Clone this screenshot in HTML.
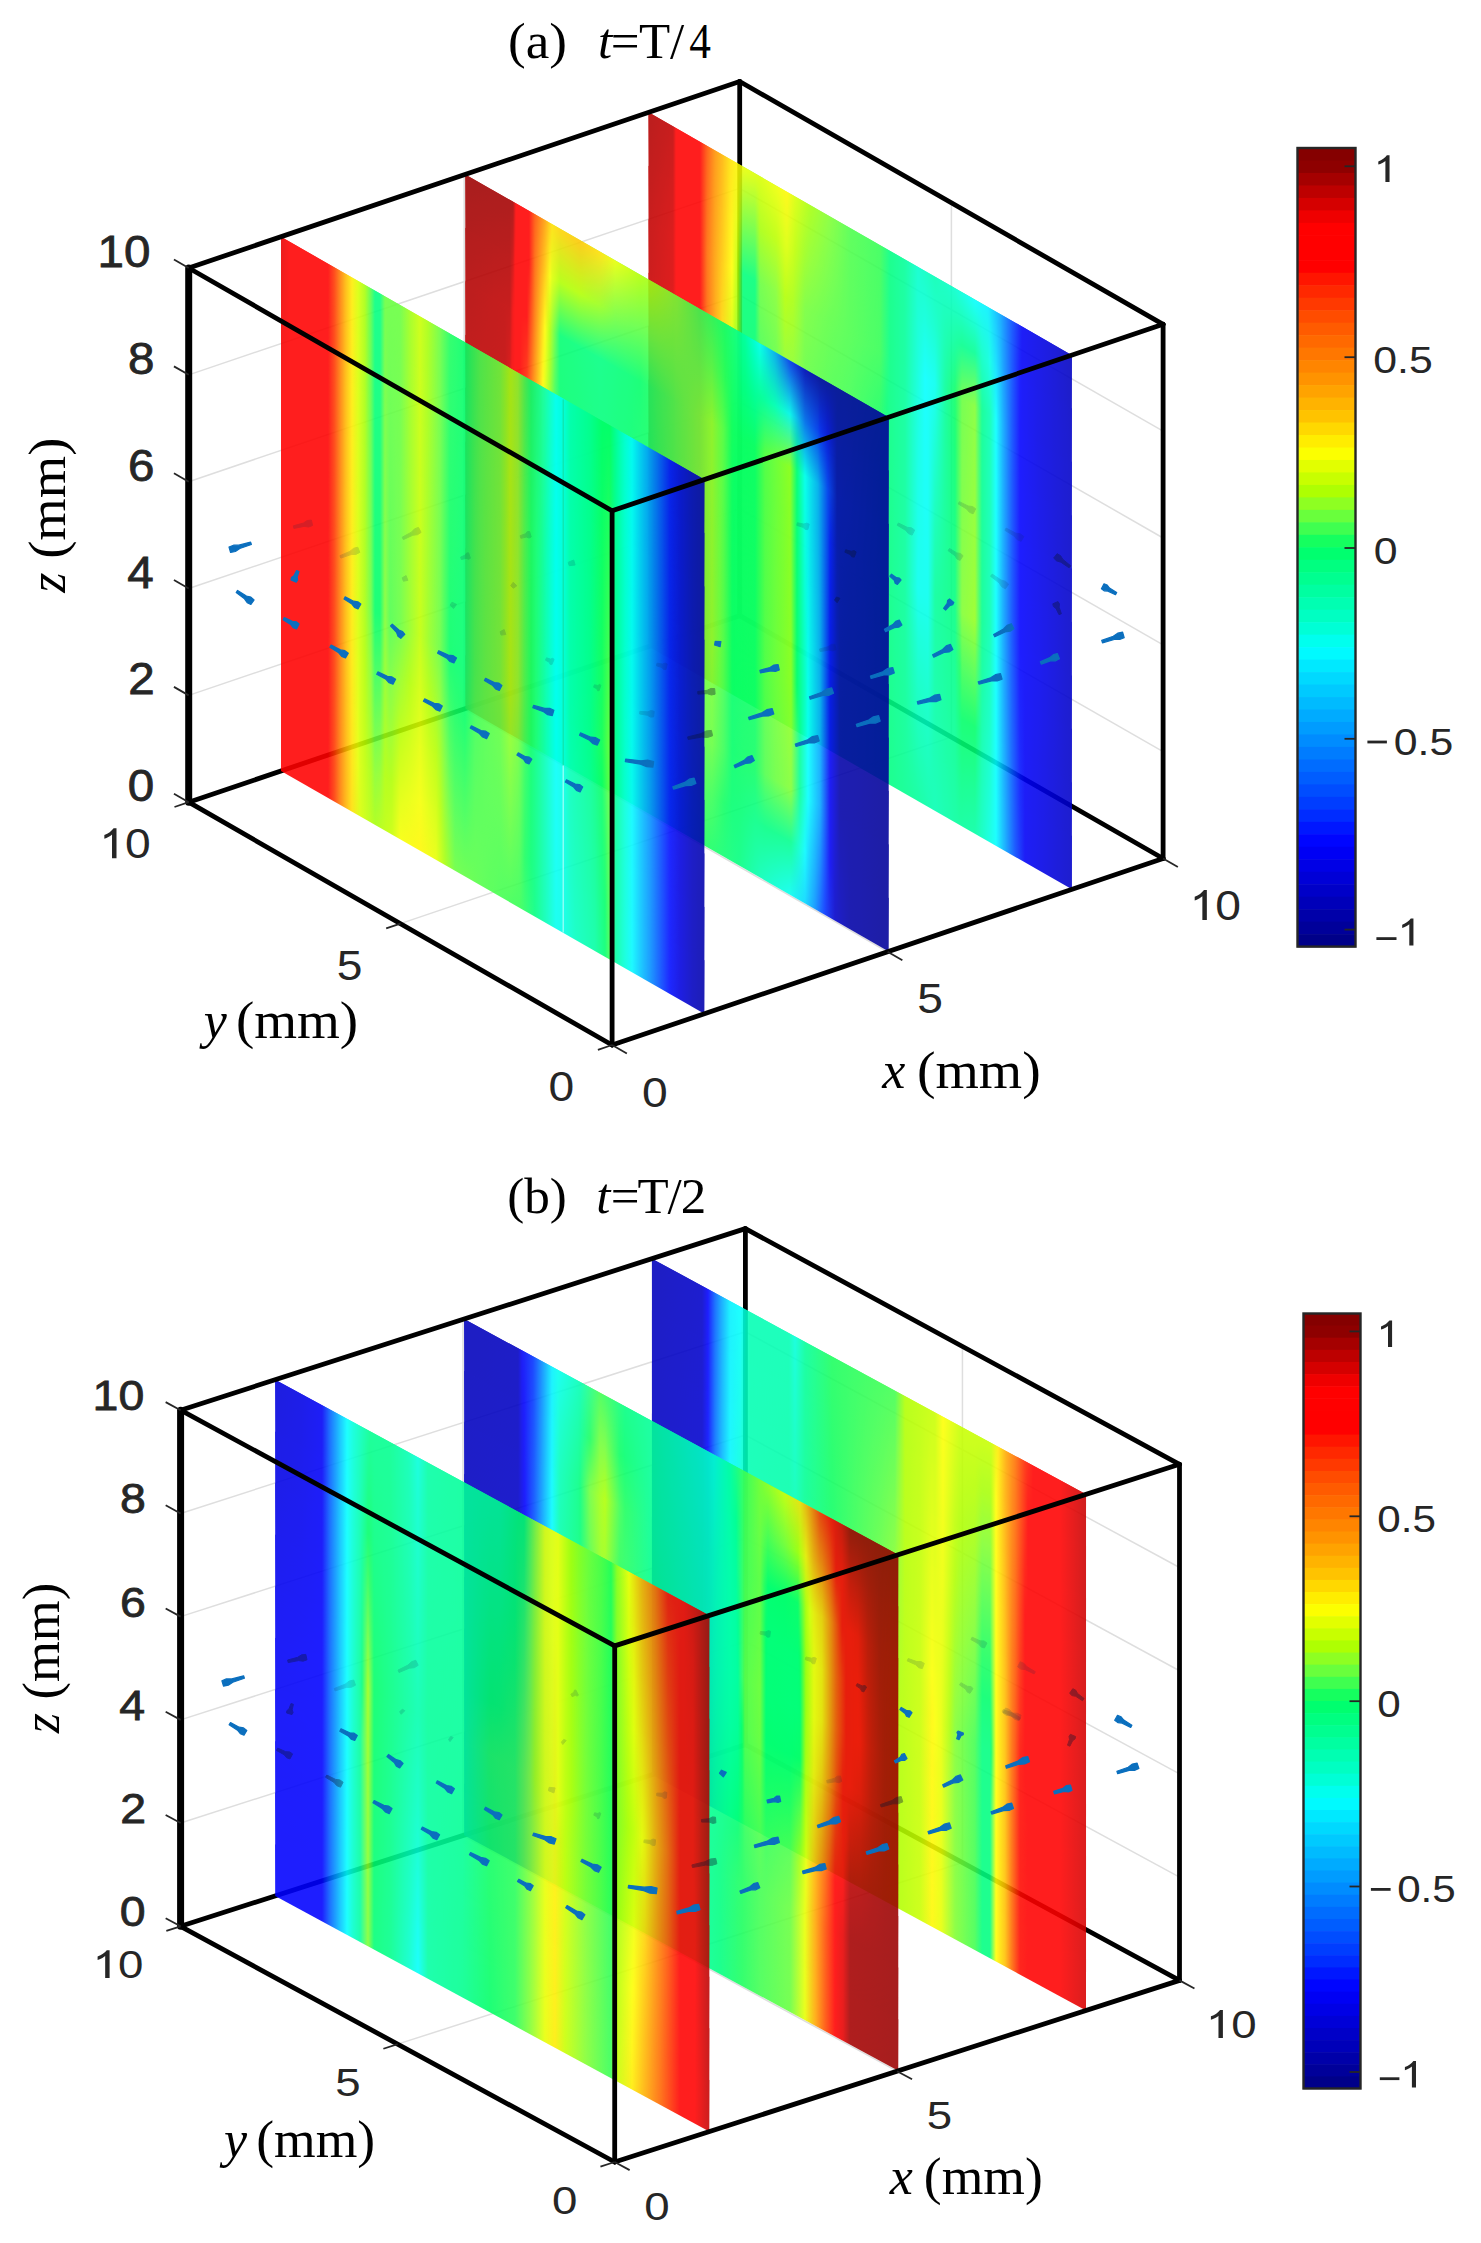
<!DOCTYPE html>
<html><head><meta charset="utf-8"><style>
html,body{margin:0;padding:0;background:#fff;}
svg{display:block;}
</style></head><body>
<svg width="1481" height="2243" viewBox="0 0 1481 2243">
<rect width="1481" height="2243" fill="#fff"/>
<defs>
<linearGradient id="g1" gradientUnits="userSpaceOnUse" x1="0" y1="0" x2="423.4" y2="0"><stop offset="0.0000" stop-color="#b20000"/><stop offset="0.0578" stop-color="#c10000"/><stop offset="0.0649" stop-color="#ff0000"/><stop offset="0.1216" stop-color="#ff0000"/><stop offset="0.1381" stop-color="#ff5000"/><stop offset="0.1570" stop-color="#ff9000"/><stop offset="0.1736" stop-color="#ffb200"/><stop offset="0.1925" stop-color="#ffe000"/><stop offset="0.2090" stop-color="#fff300"/><stop offset="0.2279" stop-color="#e8ff00"/><stop offset="0.2633" stop-color="#d8ff00"/><stop offset="0.3058" stop-color="#efff00"/><stop offset="0.3271" stop-color="#fff900"/><stop offset="0.3460" stop-color="#d8ff00"/><stop offset="0.3814" stop-color="#a6ff0a"/><stop offset="0.4263" stop-color="#80ff30"/><stop offset="0.4759" stop-color="#4dff4a"/><stop offset="0.5467" stop-color="#33ff54"/><stop offset="0.5704" stop-color="#00ff80"/><stop offset="0.6058" stop-color="#00ff99"/><stop offset="0.6365" stop-color="#00ffcc"/><stop offset="0.6766" stop-color="#00ffb3"/><stop offset="0.7239" stop-color="#00ffcc"/><stop offset="0.7711" stop-color="#00ffff"/><stop offset="0.8018" stop-color="#00f0ff"/><stop offset="0.8302" stop-color="#00a8ff"/><stop offset="0.8585" stop-color="#0048ff"/><stop offset="0.8821" stop-color="#0000f6"/><stop offset="0.9364" stop-color="#0000e0"/><stop offset="0.9979" stop-color="#0000c0"/></linearGradient>
<linearGradient id="g2" gradientUnits="userSpaceOnUse" x1="0" y1="0" x2="423.4" y2="0"><stop offset="0.0000" stop-color="#b90000"/><stop offset="0.0578" stop-color="#cc0000"/><stop offset="0.0649" stop-color="#ff0000"/><stop offset="0.1216" stop-color="#ff0000"/><stop offset="0.1381" stop-color="#ff5b00"/><stop offset="0.1570" stop-color="#ff9700"/><stop offset="0.1736" stop-color="#ffbb00"/><stop offset="0.1925" stop-color="#ffea00"/><stop offset="0.1972" stop-color="#fff200"/><stop offset="0.2090" stop-color="#e6ff00"/><stop offset="0.2114" stop-color="#ddff00"/><stop offset="0.2232" stop-color="#7bff32"/><stop offset="0.2279" stop-color="#74ff36"/><stop offset="0.2515" stop-color="#71ff37"/><stop offset="0.2633" stop-color="#a6ff0a"/><stop offset="0.3011" stop-color="#bbff00"/><stop offset="0.3058" stop-color="#c0ff00"/><stop offset="0.3224" stop-color="#d9ff00"/><stop offset="0.3271" stop-color="#dbff00"/><stop offset="0.3413" stop-color="#c6ff00"/><stop offset="0.3460" stop-color="#bdff00"/><stop offset="0.3696" stop-color="#98ff18"/><stop offset="0.3814" stop-color="#8cff24"/><stop offset="0.4263" stop-color="#6dff3a"/><stop offset="0.4759" stop-color="#4bff4a"/><stop offset="0.5467" stop-color="#33ff54"/><stop offset="0.5704" stop-color="#00ff80"/><stop offset="0.6058" stop-color="#00ff99"/><stop offset="0.6365" stop-color="#00ffd3"/><stop offset="0.6530" stop-color="#00ffde"/><stop offset="0.6766" stop-color="#00ffcc"/><stop offset="0.7003" stop-color="#00ffac"/><stop offset="0.7239" stop-color="#00ff98"/><stop offset="0.7404" stop-color="#00ff8b"/><stop offset="0.7711" stop-color="#00ff92"/><stop offset="0.7876" stop-color="#00ffc4"/><stop offset="0.8018" stop-color="#00ffd8"/><stop offset="0.8065" stop-color="#00ffe7"/><stop offset="0.8207" stop-color="#00deff"/><stop offset="0.8302" stop-color="#00bbff"/><stop offset="0.8372" stop-color="#009cff"/><stop offset="0.8585" stop-color="#0048ff"/><stop offset="0.8774" stop-color="#0003ff"/><stop offset="0.8821" stop-color="#0000f9"/><stop offset="0.9246" stop-color="#0000e5"/><stop offset="0.9364" stop-color="#0000e0"/><stop offset="0.9979" stop-color="#0000c5"/></linearGradient>
<linearGradient id="g3" gradientUnits="userSpaceOnUse" x1="0" y1="0" x2="423.4" y2="0"><stop offset="0.0000" stop-color="#c10000"/><stop offset="0.0578" stop-color="#d70000"/><stop offset="0.0649" stop-color="#ff0000"/><stop offset="0.1216" stop-color="#ff0000"/><stop offset="0.1381" stop-color="#ff6600"/><stop offset="0.1570" stop-color="#ff9e00"/><stop offset="0.1736" stop-color="#ffc600"/><stop offset="0.1925" stop-color="#fff400"/><stop offset="0.1972" stop-color="#ffff00"/><stop offset="0.2090" stop-color="#bdff00"/><stop offset="0.2114" stop-color="#b0ff00"/><stop offset="0.2232" stop-color="#00ff7b"/><stop offset="0.2279" stop-color="#00ff7a"/><stop offset="0.2515" stop-color="#00ff76"/><stop offset="0.2633" stop-color="#66ff3d"/><stop offset="0.3011" stop-color="#80ff30"/><stop offset="0.3058" stop-color="#8bff25"/><stop offset="0.3224" stop-color="#b0ff00"/><stop offset="0.3271" stop-color="#aeff02"/><stop offset="0.3413" stop-color="#a6ff0a"/><stop offset="0.3460" stop-color="#9eff12"/><stop offset="0.3696" stop-color="#73ff36"/><stop offset="0.3814" stop-color="#6eff39"/><stop offset="0.4263" stop-color="#5aff43"/><stop offset="0.4759" stop-color="#4aff4b"/><stop offset="0.5467" stop-color="#33ff54"/><stop offset="0.5704" stop-color="#00ff80"/><stop offset="0.6058" stop-color="#00ff99"/><stop offset="0.6365" stop-color="#00ffdb"/><stop offset="0.6530" stop-color="#00ffff"/><stop offset="0.6766" stop-color="#00fff0"/><stop offset="0.7003" stop-color="#00ff99"/><stop offset="0.7239" stop-color="#08ff63"/><stop offset="0.7404" stop-color="#66ff3d"/><stop offset="0.7711" stop-color="#80ff30"/><stop offset="0.7876" stop-color="#00ff8f"/><stop offset="0.8018" stop-color="#00ffaa"/><stop offset="0.8065" stop-color="#00ffb3"/><stop offset="0.8207" stop-color="#00ffff"/><stop offset="0.8302" stop-color="#00ccff"/><stop offset="0.8372" stop-color="#00a8ff"/><stop offset="0.8585" stop-color="#0048ff"/><stop offset="0.8774" stop-color="#0000ff"/><stop offset="0.8821" stop-color="#0000fc"/><stop offset="0.9246" stop-color="#0000e4"/><stop offset="0.9364" stop-color="#0000e0"/><stop offset="0.9979" stop-color="#0000c9"/></linearGradient>
<linearGradient id="g4" gradientUnits="userSpaceOnUse" x1="0" y1="0" x2="423.4" y2="0"><stop offset="0.0000" stop-color="#c60000"/><stop offset="0.0578" stop-color="#db0000"/><stop offset="0.0649" stop-color="#ff0000"/><stop offset="0.1216" stop-color="#ff0000"/><stop offset="0.1381" stop-color="#ff6300"/><stop offset="0.1452" stop-color="#ff7a00"/><stop offset="0.1570" stop-color="#ffa100"/><stop offset="0.1688" stop-color="#ffc200"/><stop offset="0.1736" stop-color="#ffd200"/><stop offset="0.1972" stop-color="#e2ff00"/><stop offset="0.2043" stop-color="#baff00"/><stop offset="0.2114" stop-color="#97ff19"/><stop offset="0.2232" stop-color="#00ff71"/><stop offset="0.2515" stop-color="#00ff70"/><stop offset="0.2633" stop-color="#4dff4a"/><stop offset="0.3011" stop-color="#66ff3d"/><stop offset="0.3224" stop-color="#94ff1d"/><stop offset="0.3413" stop-color="#8fff21"/><stop offset="0.3578" stop-color="#7aff33"/><stop offset="0.3696" stop-color="#66ff3d"/><stop offset="0.4263" stop-color="#4fff48"/><stop offset="0.4759" stop-color="#41ff50"/><stop offset="0.5467" stop-color="#1bff5d"/><stop offset="0.5633" stop-color="#00ff75"/><stop offset="0.5704" stop-color="#00ff81"/><stop offset="0.6058" stop-color="#00ff99"/><stop offset="0.6365" stop-color="#00ffe0"/><stop offset="0.6530" stop-color="#00fffb"/><stop offset="0.6601" stop-color="#00fff8"/><stop offset="0.6766" stop-color="#00ffd5"/><stop offset="0.7003" stop-color="#00ff96"/><stop offset="0.7239" stop-color="#00ff6a"/><stop offset="0.7404" stop-color="#6dff3a"/><stop offset="0.7711" stop-color="#85ff2b"/><stop offset="0.7876" stop-color="#00ff8f"/><stop offset="0.8065" stop-color="#00ffb3"/><stop offset="0.8207" stop-color="#00ffff"/><stop offset="0.8372" stop-color="#00a8ff"/><stop offset="0.8585" stop-color="#0048ff"/><stop offset="0.8774" stop-color="#0000ff"/><stop offset="0.9246" stop-color="#0000e7"/><stop offset="0.9979" stop-color="#0000c9"/></linearGradient>
<linearGradient id="g5" gradientUnits="userSpaceOnUse" x1="0" y1="0" x2="423.4" y2="0"><stop offset="0.0000" stop-color="#cc0000"/><stop offset="0.0578" stop-color="#df0000"/><stop offset="0.0649" stop-color="#ff0000"/><stop offset="0.1216" stop-color="#ff0000"/><stop offset="0.1381" stop-color="#ff6100"/><stop offset="0.1452" stop-color="#ff7a00"/><stop offset="0.1570" stop-color="#ffa300"/><stop offset="0.1688" stop-color="#ffcc00"/><stop offset="0.1736" stop-color="#ffde00"/><stop offset="0.1972" stop-color="#c4ff00"/><stop offset="0.2043" stop-color="#98ff18"/><stop offset="0.2114" stop-color="#7cff32"/><stop offset="0.2232" stop-color="#00ff68"/><stop offset="0.2515" stop-color="#00ff6b"/><stop offset="0.2633" stop-color="#33ff54"/><stop offset="0.3011" stop-color="#4dff4a"/><stop offset="0.3224" stop-color="#74ff36"/><stop offset="0.3413" stop-color="#74ff36"/><stop offset="0.3578" stop-color="#67ff3d"/><stop offset="0.3696" stop-color="#58ff44"/><stop offset="0.4263" stop-color="#45ff4d"/><stop offset="0.4759" stop-color="#38ff53"/><stop offset="0.5467" stop-color="#03ff65"/><stop offset="0.5633" stop-color="#00ff79"/><stop offset="0.5704" stop-color="#00ff82"/><stop offset="0.6058" stop-color="#00ff99"/><stop offset="0.6365" stop-color="#00ffe6"/><stop offset="0.6530" stop-color="#00fff8"/><stop offset="0.6601" stop-color="#00fff6"/><stop offset="0.6766" stop-color="#00ffc0"/><stop offset="0.7003" stop-color="#00ff93"/><stop offset="0.7239" stop-color="#00ff71"/><stop offset="0.7404" stop-color="#73ff36"/><stop offset="0.7711" stop-color="#8aff26"/><stop offset="0.7876" stop-color="#00ff8f"/><stop offset="0.8065" stop-color="#00ffb3"/><stop offset="0.8207" stop-color="#00ffff"/><stop offset="0.8372" stop-color="#00a8ff"/><stop offset="0.8585" stop-color="#0048ff"/><stop offset="0.8774" stop-color="#0000ff"/><stop offset="0.9246" stop-color="#0000e9"/><stop offset="0.9979" stop-color="#0000c9"/></linearGradient>
<linearGradient id="g6" gradientUnits="userSpaceOnUse" x1="0" y1="0" x2="423.4" y2="0"><stop offset="0.0000" stop-color="#d10000"/><stop offset="0.0578" stop-color="#e30000"/><stop offset="0.0649" stop-color="#fc0000"/><stop offset="0.1216" stop-color="#ff0000"/><stop offset="0.1381" stop-color="#ff5e00"/><stop offset="0.1452" stop-color="#ff7a00"/><stop offset="0.1570" stop-color="#ffa600"/><stop offset="0.1688" stop-color="#ffd600"/><stop offset="0.1736" stop-color="#ffe900"/><stop offset="0.1972" stop-color="#a4ff0c"/><stop offset="0.2043" stop-color="#70ff38"/><stop offset="0.2114" stop-color="#5aff43"/><stop offset="0.2232" stop-color="#14ff5f"/><stop offset="0.2515" stop-color="#00ff66"/><stop offset="0.2633" stop-color="#1aff5d"/><stop offset="0.3011" stop-color="#33ff54"/><stop offset="0.3224" stop-color="#4eff49"/><stop offset="0.3413" stop-color="#54ff46"/><stop offset="0.3578" stop-color="#53ff46"/><stop offset="0.3696" stop-color="#4bff4b"/><stop offset="0.4263" stop-color="#3bff52"/><stop offset="0.4759" stop-color="#2fff56"/><stop offset="0.5467" stop-color="#00ff6e"/><stop offset="0.5633" stop-color="#00ff7c"/><stop offset="0.5704" stop-color="#00ff83"/><stop offset="0.6058" stop-color="#00ff99"/><stop offset="0.6365" stop-color="#00ffeb"/><stop offset="0.6530" stop-color="#00fff4"/><stop offset="0.6601" stop-color="#00fff3"/><stop offset="0.6766" stop-color="#00ffac"/><stop offset="0.7003" stop-color="#00ff90"/><stop offset="0.7239" stop-color="#00ff79"/><stop offset="0.7404" stop-color="#7aff33"/><stop offset="0.7711" stop-color="#8eff22"/><stop offset="0.7876" stop-color="#00ff8f"/><stop offset="0.8065" stop-color="#00ffb3"/><stop offset="0.8207" stop-color="#00ffff"/><stop offset="0.8372" stop-color="#00a8ff"/><stop offset="0.8585" stop-color="#0048ff"/><stop offset="0.8774" stop-color="#0000ff"/><stop offset="0.9246" stop-color="#0000eb"/><stop offset="0.9979" stop-color="#0000c9"/></linearGradient>
<linearGradient id="g7" gradientUnits="userSpaceOnUse" x1="0" y1="0" x2="423.4" y2="0"><stop offset="0.0000" stop-color="#d70000"/><stop offset="0.0578" stop-color="#e70000"/><stop offset="0.0649" stop-color="#f30000"/><stop offset="0.1216" stop-color="#ff0000"/><stop offset="0.1381" stop-color="#ff5b00"/><stop offset="0.1452" stop-color="#ff7a00"/><stop offset="0.1570" stop-color="#ffa800"/><stop offset="0.1688" stop-color="#ffe000"/><stop offset="0.1736" stop-color="#fff500"/><stop offset="0.1972" stop-color="#80ff30"/><stop offset="0.2043" stop-color="#40ff50"/><stop offset="0.2114" stop-color="#38ff53"/><stop offset="0.2232" stop-color="#2cff57"/><stop offset="0.2515" stop-color="#0dff62"/><stop offset="0.2633" stop-color="#00ff66"/><stop offset="0.3011" stop-color="#1aff5d"/><stop offset="0.3224" stop-color="#28ff58"/><stop offset="0.3413" stop-color="#35ff54"/><stop offset="0.3578" stop-color="#40ff50"/><stop offset="0.3696" stop-color="#3dff51"/><stop offset="0.4263" stop-color="#31ff55"/><stop offset="0.4759" stop-color="#26ff59"/><stop offset="0.5467" stop-color="#00ff78"/><stop offset="0.5633" stop-color="#00ff80"/><stop offset="0.5704" stop-color="#00ff84"/><stop offset="0.6058" stop-color="#00ff99"/><stop offset="0.6365" stop-color="#00fff0"/><stop offset="0.6530" stop-color="#00fff0"/><stop offset="0.6601" stop-color="#00fff0"/><stop offset="0.6766" stop-color="#00ff99"/><stop offset="0.7003" stop-color="#00ff8c"/><stop offset="0.7239" stop-color="#00ff80"/><stop offset="0.7404" stop-color="#80ff30"/><stop offset="0.7711" stop-color="#93ff1d"/><stop offset="0.7876" stop-color="#00ff8f"/><stop offset="0.8065" stop-color="#00ffb3"/><stop offset="0.8207" stop-color="#00ffff"/><stop offset="0.8372" stop-color="#00a8ff"/><stop offset="0.8585" stop-color="#0048ff"/><stop offset="0.8774" stop-color="#0000ff"/><stop offset="0.9246" stop-color="#0000ed"/><stop offset="0.9979" stop-color="#0000c9"/></linearGradient>
<linearGradient id="g8" gradientUnits="userSpaceOnUse" x1="0" y1="0" x2="423.4" y2="0"><stop offset="0.0000" stop-color="#d70000"/><stop offset="0.0578" stop-color="#e70000"/><stop offset="0.1216" stop-color="#ff0000"/><stop offset="0.1452" stop-color="#ff7a00"/><stop offset="0.1688" stop-color="#ffe000"/><stop offset="0.2043" stop-color="#40ff50"/><stop offset="0.2633" stop-color="#00ff66"/><stop offset="0.3578" stop-color="#40ff50"/><stop offset="0.4759" stop-color="#26ff59"/><stop offset="0.5633" stop-color="#00ff80"/><stop offset="0.6058" stop-color="#00ff96"/><stop offset="0.6341" stop-color="#00ffcf"/><stop offset="0.6365" stop-color="#00ffd6"/><stop offset="0.6601" stop-color="#00ffdb"/><stop offset="0.6766" stop-color="#00ffa0"/><stop offset="0.7239" stop-color="#00ff88"/><stop offset="0.7357" stop-color="#17ff5e"/><stop offset="0.7404" stop-color="#3fff50"/><stop offset="0.7711" stop-color="#4dff4a"/><stop offset="0.7876" stop-color="#00ff9b"/><stop offset="0.7947" stop-color="#00ffa8"/><stop offset="0.8065" stop-color="#00ffbd"/><stop offset="0.8207" stop-color="#00ffff"/><stop offset="0.8372" stop-color="#00adff"/><stop offset="0.8420" stop-color="#0098ff"/><stop offset="0.8585" stop-color="#004fff"/><stop offset="0.8656" stop-color="#0036ff"/><stop offset="0.8774" stop-color="#0007ff"/><stop offset="0.8892" stop-color="#0000f9"/><stop offset="0.9246" stop-color="#0000ec"/><stop offset="0.9979" stop-color="#0000c9"/></linearGradient>
<linearGradient id="g9" gradientUnits="userSpaceOnUse" x1="0" y1="0" x2="423.4" y2="0"><stop offset="0.0000" stop-color="#d70000"/><stop offset="0.0578" stop-color="#e70000"/><stop offset="0.1216" stop-color="#ff0000"/><stop offset="0.1452" stop-color="#ff7a00"/><stop offset="0.1688" stop-color="#ffe000"/><stop offset="0.2043" stop-color="#40ff50"/><stop offset="0.2633" stop-color="#00ff66"/><stop offset="0.3578" stop-color="#40ff50"/><stop offset="0.4759" stop-color="#26ff59"/><stop offset="0.5633" stop-color="#00ff80"/><stop offset="0.6058" stop-color="#00ff94"/><stop offset="0.6341" stop-color="#00ffbd"/><stop offset="0.6365" stop-color="#00ffc0"/><stop offset="0.6601" stop-color="#00ffc7"/><stop offset="0.6766" stop-color="#00ffa6"/><stop offset="0.7239" stop-color="#00ff8f"/><stop offset="0.7357" stop-color="#00ff71"/><stop offset="0.7404" stop-color="#00ff67"/><stop offset="0.7711" stop-color="#00ff66"/><stop offset="0.7876" stop-color="#00ffa8"/><stop offset="0.7947" stop-color="#00ffb5"/><stop offset="0.8065" stop-color="#00ffc7"/><stop offset="0.8207" stop-color="#00ffff"/><stop offset="0.8372" stop-color="#00b2ff"/><stop offset="0.8420" stop-color="#009dff"/><stop offset="0.8585" stop-color="#0056ff"/><stop offset="0.8656" stop-color="#003cff"/><stop offset="0.8774" stop-color="#000fff"/><stop offset="0.8892" stop-color="#0000f8"/><stop offset="0.9246" stop-color="#0000ea"/><stop offset="0.9979" stop-color="#0000c9"/></linearGradient>
<linearGradient id="g10" gradientUnits="userSpaceOnUse" x1="0" y1="0" x2="423.4" y2="0"><stop offset="0.0000" stop-color="#d70000"/><stop offset="0.0578" stop-color="#e70000"/><stop offset="0.1216" stop-color="#ff0000"/><stop offset="0.1452" stop-color="#ff7a00"/><stop offset="0.1688" stop-color="#ffe000"/><stop offset="0.2043" stop-color="#40ff50"/><stop offset="0.2633" stop-color="#00ff66"/><stop offset="0.3578" stop-color="#40ff50"/><stop offset="0.4759" stop-color="#26ff59"/><stop offset="0.5633" stop-color="#00ff80"/><stop offset="0.6058" stop-color="#00ff92"/><stop offset="0.6341" stop-color="#00ffab"/><stop offset="0.6365" stop-color="#00ffae"/><stop offset="0.6601" stop-color="#00ffb8"/><stop offset="0.6766" stop-color="#00ffac"/><stop offset="0.7239" stop-color="#00ff96"/><stop offset="0.7357" stop-color="#00ff85"/><stop offset="0.7404" stop-color="#00ff81"/><stop offset="0.7711" stop-color="#00ff85"/><stop offset="0.7876" stop-color="#00ffb4"/><stop offset="0.7947" stop-color="#00ffc0"/><stop offset="0.8065" stop-color="#00ffd4"/><stop offset="0.8207" stop-color="#00ffff"/><stop offset="0.8372" stop-color="#00b6ff"/><stop offset="0.8420" stop-color="#00a3ff"/><stop offset="0.8585" stop-color="#005eff"/><stop offset="0.8656" stop-color="#0042ff"/><stop offset="0.8774" stop-color="#0017ff"/><stop offset="0.8892" stop-color="#0000f7"/><stop offset="0.9246" stop-color="#0000e9"/><stop offset="0.9979" stop-color="#0000c9"/></linearGradient>
<linearGradient id="g11" gradientUnits="userSpaceOnUse" x1="0" y1="0" x2="423.4" y2="0"><stop offset="0.0000" stop-color="#d70000"/><stop offset="0.0578" stop-color="#e70000"/><stop offset="0.1216" stop-color="#ff0000"/><stop offset="0.1452" stop-color="#ff7a00"/><stop offset="0.1688" stop-color="#ffe000"/><stop offset="0.2043" stop-color="#40ff50"/><stop offset="0.2633" stop-color="#00ff66"/><stop offset="0.3578" stop-color="#40ff50"/><stop offset="0.4759" stop-color="#26ff59"/><stop offset="0.5633" stop-color="#00ff80"/><stop offset="0.6341" stop-color="#00ff99"/><stop offset="0.6766" stop-color="#00ffb3"/><stop offset="0.7357" stop-color="#00ff99"/><stop offset="0.7711" stop-color="#00ffa3"/><stop offset="0.7947" stop-color="#00ffcc"/><stop offset="0.8207" stop-color="#00ffff"/><stop offset="0.8420" stop-color="#00a8ff"/><stop offset="0.8656" stop-color="#0048ff"/><stop offset="0.8892" stop-color="#0000f6"/><stop offset="0.9979" stop-color="#0000c9"/></linearGradient>
<linearGradient id="mg13" gradientUnits="userSpaceOnUse" x1="0" y1="480.78" x2="0" y2="534.2"><stop offset="0" stop-color="#fff"/><stop offset="1" stop-color="#000"/></linearGradient>
<mask id="m12" maskUnits="userSpaceOnUse" x="-2" y="425.36" width="427.4" height="110.84"><rect x="-2" y="425.36" width="427.4" height="110.84" fill="url(#mg13)"/></mask>
<linearGradient id="mg15" gradientUnits="userSpaceOnUse" x1="0" y1="427.36" x2="0" y2="480.78"><stop offset="0" stop-color="#fff"/><stop offset="1" stop-color="#000"/></linearGradient>
<mask id="m14" maskUnits="userSpaceOnUse" x="-2" y="371.94" width="427.4" height="110.84"><rect x="-2" y="371.94" width="427.4" height="110.84" fill="url(#mg15)"/></mask>
<linearGradient id="mg17" gradientUnits="userSpaceOnUse" x1="0" y1="373.94" x2="0" y2="427.36"><stop offset="0" stop-color="#fff"/><stop offset="1" stop-color="#000"/></linearGradient>
<mask id="m16" maskUnits="userSpaceOnUse" x="-2" y="318.52" width="427.4" height="110.84"><rect x="-2" y="318.52" width="427.4" height="110.84" fill="url(#mg17)"/></mask>
<linearGradient id="mg19" gradientUnits="userSpaceOnUse" x1="0" y1="320.52" x2="0" y2="373.94"><stop offset="0" stop-color="#fff"/><stop offset="1" stop-color="#000"/></linearGradient>
<mask id="m18" maskUnits="userSpaceOnUse" x="-2" y="265.1" width="427.4" height="110.84"><rect x="-2" y="265.1" width="427.4" height="110.84" fill="url(#mg19)"/></mask>
<linearGradient id="mg21" gradientUnits="userSpaceOnUse" x1="0" y1="267.1" x2="0" y2="320.52"><stop offset="0" stop-color="#fff"/><stop offset="1" stop-color="#000"/></linearGradient>
<mask id="m20" maskUnits="userSpaceOnUse" x="-2" y="211.68" width="427.4" height="110.84"><rect x="-2" y="211.68" width="427.4" height="110.84" fill="url(#mg21)"/></mask>
<linearGradient id="mg23" gradientUnits="userSpaceOnUse" x1="0" y1="213.68" x2="0" y2="267.1"><stop offset="0" stop-color="#fff"/><stop offset="1" stop-color="#000"/></linearGradient>
<mask id="m22" maskUnits="userSpaceOnUse" x="-2" y="158.26" width="427.4" height="110.84"><rect x="-2" y="158.26" width="427.4" height="110.84" fill="url(#mg23)"/></mask>
<linearGradient id="mg25" gradientUnits="userSpaceOnUse" x1="0" y1="160.26" x2="0" y2="213.68"><stop offset="0" stop-color="#fff"/><stop offset="1" stop-color="#000"/></linearGradient>
<mask id="m24" maskUnits="userSpaceOnUse" x="-2" y="104.84" width="427.4" height="110.84"><rect x="-2" y="104.84" width="427.4" height="110.84" fill="url(#mg25)"/></mask>
<linearGradient id="mg27" gradientUnits="userSpaceOnUse" x1="0" y1="106.84" x2="0" y2="160.26"><stop offset="0" stop-color="#fff"/><stop offset="1" stop-color="#000"/></linearGradient>
<mask id="m26" maskUnits="userSpaceOnUse" x="-2" y="51.42" width="427.4" height="110.84"><rect x="-2" y="51.42" width="427.4" height="110.84" fill="url(#mg27)"/></mask>
<linearGradient id="mg29" gradientUnits="userSpaceOnUse" x1="0" y1="53.42" x2="0" y2="106.84"><stop offset="0" stop-color="#fff"/><stop offset="1" stop-color="#000"/></linearGradient>
<mask id="m28" maskUnits="userSpaceOnUse" x="-2" y="-2" width="427.4" height="110.84"><rect x="-2" y="-2" width="427.4" height="110.84" fill="url(#mg29)"/></mask>
<linearGradient id="mg31" gradientUnits="userSpaceOnUse" x1="0" y1="0" x2="0" y2="53.42"><stop offset="0" stop-color="#fff"/><stop offset="1" stop-color="#000"/></linearGradient>
<mask id="m30" maskUnits="userSpaceOnUse" x="-2" y="-2" width="427.4" height="57.42"><rect x="-2" y="-2" width="427.4" height="57.42" fill="url(#mg31)"/></mask>
<linearGradient id="g32" gradientUnits="userSpaceOnUse" x1="0" y1="0" x2="423.4" y2="0"><stop offset="0.0005" stop-color="#9c0000"/><stop offset="0.1127" stop-color="#a40000"/><stop offset="0.1197" stop-color="#ff0000"/><stop offset="0.1504" stop-color="#ff0000"/><stop offset="0.1646" stop-color="#ff5000"/><stop offset="0.1882" stop-color="#ff9e00"/><stop offset="0.2048" stop-color="#ffe000"/><stop offset="0.2237" stop-color="#ffd300"/><stop offset="0.2709" stop-color="#ffc600"/><stop offset="0.3181" stop-color="#ffe000"/><stop offset="0.3536" stop-color="#e8ff00"/><stop offset="0.4126" stop-color="#b0ff00"/><stop offset="0.4835" stop-color="#80ff30"/><stop offset="0.5543" stop-color="#33ff54"/><stop offset="0.6134" stop-color="#00ff70"/><stop offset="0.6606" stop-color="#00ffa3"/><stop offset="0.6960" stop-color="#00ffff"/><stop offset="0.7315" stop-color="#00a8ff"/><stop offset="0.7669" stop-color="#0030ff"/><stop offset="0.8023" stop-color="#0000c9"/><stop offset="0.8377" stop-color="#0000a8"/><stop offset="0.9983" stop-color="#00009a"/></linearGradient>
<linearGradient id="g33" gradientUnits="userSpaceOnUse" x1="0" y1="0" x2="423.4" y2="0"><stop offset="0.0005" stop-color="#a70000"/><stop offset="0.1056" stop-color="#b20000"/><stop offset="0.1127" stop-color="#ca0000"/><stop offset="0.1174" stop-color="#fe0000"/><stop offset="0.1197" stop-color="#ff0000"/><stop offset="0.1457" stop-color="#ff0000"/><stop offset="0.1504" stop-color="#ff0000"/><stop offset="0.1646" stop-color="#ff6600"/><stop offset="0.1835" stop-color="#ffb300"/><stop offset="0.1882" stop-color="#ffc700"/><stop offset="0.2000" stop-color="#f9ff00"/><stop offset="0.2048" stop-color="#deff00"/><stop offset="0.2237" stop-color="#b0ff00"/><stop offset="0.2709" stop-color="#b2ff00"/><stop offset="0.3181" stop-color="#98ff18"/><stop offset="0.3536" stop-color="#76ff35"/><stop offset="0.3890" stop-color="#65ff3d"/><stop offset="0.4126" stop-color="#5eff41"/><stop offset="0.4598" stop-color="#5eff41"/><stop offset="0.4835" stop-color="#5bff42"/><stop offset="0.5543" stop-color="#4dff4a"/><stop offset="0.5827" stop-color="#47ff4c"/><stop offset="0.6110" stop-color="#15ff5f"/><stop offset="0.6134" stop-color="#0fff61"/><stop offset="0.6299" stop-color="#00ff74"/><stop offset="0.6606" stop-color="#00ff84"/><stop offset="0.6842" stop-color="#00ff9c"/><stop offset="0.6960" stop-color="#00ffa1"/><stop offset="0.7078" stop-color="#00ffa9"/><stop offset="0.7315" stop-color="#00ffc2"/><stop offset="0.7669" stop-color="#00f5ff"/><stop offset="0.7834" stop-color="#00b6ff"/><stop offset="0.8023" stop-color="#0067ff"/><stop offset="0.8330" stop-color="#002dff"/><stop offset="0.8377" stop-color="#001aff"/><stop offset="0.8566" stop-color="#0000e6"/><stop offset="0.8779" stop-color="#0000ab"/><stop offset="0.9983" stop-color="#00009a"/></linearGradient>
<linearGradient id="g34" gradientUnits="userSpaceOnUse" x1="0" y1="0" x2="423.4" y2="0"><stop offset="0.0005" stop-color="#b20000"/><stop offset="0.1056" stop-color="#c10000"/><stop offset="0.1127" stop-color="#f40000"/><stop offset="0.1174" stop-color="#ff0000"/><stop offset="0.1197" stop-color="#ff0000"/><stop offset="0.1457" stop-color="#ff0000"/><stop offset="0.1504" stop-color="#ff2000"/><stop offset="0.1646" stop-color="#ff7a00"/><stop offset="0.1835" stop-color="#ffe000"/><stop offset="0.1882" stop-color="#fffb00"/><stop offset="0.2000" stop-color="#b0ff00"/><stop offset="0.2048" stop-color="#8fff21"/><stop offset="0.2237" stop-color="#00ff70"/><stop offset="0.2709" stop-color="#00ff78"/><stop offset="0.3181" stop-color="#00ff80"/><stop offset="0.3536" stop-color="#00ff78"/><stop offset="0.3890" stop-color="#00ff70"/><stop offset="0.4126" stop-color="#00ff68"/><stop offset="0.4598" stop-color="#26ff59"/><stop offset="0.4835" stop-color="#36ff53"/><stop offset="0.5543" stop-color="#66ff3d"/><stop offset="0.5827" stop-color="#80ff30"/><stop offset="0.6110" stop-color="#40ff50"/><stop offset="0.6134" stop-color="#38ff53"/><stop offset="0.6299" stop-color="#00ff66"/><stop offset="0.6606" stop-color="#07ff64"/><stop offset="0.6842" stop-color="#0dff62"/><stop offset="0.6960" stop-color="#33ff54"/><stop offset="0.7078" stop-color="#5aff43"/><stop offset="0.7315" stop-color="#73ff36"/><stop offset="0.7669" stop-color="#93ff1d"/><stop offset="0.7834" stop-color="#00ff80"/><stop offset="0.8023" stop-color="#00ffff"/><stop offset="0.8330" stop-color="#00a8ff"/><stop offset="0.8377" stop-color="#0090ff"/><stop offset="0.8566" stop-color="#0030ff"/><stop offset="0.8779" stop-color="#0000b2"/><stop offset="0.9983" stop-color="#00009a"/></linearGradient>
<linearGradient id="g35" gradientUnits="userSpaceOnUse" x1="0" y1="0" x2="423.4" y2="0"><stop offset="0.0005" stop-color="#b80000"/><stop offset="0.0938" stop-color="#c10000"/><stop offset="0.1056" stop-color="#d30000"/><stop offset="0.1103" stop-color="#f30000"/><stop offset="0.1174" stop-color="#ff0000"/><stop offset="0.1292" stop-color="#ff0000"/><stop offset="0.1457" stop-color="#ff2300"/><stop offset="0.1481" stop-color="#ff3200"/><stop offset="0.1646" stop-color="#ff9100"/><stop offset="0.1670" stop-color="#ff9d00"/><stop offset="0.1835" stop-color="#fff900"/><stop offset="0.1882" stop-color="#e6ff00"/><stop offset="0.2000" stop-color="#98ff18"/><stop offset="0.2119" stop-color="#3eff51"/><stop offset="0.2237" stop-color="#00ff6e"/><stop offset="0.3181" stop-color="#00ff7c"/><stop offset="0.3890" stop-color="#00ff6f"/><stop offset="0.4362" stop-color="#0dff62"/><stop offset="0.4598" stop-color="#22ff5a"/><stop offset="0.5543" stop-color="#66ff3d"/><stop offset="0.5827" stop-color="#80ff30"/><stop offset="0.6110" stop-color="#40ff50"/><stop offset="0.6299" stop-color="#00ff66"/><stop offset="0.6842" stop-color="#0dff62"/><stop offset="0.7078" stop-color="#5aff43"/><stop offset="0.7315" stop-color="#73ff36"/><stop offset="0.7669" stop-color="#93ff1d"/><stop offset="0.7692" stop-color="#82ff2e"/><stop offset="0.7834" stop-color="#00ff7d"/><stop offset="0.7905" stop-color="#00ffa6"/><stop offset="0.8023" stop-color="#00fff3"/><stop offset="0.8094" stop-color="#00efff"/><stop offset="0.8330" stop-color="#00acff"/><stop offset="0.8377" stop-color="#0096ff"/><stop offset="0.8566" stop-color="#002bff"/><stop offset="0.8614" stop-color="#0007ff"/><stop offset="0.8779" stop-color="#0000b5"/><stop offset="0.8850" stop-color="#0000ae"/><stop offset="0.9983" stop-color="#00009a"/></linearGradient>
<linearGradient id="g36" gradientUnits="userSpaceOnUse" x1="0" y1="0" x2="423.4" y2="0"><stop offset="0.0005" stop-color="#bd0000"/><stop offset="0.0938" stop-color="#c40000"/><stop offset="0.1056" stop-color="#e50000"/><stop offset="0.1103" stop-color="#ff0000"/><stop offset="0.1174" stop-color="#ff0000"/><stop offset="0.1292" stop-color="#ff0000"/><stop offset="0.1457" stop-color="#ff4700"/><stop offset="0.1481" stop-color="#ff5700"/><stop offset="0.1646" stop-color="#ffaa00"/><stop offset="0.1670" stop-color="#ffb500"/><stop offset="0.1835" stop-color="#e7ff00"/><stop offset="0.1882" stop-color="#c7ff00"/><stop offset="0.2000" stop-color="#80ff30"/><stop offset="0.2119" stop-color="#2aff58"/><stop offset="0.2237" stop-color="#00ff6c"/><stop offset="0.3181" stop-color="#00ff78"/><stop offset="0.3890" stop-color="#00ff6d"/><stop offset="0.4362" stop-color="#09ff63"/><stop offset="0.4598" stop-color="#1dff5c"/><stop offset="0.5543" stop-color="#66ff3d"/><stop offset="0.5827" stop-color="#80ff30"/><stop offset="0.6110" stop-color="#40ff50"/><stop offset="0.6299" stop-color="#00ff66"/><stop offset="0.6842" stop-color="#0dff62"/><stop offset="0.7078" stop-color="#5aff43"/><stop offset="0.7315" stop-color="#73ff36"/><stop offset="0.7669" stop-color="#92ff1e"/><stop offset="0.7692" stop-color="#88ff28"/><stop offset="0.7834" stop-color="#00ff7a"/><stop offset="0.7905" stop-color="#00ffa1"/><stop offset="0.8023" stop-color="#00ffe8"/><stop offset="0.8094" stop-color="#00f4ff"/><stop offset="0.8330" stop-color="#00afff"/><stop offset="0.8377" stop-color="#009cff"/><stop offset="0.8566" stop-color="#0026ff"/><stop offset="0.8614" stop-color="#0001ff"/><stop offset="0.8779" stop-color="#0000b9"/><stop offset="0.8850" stop-color="#0000ac"/><stop offset="0.9983" stop-color="#00009a"/></linearGradient>
<linearGradient id="g37" gradientUnits="userSpaceOnUse" x1="0" y1="0" x2="423.4" y2="0"><stop offset="0.0005" stop-color="#c30000"/><stop offset="0.0938" stop-color="#c60000"/><stop offset="0.1056" stop-color="#f80000"/><stop offset="0.1103" stop-color="#ff0000"/><stop offset="0.1174" stop-color="#ff0000"/><stop offset="0.1292" stop-color="#ff0600"/><stop offset="0.1457" stop-color="#ff6700"/><stop offset="0.1481" stop-color="#ff7300"/><stop offset="0.1646" stop-color="#ffc400"/><stop offset="0.1670" stop-color="#ffd200"/><stop offset="0.1835" stop-color="#c7ff00"/><stop offset="0.1882" stop-color="#a6ff0a"/><stop offset="0.2000" stop-color="#60ff40"/><stop offset="0.2119" stop-color="#15ff5f"/><stop offset="0.2237" stop-color="#00ff69"/><stop offset="0.3181" stop-color="#00ff74"/><stop offset="0.3890" stop-color="#00ff6c"/><stop offset="0.4362" stop-color="#04ff65"/><stop offset="0.4598" stop-color="#19ff5d"/><stop offset="0.5543" stop-color="#66ff3d"/><stop offset="0.5827" stop-color="#80ff30"/><stop offset="0.6110" stop-color="#40ff50"/><stop offset="0.6299" stop-color="#00ff66"/><stop offset="0.6842" stop-color="#0dff62"/><stop offset="0.7078" stop-color="#5aff43"/><stop offset="0.7315" stop-color="#73ff36"/><stop offset="0.7669" stop-color="#92ff1e"/><stop offset="0.7692" stop-color="#8dff23"/><stop offset="0.7834" stop-color="#00ff77"/><stop offset="0.7905" stop-color="#00ff9d"/><stop offset="0.8023" stop-color="#00ffdc"/><stop offset="0.8094" stop-color="#00faff"/><stop offset="0.8330" stop-color="#00b3ff"/><stop offset="0.8377" stop-color="#00a2ff"/><stop offset="0.8566" stop-color="#0022ff"/><stop offset="0.8614" stop-color="#0000fb"/><stop offset="0.8779" stop-color="#0000bd"/><stop offset="0.8850" stop-color="#0000aa"/><stop offset="0.9983" stop-color="#00009a"/></linearGradient>
<linearGradient id="g38" gradientUnits="userSpaceOnUse" x1="0" y1="0" x2="423.4" y2="0"><stop offset="0.0005" stop-color="#c80000"/><stop offset="0.0938" stop-color="#c80000"/><stop offset="0.1056" stop-color="#ff0000"/><stop offset="0.1103" stop-color="#ff0000"/><stop offset="0.1174" stop-color="#ff0000"/><stop offset="0.1292" stop-color="#ff1a00"/><stop offset="0.1457" stop-color="#ff8200"/><stop offset="0.1481" stop-color="#ff9000"/><stop offset="0.1646" stop-color="#ffe500"/><stop offset="0.1670" stop-color="#fff300"/><stop offset="0.1835" stop-color="#a4ff0c"/><stop offset="0.1882" stop-color="#80ff30"/><stop offset="0.2000" stop-color="#40ff50"/><stop offset="0.2119" stop-color="#00ff66"/><stop offset="0.2237" stop-color="#00ff67"/><stop offset="0.3181" stop-color="#00ff70"/><stop offset="0.3890" stop-color="#00ff6a"/><stop offset="0.4362" stop-color="#00ff66"/><stop offset="0.4598" stop-color="#14ff5f"/><stop offset="0.5543" stop-color="#66ff3d"/><stop offset="0.5827" stop-color="#80ff30"/><stop offset="0.6110" stop-color="#40ff50"/><stop offset="0.6299" stop-color="#00ff66"/><stop offset="0.6842" stop-color="#0dff62"/><stop offset="0.7078" stop-color="#5aff43"/><stop offset="0.7315" stop-color="#73ff36"/><stop offset="0.7669" stop-color="#91ff1f"/><stop offset="0.7692" stop-color="#93ff1d"/><stop offset="0.7834" stop-color="#00ff74"/><stop offset="0.7905" stop-color="#00ff99"/><stop offset="0.8023" stop-color="#00ffd1"/><stop offset="0.8094" stop-color="#00ffff"/><stop offset="0.8330" stop-color="#00b6ff"/><stop offset="0.8377" stop-color="#00a8ff"/><stop offset="0.8566" stop-color="#001dff"/><stop offset="0.8614" stop-color="#0000f6"/><stop offset="0.8779" stop-color="#0000c0"/><stop offset="0.8850" stop-color="#0000a8"/><stop offset="0.9983" stop-color="#00009a"/></linearGradient>
<linearGradient id="g39" gradientUnits="userSpaceOnUse" x1="0" y1="0" x2="423.4" y2="0"><stop offset="0.0005" stop-color="#cc0000"/><stop offset="0.0938" stop-color="#cc0000"/><stop offset="0.1103" stop-color="#ff0000"/><stop offset="0.1292" stop-color="#ff1a00"/><stop offset="0.1481" stop-color="#ff9000"/><stop offset="0.1670" stop-color="#fff300"/><stop offset="0.1882" stop-color="#80ff30"/><stop offset="0.2119" stop-color="#00ff66"/><stop offset="0.3181" stop-color="#00ff6e"/><stop offset="0.4362" stop-color="#06ff64"/><stop offset="0.5543" stop-color="#60ff40"/><stop offset="0.5827" stop-color="#73ff36"/><stop offset="0.6110" stop-color="#3aff52"/><stop offset="0.6299" stop-color="#00ff66"/><stop offset="0.6842" stop-color="#0dff62"/><stop offset="0.7078" stop-color="#53ff46"/><stop offset="0.7315" stop-color="#6dff3a"/><stop offset="0.7692" stop-color="#8aff26"/><stop offset="0.7905" stop-color="#00ff99"/><stop offset="0.8094" stop-color="#00ffff"/><stop offset="0.8377" stop-color="#00a8ff"/><stop offset="0.8614" stop-color="#0000f6"/><stop offset="0.8850" stop-color="#0000a8"/><stop offset="0.9983" stop-color="#00009a"/></linearGradient>
<linearGradient id="g40" gradientUnits="userSpaceOnUse" x1="0" y1="0" x2="423.4" y2="0"><stop offset="0.0005" stop-color="#d00000"/><stop offset="0.0938" stop-color="#d00000"/><stop offset="0.1103" stop-color="#ff0000"/><stop offset="0.1292" stop-color="#ff1a00"/><stop offset="0.1481" stop-color="#ff9000"/><stop offset="0.1670" stop-color="#fff300"/><stop offset="0.1882" stop-color="#80ff30"/><stop offset="0.2119" stop-color="#00ff66"/><stop offset="0.3181" stop-color="#00ff6b"/><stop offset="0.4362" stop-color="#0dff62"/><stop offset="0.5543" stop-color="#5aff43"/><stop offset="0.5827" stop-color="#66ff3d"/><stop offset="0.6110" stop-color="#33ff54"/><stop offset="0.6299" stop-color="#00ff66"/><stop offset="0.6842" stop-color="#0dff62"/><stop offset="0.7078" stop-color="#4dff4a"/><stop offset="0.7315" stop-color="#66ff3d"/><stop offset="0.7692" stop-color="#80ff30"/><stop offset="0.7905" stop-color="#00ff99"/><stop offset="0.8094" stop-color="#00ffff"/><stop offset="0.8377" stop-color="#00a8ff"/><stop offset="0.8614" stop-color="#0000f6"/><stop offset="0.8850" stop-color="#0000a8"/><stop offset="0.9983" stop-color="#00009a"/></linearGradient>
<linearGradient id="g41" gradientUnits="userSpaceOnUse" x1="0" y1="0" x2="423.4" y2="0"><stop offset="0.0005" stop-color="#d30000"/><stop offset="0.0938" stop-color="#d30000"/><stop offset="0.1103" stop-color="#ff0000"/><stop offset="0.1292" stop-color="#ff1a00"/><stop offset="0.1481" stop-color="#ff9000"/><stop offset="0.1670" stop-color="#fff300"/><stop offset="0.1882" stop-color="#80ff30"/><stop offset="0.2119" stop-color="#00ff66"/><stop offset="0.3181" stop-color="#0dff62"/><stop offset="0.4362" stop-color="#1aff5d"/><stop offset="0.5543" stop-color="#3aff52"/><stop offset="0.5661" stop-color="#3cff51"/><stop offset="0.5827" stop-color="#37ff53"/><stop offset="0.6110" stop-color="#0eff61"/><stop offset="0.6299" stop-color="#00ff6f"/><stop offset="0.6488" stop-color="#00ff72"/><stop offset="0.6842" stop-color="#00ff84"/><stop offset="0.6960" stop-color="#00ff84"/><stop offset="0.7078" stop-color="#00ff82"/><stop offset="0.7315" stop-color="#00ff85"/><stop offset="0.7669" stop-color="#00ff8d"/><stop offset="0.7692" stop-color="#00ff8e"/><stop offset="0.7905" stop-color="#00ffd2"/><stop offset="0.8023" stop-color="#00fbff"/><stop offset="0.8094" stop-color="#00dfff"/><stop offset="0.8259" stop-color="#00aeff"/><stop offset="0.8377" stop-color="#0084ff"/><stop offset="0.8495" stop-color="#0042ff"/><stop offset="0.8614" stop-color="#0000f6"/><stop offset="0.8732" stop-color="#0000cd"/><stop offset="0.8850" stop-color="#0000b3"/><stop offset="0.9086" stop-color="#0000a7"/><stop offset="0.9983" stop-color="#00009a"/></linearGradient>
<linearGradient id="g42" gradientUnits="userSpaceOnUse" x1="0" y1="0" x2="423.4" y2="0"><stop offset="0.0005" stop-color="#d70000"/><stop offset="0.0938" stop-color="#d70000"/><stop offset="0.1103" stop-color="#ff0000"/><stop offset="0.1292" stop-color="#ff1a00"/><stop offset="0.1481" stop-color="#ff9000"/><stop offset="0.1670" stop-color="#fff300"/><stop offset="0.1882" stop-color="#80ff30"/><stop offset="0.2119" stop-color="#00ff66"/><stop offset="0.3181" stop-color="#26ff59"/><stop offset="0.4362" stop-color="#26ff59"/><stop offset="0.5661" stop-color="#1aff5d"/><stop offset="0.6488" stop-color="#00ff80"/><stop offset="0.6960" stop-color="#00ffb3"/><stop offset="0.7669" stop-color="#00fff0"/><stop offset="0.8023" stop-color="#00d7ff"/><stop offset="0.8259" stop-color="#0090ff"/><stop offset="0.8495" stop-color="#0030ff"/><stop offset="0.8732" stop-color="#0000c9"/><stop offset="0.9086" stop-color="#0000a8"/><stop offset="0.9983" stop-color="#00009a"/></linearGradient>
<linearGradient id="mg44" gradientUnits="userSpaceOnUse" x1="0" y1="480.78" x2="0" y2="534.2"><stop offset="0" stop-color="#fff"/><stop offset="1" stop-color="#000"/></linearGradient>
<mask id="m43" maskUnits="userSpaceOnUse" x="-2" y="425.36" width="427.4" height="110.84"><rect x="-2" y="425.36" width="427.4" height="110.84" fill="url(#mg44)"/></mask>
<linearGradient id="mg46" gradientUnits="userSpaceOnUse" x1="0" y1="427.36" x2="0" y2="480.78"><stop offset="0" stop-color="#fff"/><stop offset="1" stop-color="#000"/></linearGradient>
<mask id="m45" maskUnits="userSpaceOnUse" x="-2" y="371.94" width="427.4" height="110.84"><rect x="-2" y="371.94" width="427.4" height="110.84" fill="url(#mg46)"/></mask>
<linearGradient id="mg48" gradientUnits="userSpaceOnUse" x1="0" y1="373.94" x2="0" y2="427.36"><stop offset="0" stop-color="#fff"/><stop offset="1" stop-color="#000"/></linearGradient>
<mask id="m47" maskUnits="userSpaceOnUse" x="-2" y="318.52" width="427.4" height="110.84"><rect x="-2" y="318.52" width="427.4" height="110.84" fill="url(#mg48)"/></mask>
<linearGradient id="mg50" gradientUnits="userSpaceOnUse" x1="0" y1="320.52" x2="0" y2="373.94"><stop offset="0" stop-color="#fff"/><stop offset="1" stop-color="#000"/></linearGradient>
<mask id="m49" maskUnits="userSpaceOnUse" x="-2" y="265.1" width="427.4" height="110.84"><rect x="-2" y="265.1" width="427.4" height="110.84" fill="url(#mg50)"/></mask>
<linearGradient id="mg52" gradientUnits="userSpaceOnUse" x1="0" y1="267.1" x2="0" y2="320.52"><stop offset="0" stop-color="#fff"/><stop offset="1" stop-color="#000"/></linearGradient>
<mask id="m51" maskUnits="userSpaceOnUse" x="-2" y="211.68" width="427.4" height="110.84"><rect x="-2" y="211.68" width="427.4" height="110.84" fill="url(#mg52)"/></mask>
<linearGradient id="mg54" gradientUnits="userSpaceOnUse" x1="0" y1="213.68" x2="0" y2="267.1"><stop offset="0" stop-color="#fff"/><stop offset="1" stop-color="#000"/></linearGradient>
<mask id="m53" maskUnits="userSpaceOnUse" x="-2" y="158.26" width="427.4" height="110.84"><rect x="-2" y="158.26" width="427.4" height="110.84" fill="url(#mg54)"/></mask>
<linearGradient id="mg56" gradientUnits="userSpaceOnUse" x1="0" y1="160.26" x2="0" y2="213.68"><stop offset="0" stop-color="#fff"/><stop offset="1" stop-color="#000"/></linearGradient>
<mask id="m55" maskUnits="userSpaceOnUse" x="-2" y="104.84" width="427.4" height="110.84"><rect x="-2" y="104.84" width="427.4" height="110.84" fill="url(#mg56)"/></mask>
<linearGradient id="mg58" gradientUnits="userSpaceOnUse" x1="0" y1="106.84" x2="0" y2="160.26"><stop offset="0" stop-color="#fff"/><stop offset="1" stop-color="#000"/></linearGradient>
<mask id="m57" maskUnits="userSpaceOnUse" x="-2" y="51.42" width="427.4" height="110.84"><rect x="-2" y="51.42" width="427.4" height="110.84" fill="url(#mg58)"/></mask>
<linearGradient id="mg60" gradientUnits="userSpaceOnUse" x1="0" y1="53.42" x2="0" y2="106.84"><stop offset="0" stop-color="#fff"/><stop offset="1" stop-color="#000"/></linearGradient>
<mask id="m59" maskUnits="userSpaceOnUse" x="-2" y="-2" width="427.4" height="110.84"><rect x="-2" y="-2" width="427.4" height="110.84" fill="url(#mg60)"/></mask>
<linearGradient id="mg62" gradientUnits="userSpaceOnUse" x1="0" y1="0" x2="0" y2="53.42"><stop offset="0" stop-color="#fff"/><stop offset="1" stop-color="#000"/></linearGradient>
<mask id="m61" maskUnits="userSpaceOnUse" x="-2" y="-2" width="427.4" height="57.42"><rect x="-2" y="-2" width="427.4" height="57.42" fill="url(#mg62)"/></mask>
<linearGradient id="g63" gradientUnits="userSpaceOnUse" x1="0" y1="0" x2="423.4" y2="0"><stop offset="0.0000" stop-color="#e70000"/><stop offset="0.0213" stop-color="#ff0000"/><stop offset="0.1110" stop-color="#ff0000"/><stop offset="0.1252" stop-color="#ff3300"/><stop offset="0.1394" stop-color="#ff7a00"/><stop offset="0.1535" stop-color="#ffbb00"/><stop offset="0.1677" stop-color="#ffec00"/><stop offset="0.1819" stop-color="#d8ff00"/><stop offset="0.1984" stop-color="#a6ff0a"/><stop offset="0.2126" stop-color="#4dff4a"/><stop offset="0.2220" stop-color="#00ff80"/><stop offset="0.2338" stop-color="#00ff80"/><stop offset="0.2456" stop-color="#66ff3d"/><stop offset="0.2811" stop-color="#66ff3d"/><stop offset="0.3047" stop-color="#9dff13"/><stop offset="0.3283" stop-color="#c8ff00"/><stop offset="0.3472" stop-color="#a6ff0a"/><stop offset="0.3755" stop-color="#66ff3d"/><stop offset="0.3992" stop-color="#1aff5d"/><stop offset="0.4346" stop-color="#00ff66"/><stop offset="0.4700" stop-color="#40ff50"/><stop offset="0.5173" stop-color="#66ff3d"/><stop offset="0.5409" stop-color="#9dff13"/><stop offset="0.5598" stop-color="#80ff30"/><stop offset="0.5763" stop-color="#33ff54"/><stop offset="0.5905" stop-color="#00ff70"/><stop offset="0.6117" stop-color="#00ff99"/><stop offset="0.6306" stop-color="#00ffcc"/><stop offset="0.6495" stop-color="#00ffff"/><stop offset="0.6661" stop-color="#00ffe9"/><stop offset="0.6826" stop-color="#00ffb3"/><stop offset="0.7298" stop-color="#00ff8f"/><stop offset="0.7582" stop-color="#00ff66"/><stop offset="0.7771" stop-color="#00ff66"/><stop offset="0.7912" stop-color="#00ff99"/><stop offset="0.8125" stop-color="#00ffdb"/><stop offset="0.8290" stop-color="#00faff"/><stop offset="0.8479" stop-color="#00c9ff"/><stop offset="0.8715" stop-color="#0090ff"/><stop offset="0.8952" stop-color="#004dff"/><stop offset="0.9188" stop-color="#000bff"/><stop offset="0.9424" stop-color="#0000e0"/><stop offset="0.9707" stop-color="#0000c0"/><stop offset="0.9981" stop-color="#0000ad"/></linearGradient>
<linearGradient id="g64" gradientUnits="userSpaceOnUse" x1="0" y1="0" x2="423.4" y2="0"><stop offset="0.0000" stop-color="#ef0000"/><stop offset="0.0213" stop-color="#ff0000"/><stop offset="0.1110" stop-color="#ff0000"/><stop offset="0.1252" stop-color="#ff3300"/><stop offset="0.1394" stop-color="#ff7a00"/><stop offset="0.1535" stop-color="#ffbb00"/><stop offset="0.1677" stop-color="#ffec00"/><stop offset="0.1819" stop-color="#d8ff00"/><stop offset="0.1984" stop-color="#a6ff0a"/><stop offset="0.2126" stop-color="#51ff47"/><stop offset="0.2220" stop-color="#00ff7c"/><stop offset="0.2338" stop-color="#00ff7c"/><stop offset="0.2456" stop-color="#6bff3b"/><stop offset="0.2575" stop-color="#62ff3f"/><stop offset="0.2811" stop-color="#66ff3d"/><stop offset="0.3047" stop-color="#9bff15"/><stop offset="0.3283" stop-color="#c7ff00"/><stop offset="0.3472" stop-color="#a4ff0c"/><stop offset="0.3496" stop-color="#9fff11"/><stop offset="0.3755" stop-color="#66ff3d"/><stop offset="0.3992" stop-color="#15ff5f"/><stop offset="0.4346" stop-color="#00ff68"/><stop offset="0.4582" stop-color="#2cff57"/><stop offset="0.4700" stop-color="#40ff50"/><stop offset="0.4818" stop-color="#4aff4b"/><stop offset="0.5173" stop-color="#66ff3d"/><stop offset="0.5409" stop-color="#9dff13"/><stop offset="0.5598" stop-color="#80ff30"/><stop offset="0.5763" stop-color="#33ff54"/><stop offset="0.5905" stop-color="#00ff6f"/><stop offset="0.6117" stop-color="#00ff99"/><stop offset="0.6306" stop-color="#00ffcc"/><stop offset="0.6495" stop-color="#00ffff"/><stop offset="0.6661" stop-color="#00ffe9"/><stop offset="0.6826" stop-color="#00ffb3"/><stop offset="0.7298" stop-color="#00ff8f"/><stop offset="0.7582" stop-color="#04ff65"/><stop offset="0.7747" stop-color="#11ff60"/><stop offset="0.7771" stop-color="#0cff62"/><stop offset="0.7912" stop-color="#00ff99"/><stop offset="0.8125" stop-color="#00ffdb"/><stop offset="0.8290" stop-color="#00faff"/><stop offset="0.8479" stop-color="#00c9ff"/><stop offset="0.8715" stop-color="#0090ff"/><stop offset="0.8952" stop-color="#004dff"/><stop offset="0.9188" stop-color="#000bff"/><stop offset="0.9424" stop-color="#0000e0"/><stop offset="0.9707" stop-color="#0000c0"/><stop offset="0.9981" stop-color="#0000ad"/></linearGradient>
<linearGradient id="g65" gradientUnits="userSpaceOnUse" x1="0" y1="0" x2="423.4" y2="0"><stop offset="0.0000" stop-color="#f70000"/><stop offset="0.0213" stop-color="#ff0000"/><stop offset="0.1110" stop-color="#ff0000"/><stop offset="0.1252" stop-color="#ff3300"/><stop offset="0.1394" stop-color="#ff7a00"/><stop offset="0.1535" stop-color="#ffbb00"/><stop offset="0.1677" stop-color="#ffec00"/><stop offset="0.1819" stop-color="#d8ff00"/><stop offset="0.1984" stop-color="#a6ff0a"/><stop offset="0.2126" stop-color="#55ff45"/><stop offset="0.2220" stop-color="#00ff77"/><stop offset="0.2338" stop-color="#00ff77"/><stop offset="0.2456" stop-color="#6fff39"/><stop offset="0.2575" stop-color="#5eff41"/><stop offset="0.2811" stop-color="#66ff3d"/><stop offset="0.3047" stop-color="#9aff16"/><stop offset="0.3283" stop-color="#c5ff00"/><stop offset="0.3472" stop-color="#a2ff0e"/><stop offset="0.3496" stop-color="#9dff13"/><stop offset="0.3755" stop-color="#66ff3d"/><stop offset="0.3992" stop-color="#11ff60"/><stop offset="0.4346" stop-color="#00ff69"/><stop offset="0.4582" stop-color="#2eff56"/><stop offset="0.4700" stop-color="#40ff50"/><stop offset="0.4818" stop-color="#4bff4b"/><stop offset="0.5173" stop-color="#66ff3d"/><stop offset="0.5409" stop-color="#9dff13"/><stop offset="0.5598" stop-color="#80ff30"/><stop offset="0.5763" stop-color="#33ff54"/><stop offset="0.5905" stop-color="#00ff6d"/><stop offset="0.6117" stop-color="#00ff99"/><stop offset="0.6306" stop-color="#00ffcc"/><stop offset="0.6495" stop-color="#00ffff"/><stop offset="0.6661" stop-color="#00ffe9"/><stop offset="0.6826" stop-color="#00ffb3"/><stop offset="0.7298" stop-color="#00ff8f"/><stop offset="0.7582" stop-color="#09ff63"/><stop offset="0.7747" stop-color="#22ff5a"/><stop offset="0.7771" stop-color="#17ff5e"/><stop offset="0.7912" stop-color="#00ff99"/><stop offset="0.8125" stop-color="#00ffdb"/><stop offset="0.8290" stop-color="#00faff"/><stop offset="0.8479" stop-color="#00c9ff"/><stop offset="0.8715" stop-color="#0090ff"/><stop offset="0.8952" stop-color="#004dff"/><stop offset="0.9188" stop-color="#000bff"/><stop offset="0.9424" stop-color="#0000e0"/><stop offset="0.9707" stop-color="#0000c0"/><stop offset="0.9981" stop-color="#0000ad"/></linearGradient>
<linearGradient id="g66" gradientUnits="userSpaceOnUse" x1="0" y1="0" x2="423.4" y2="0"><stop offset="0.0000" stop-color="#ff0000"/><stop offset="0.0213" stop-color="#ff0000"/><stop offset="0.1110" stop-color="#ff0000"/><stop offset="0.1252" stop-color="#ff3300"/><stop offset="0.1394" stop-color="#ff7a00"/><stop offset="0.1535" stop-color="#ffbb00"/><stop offset="0.1677" stop-color="#ffec00"/><stop offset="0.1819" stop-color="#d8ff00"/><stop offset="0.1984" stop-color="#a6ff0a"/><stop offset="0.2126" stop-color="#5aff43"/><stop offset="0.2220" stop-color="#00ff73"/><stop offset="0.2338" stop-color="#00ff73"/><stop offset="0.2456" stop-color="#73ff36"/><stop offset="0.2575" stop-color="#5aff43"/><stop offset="0.2811" stop-color="#66ff3d"/><stop offset="0.3047" stop-color="#98ff18"/><stop offset="0.3283" stop-color="#c4ff00"/><stop offset="0.3472" stop-color="#9fff11"/><stop offset="0.3496" stop-color="#9aff16"/><stop offset="0.3755" stop-color="#66ff3d"/><stop offset="0.3992" stop-color="#0dff62"/><stop offset="0.4346" stop-color="#00ff6b"/><stop offset="0.4582" stop-color="#2fff56"/><stop offset="0.4700" stop-color="#40ff50"/><stop offset="0.4818" stop-color="#4bff4a"/><stop offset="0.5173" stop-color="#66ff3d"/><stop offset="0.5409" stop-color="#9dff13"/><stop offset="0.5598" stop-color="#80ff30"/><stop offset="0.5763" stop-color="#33ff54"/><stop offset="0.5905" stop-color="#00ff6b"/><stop offset="0.6117" stop-color="#00ff99"/><stop offset="0.6306" stop-color="#00ffcc"/><stop offset="0.6495" stop-color="#00ffff"/><stop offset="0.6661" stop-color="#00ffe9"/><stop offset="0.6826" stop-color="#00ffb3"/><stop offset="0.7298" stop-color="#00ff8f"/><stop offset="0.7582" stop-color="#0dff62"/><stop offset="0.7747" stop-color="#33ff54"/><stop offset="0.7771" stop-color="#23ff5a"/><stop offset="0.7912" stop-color="#00ff99"/><stop offset="0.8125" stop-color="#00ffdb"/><stop offset="0.8290" stop-color="#00faff"/><stop offset="0.8479" stop-color="#00c9ff"/><stop offset="0.8715" stop-color="#0090ff"/><stop offset="0.8952" stop-color="#004dff"/><stop offset="0.9188" stop-color="#000bff"/><stop offset="0.9424" stop-color="#0000e0"/><stop offset="0.9707" stop-color="#0000c0"/><stop offset="0.9981" stop-color="#0000ad"/></linearGradient>
<linearGradient id="g67" gradientUnits="userSpaceOnUse" x1="0" y1="0" x2="423.4" y2="0"><stop offset="0.0000" stop-color="#ff0000"/><stop offset="0.0213" stop-color="#ff0000"/><stop offset="0.1110" stop-color="#ff0000"/><stop offset="0.1252" stop-color="#ff3300"/><stop offset="0.1394" stop-color="#ff7a00"/><stop offset="0.1535" stop-color="#ffbb00"/><stop offset="0.1677" stop-color="#ffec00"/><stop offset="0.1819" stop-color="#d8ff00"/><stop offset="0.1984" stop-color="#a6ff0a"/><stop offset="0.2126" stop-color="#5eff41"/><stop offset="0.2220" stop-color="#00ff6f"/><stop offset="0.2338" stop-color="#00ff6f"/><stop offset="0.2456" stop-color="#77ff34"/><stop offset="0.2575" stop-color="#55ff45"/><stop offset="0.2811" stop-color="#66ff3d"/><stop offset="0.3047" stop-color="#96ff1a"/><stop offset="0.3283" stop-color="#c3ff00"/><stop offset="0.3472" stop-color="#9dff13"/><stop offset="0.3496" stop-color="#98ff18"/><stop offset="0.3755" stop-color="#66ff3d"/><stop offset="0.3992" stop-color="#09ff63"/><stop offset="0.4346" stop-color="#00ff6d"/><stop offset="0.4582" stop-color="#30ff55"/><stop offset="0.4700" stop-color="#40ff50"/><stop offset="0.4818" stop-color="#4cff4a"/><stop offset="0.5173" stop-color="#66ff3d"/><stop offset="0.5409" stop-color="#9dff13"/><stop offset="0.5598" stop-color="#80ff30"/><stop offset="0.5763" stop-color="#33ff54"/><stop offset="0.5905" stop-color="#00ff69"/><stop offset="0.6117" stop-color="#00ff99"/><stop offset="0.6306" stop-color="#00ffcc"/><stop offset="0.6495" stop-color="#00ffff"/><stop offset="0.6661" stop-color="#00ffe9"/><stop offset="0.6826" stop-color="#00ffb3"/><stop offset="0.7298" stop-color="#00ff8f"/><stop offset="0.7582" stop-color="#11ff60"/><stop offset="0.7747" stop-color="#44ff4e"/><stop offset="0.7771" stop-color="#2eff56"/><stop offset="0.7912" stop-color="#00ff99"/><stop offset="0.8125" stop-color="#00ffdb"/><stop offset="0.8290" stop-color="#00faff"/><stop offset="0.8479" stop-color="#00c9ff"/><stop offset="0.8715" stop-color="#0090ff"/><stop offset="0.8952" stop-color="#004dff"/><stop offset="0.9188" stop-color="#000bff"/><stop offset="0.9424" stop-color="#0000e0"/><stop offset="0.9707" stop-color="#0000c0"/><stop offset="0.9981" stop-color="#0000ad"/></linearGradient>
<linearGradient id="g68" gradientUnits="userSpaceOnUse" x1="0" y1="0" x2="423.4" y2="0"><stop offset="0.0000" stop-color="#ff0000"/><stop offset="0.0213" stop-color="#ff0000"/><stop offset="0.1110" stop-color="#ff0000"/><stop offset="0.1252" stop-color="#ff3300"/><stop offset="0.1394" stop-color="#ff7a00"/><stop offset="0.1535" stop-color="#ffbb00"/><stop offset="0.1677" stop-color="#ffec00"/><stop offset="0.1819" stop-color="#d8ff00"/><stop offset="0.1984" stop-color="#a6ff0a"/><stop offset="0.2126" stop-color="#62ff3f"/><stop offset="0.2220" stop-color="#00ff6a"/><stop offset="0.2338" stop-color="#00ff6a"/><stop offset="0.2456" stop-color="#7cff32"/><stop offset="0.2575" stop-color="#51ff47"/><stop offset="0.2811" stop-color="#66ff3d"/><stop offset="0.3047" stop-color="#95ff1b"/><stop offset="0.3283" stop-color="#c1ff00"/><stop offset="0.3472" stop-color="#9bff15"/><stop offset="0.3496" stop-color="#96ff1a"/><stop offset="0.3755" stop-color="#66ff3d"/><stop offset="0.3992" stop-color="#04ff65"/><stop offset="0.4346" stop-color="#00ff6f"/><stop offset="0.4582" stop-color="#32ff55"/><stop offset="0.4700" stop-color="#40ff50"/><stop offset="0.4818" stop-color="#4cff4a"/><stop offset="0.5173" stop-color="#66ff3d"/><stop offset="0.5409" stop-color="#9dff13"/><stop offset="0.5598" stop-color="#80ff30"/><stop offset="0.5763" stop-color="#33ff54"/><stop offset="0.5905" stop-color="#00ff68"/><stop offset="0.6117" stop-color="#00ff99"/><stop offset="0.6306" stop-color="#00ffcc"/><stop offset="0.6495" stop-color="#00ffff"/><stop offset="0.6661" stop-color="#00ffe9"/><stop offset="0.6826" stop-color="#00ffb3"/><stop offset="0.7298" stop-color="#00ff8f"/><stop offset="0.7582" stop-color="#15ff5f"/><stop offset="0.7747" stop-color="#55ff45"/><stop offset="0.7771" stop-color="#3aff52"/><stop offset="0.7912" stop-color="#00ff99"/><stop offset="0.8125" stop-color="#00ffdb"/><stop offset="0.8290" stop-color="#00faff"/><stop offset="0.8479" stop-color="#00c9ff"/><stop offset="0.8715" stop-color="#0090ff"/><stop offset="0.8952" stop-color="#004dff"/><stop offset="0.9188" stop-color="#000bff"/><stop offset="0.9424" stop-color="#0000e0"/><stop offset="0.9707" stop-color="#0000c0"/><stop offset="0.9981" stop-color="#0000ad"/></linearGradient>
<linearGradient id="g69" gradientUnits="userSpaceOnUse" x1="0" y1="0" x2="423.4" y2="0"><stop offset="0.0000" stop-color="#ff0000"/><stop offset="0.0213" stop-color="#ff0000"/><stop offset="0.1110" stop-color="#ff0000"/><stop offset="0.1252" stop-color="#ff3300"/><stop offset="0.1394" stop-color="#ff7a00"/><stop offset="0.1535" stop-color="#ffbb00"/><stop offset="0.1677" stop-color="#ffec00"/><stop offset="0.1819" stop-color="#d8ff00"/><stop offset="0.1984" stop-color="#a6ff0a"/><stop offset="0.2126" stop-color="#66ff3d"/><stop offset="0.2220" stop-color="#00ff66"/><stop offset="0.2338" stop-color="#00ff66"/><stop offset="0.2456" stop-color="#80ff30"/><stop offset="0.2575" stop-color="#4dff4a"/><stop offset="0.2811" stop-color="#66ff3d"/><stop offset="0.3047" stop-color="#93ff1d"/><stop offset="0.3283" stop-color="#c0ff00"/><stop offset="0.3472" stop-color="#99ff17"/><stop offset="0.3496" stop-color="#93ff1d"/><stop offset="0.3755" stop-color="#66ff3d"/><stop offset="0.3992" stop-color="#00ff66"/><stop offset="0.4346" stop-color="#00ff70"/><stop offset="0.4582" stop-color="#33ff54"/><stop offset="0.4700" stop-color="#40ff50"/><stop offset="0.4818" stop-color="#4dff4a"/><stop offset="0.5173" stop-color="#66ff3d"/><stop offset="0.5409" stop-color="#9dff13"/><stop offset="0.5598" stop-color="#80ff30"/><stop offset="0.5763" stop-color="#33ff54"/><stop offset="0.5905" stop-color="#00ff66"/><stop offset="0.6117" stop-color="#00ff99"/><stop offset="0.6306" stop-color="#00ffcc"/><stop offset="0.6495" stop-color="#00ffff"/><stop offset="0.6661" stop-color="#00ffe9"/><stop offset="0.6826" stop-color="#00ffb3"/><stop offset="0.7298" stop-color="#00ff8f"/><stop offset="0.7582" stop-color="#1aff5d"/><stop offset="0.7747" stop-color="#66ff3d"/><stop offset="0.7771" stop-color="#45ff4d"/><stop offset="0.7912" stop-color="#00ff99"/><stop offset="0.8125" stop-color="#00ffdb"/><stop offset="0.8290" stop-color="#00faff"/><stop offset="0.8479" stop-color="#00c9ff"/><stop offset="0.8715" stop-color="#0090ff"/><stop offset="0.8952" stop-color="#004dff"/><stop offset="0.9188" stop-color="#000bff"/><stop offset="0.9424" stop-color="#0000e0"/><stop offset="0.9707" stop-color="#0000c0"/><stop offset="0.9981" stop-color="#0000ad"/></linearGradient>
<linearGradient id="g70" gradientUnits="userSpaceOnUse" x1="0" y1="0" x2="423.4" y2="0"><stop offset="0.0000" stop-color="#ff0000"/><stop offset="0.1110" stop-color="#ff0000"/><stop offset="0.1252" stop-color="#ff3300"/><stop offset="0.1394" stop-color="#ff7a00"/><stop offset="0.1535" stop-color="#ffb900"/><stop offset="0.1677" stop-color="#ffe900"/><stop offset="0.1819" stop-color="#ddff00"/><stop offset="0.1866" stop-color="#ceff00"/><stop offset="0.1984" stop-color="#b0ff00"/><stop offset="0.2126" stop-color="#7fff31"/><stop offset="0.2220" stop-color="#2dff57"/><stop offset="0.2338" stop-color="#31ff55"/><stop offset="0.2456" stop-color="#8fff21"/><stop offset="0.2575" stop-color="#72ff37"/><stop offset="0.2622" stop-color="#77ff34"/><stop offset="0.2811" stop-color="#93ff1d"/><stop offset="0.3047" stop-color="#b2ff00"/><stop offset="0.3283" stop-color="#d2ff00"/><stop offset="0.3496" stop-color="#afff01"/><stop offset="0.3661" stop-color="#99ff17"/><stop offset="0.3755" stop-color="#86ff2a"/><stop offset="0.3874" stop-color="#53ff46"/><stop offset="0.3992" stop-color="#23ff5a"/><stop offset="0.4110" stop-color="#13ff5f"/><stop offset="0.4346" stop-color="#04ff64"/><stop offset="0.4582" stop-color="#3cff51"/><stop offset="0.4818" stop-color="#4dff49"/><stop offset="0.4866" stop-color="#4fff48"/><stop offset="0.5173" stop-color="#5dff41"/><stop offset="0.5409" stop-color="#89ff27"/><stop offset="0.5598" stop-color="#6dff39"/><stop offset="0.5645" stop-color="#5cff42"/><stop offset="0.5763" stop-color="#2aff58"/><stop offset="0.5905" stop-color="#00ff69"/><stop offset="0.5999" stop-color="#00ff7e"/><stop offset="0.6117" stop-color="#00ff99"/><stop offset="0.6306" stop-color="#00ffca"/><stop offset="0.6495" stop-color="#00fffb"/><stop offset="0.6661" stop-color="#00ffe9"/><stop offset="0.6826" stop-color="#00ffba"/><stop offset="0.6944" stop-color="#00ffb0"/><stop offset="0.7298" stop-color="#00ff96"/><stop offset="0.7416" stop-color="#00ff84"/><stop offset="0.7582" stop-color="#03ff65"/><stop offset="0.7653" stop-color="#25ff59"/><stop offset="0.7747" stop-color="#58ff44"/><stop offset="0.7771" stop-color="#44ff4e"/><stop offset="0.7912" stop-color="#00ff9c"/><stop offset="0.8125" stop-color="#00ffdb"/><stop offset="0.8290" stop-color="#00faff"/><stop offset="0.8479" stop-color="#00c9ff"/><stop offset="0.8715" stop-color="#0090ff"/><stop offset="0.8952" stop-color="#004dff"/><stop offset="0.9188" stop-color="#000bff"/><stop offset="0.9424" stop-color="#0000e0"/><stop offset="0.9707" stop-color="#0000c0"/><stop offset="0.9981" stop-color="#0000ad"/></linearGradient>
<linearGradient id="g71" gradientUnits="userSpaceOnUse" x1="0" y1="0" x2="423.4" y2="0"><stop offset="0.0000" stop-color="#ff0000"/><stop offset="0.1110" stop-color="#ff0000"/><stop offset="0.1252" stop-color="#ff3300"/><stop offset="0.1394" stop-color="#ff7a00"/><stop offset="0.1535" stop-color="#ffb600"/><stop offset="0.1677" stop-color="#ffe600"/><stop offset="0.1819" stop-color="#e2ff00"/><stop offset="0.1866" stop-color="#d1ff00"/><stop offset="0.1984" stop-color="#b8ff00"/><stop offset="0.2126" stop-color="#91ff1f"/><stop offset="0.2220" stop-color="#5aff43"/><stop offset="0.2338" stop-color="#61ff3f"/><stop offset="0.2456" stop-color="#9eff12"/><stop offset="0.2575" stop-color="#91ff1f"/><stop offset="0.2622" stop-color="#95ff1b"/><stop offset="0.2811" stop-color="#b8ff00"/><stop offset="0.3047" stop-color="#ccff00"/><stop offset="0.3283" stop-color="#e4ff00"/><stop offset="0.3496" stop-color="#c7ff00"/><stop offset="0.3661" stop-color="#b6ff00"/><stop offset="0.3755" stop-color="#9fff11"/><stop offset="0.3874" stop-color="#73ff36"/><stop offset="0.3992" stop-color="#46ff4d"/><stop offset="0.4110" stop-color="#2fff56"/><stop offset="0.4346" stop-color="#22ff5a"/><stop offset="0.4582" stop-color="#45ff4e"/><stop offset="0.4818" stop-color="#4eff49"/><stop offset="0.4866" stop-color="#4fff49"/><stop offset="0.5173" stop-color="#55ff46"/><stop offset="0.5409" stop-color="#71ff38"/><stop offset="0.5598" stop-color="#5aff43"/><stop offset="0.5645" stop-color="#4fff49"/><stop offset="0.5763" stop-color="#20ff5b"/><stop offset="0.5905" stop-color="#00ff6d"/><stop offset="0.5999" stop-color="#00ff7f"/><stop offset="0.6117" stop-color="#00ff99"/><stop offset="0.6306" stop-color="#00ffc7"/><stop offset="0.6495" stop-color="#00fff8"/><stop offset="0.6661" stop-color="#00ffe9"/><stop offset="0.6826" stop-color="#00ffc1"/><stop offset="0.6944" stop-color="#00ffb6"/><stop offset="0.7298" stop-color="#00ff9d"/><stop offset="0.7416" stop-color="#00ff8f"/><stop offset="0.7582" stop-color="#00ff6e"/><stop offset="0.7653" stop-color="#10ff60"/><stop offset="0.7747" stop-color="#4aff4b"/><stop offset="0.7771" stop-color="#43ff4f"/><stop offset="0.7912" stop-color="#00ff9e"/><stop offset="0.8125" stop-color="#00ffdb"/><stop offset="0.8290" stop-color="#00faff"/><stop offset="0.8479" stop-color="#00c9ff"/><stop offset="0.8715" stop-color="#0090ff"/><stop offset="0.8952" stop-color="#004dff"/><stop offset="0.9188" stop-color="#000bff"/><stop offset="0.9424" stop-color="#0000e0"/><stop offset="0.9707" stop-color="#0000c0"/><stop offset="0.9981" stop-color="#0000ad"/></linearGradient>
<linearGradient id="g72" gradientUnits="userSpaceOnUse" x1="0" y1="0" x2="423.4" y2="0"><stop offset="0.0000" stop-color="#ff0000"/><stop offset="0.1110" stop-color="#ff0000"/><stop offset="0.1252" stop-color="#ff3300"/><stop offset="0.1394" stop-color="#ff7a00"/><stop offset="0.1535" stop-color="#ffb400"/><stop offset="0.1677" stop-color="#ffe300"/><stop offset="0.1819" stop-color="#e7ff00"/><stop offset="0.1866" stop-color="#d5ff00"/><stop offset="0.1984" stop-color="#c0ff00"/><stop offset="0.2126" stop-color="#a4ff0c"/><stop offset="0.2220" stop-color="#85ff2b"/><stop offset="0.2338" stop-color="#8dff23"/><stop offset="0.2456" stop-color="#aeff02"/><stop offset="0.2575" stop-color="#adff03"/><stop offset="0.2622" stop-color="#b1ff00"/><stop offset="0.2811" stop-color="#d8ff00"/><stop offset="0.3047" stop-color="#e6ff00"/><stop offset="0.3283" stop-color="#f5ff00"/><stop offset="0.3496" stop-color="#deff00"/><stop offset="0.3661" stop-color="#cfff00"/><stop offset="0.3755" stop-color="#b7ff00"/><stop offset="0.3874" stop-color="#8eff22"/><stop offset="0.3992" stop-color="#6aff3b"/><stop offset="0.4110" stop-color="#4bff4b"/><stop offset="0.4346" stop-color="#40ff50"/><stop offset="0.4582" stop-color="#4eff49"/><stop offset="0.4818" stop-color="#4eff49"/><stop offset="0.4866" stop-color="#4eff49"/><stop offset="0.5173" stop-color="#4cff4a"/><stop offset="0.5409" stop-color="#56ff45"/><stop offset="0.5598" stop-color="#48ff4c"/><stop offset="0.5645" stop-color="#41ff50"/><stop offset="0.5763" stop-color="#16ff5e"/><stop offset="0.5905" stop-color="#00ff70"/><stop offset="0.5999" stop-color="#00ff7f"/><stop offset="0.6117" stop-color="#00ff99"/><stop offset="0.6306" stop-color="#00ffc4"/><stop offset="0.6495" stop-color="#00fff4"/><stop offset="0.6661" stop-color="#00ffe9"/><stop offset="0.6826" stop-color="#00ffc8"/><stop offset="0.6944" stop-color="#00ffbc"/><stop offset="0.7298" stop-color="#00ffa4"/><stop offset="0.7416" stop-color="#00ff99"/><stop offset="0.7582" stop-color="#00ff77"/><stop offset="0.7653" stop-color="#00ff68"/><stop offset="0.7747" stop-color="#3cff51"/><stop offset="0.7771" stop-color="#41ff4f"/><stop offset="0.7912" stop-color="#00ffa1"/><stop offset="0.8125" stop-color="#00ffdb"/><stop offset="0.8290" stop-color="#00faff"/><stop offset="0.8479" stop-color="#00c9ff"/><stop offset="0.8715" stop-color="#0090ff"/><stop offset="0.8952" stop-color="#004dff"/><stop offset="0.9188" stop-color="#000bff"/><stop offset="0.9424" stop-color="#0000e0"/><stop offset="0.9707" stop-color="#0000c0"/><stop offset="0.9981" stop-color="#0000ad"/></linearGradient>
<linearGradient id="g73" gradientUnits="userSpaceOnUse" x1="0" y1="0" x2="423.4" y2="0"><stop offset="0.0000" stop-color="#ff0000"/><stop offset="0.1110" stop-color="#ff0000"/><stop offset="0.1252" stop-color="#ff3300"/><stop offset="0.1394" stop-color="#ff7a00"/><stop offset="0.1535" stop-color="#ffb200"/><stop offset="0.1677" stop-color="#ffe000"/><stop offset="0.1866" stop-color="#d8ff00"/><stop offset="0.2220" stop-color="#a6ff0a"/><stop offset="0.2622" stop-color="#c8ff00"/><stop offset="0.2811" stop-color="#f7ff00"/><stop offset="0.3283" stop-color="#fff900"/><stop offset="0.3661" stop-color="#e8ff00"/><stop offset="0.3874" stop-color="#a6ff0a"/><stop offset="0.4110" stop-color="#66ff3d"/><stop offset="0.4866" stop-color="#4dff4a"/><stop offset="0.5645" stop-color="#33ff54"/><stop offset="0.5999" stop-color="#00ff80"/><stop offset="0.6306" stop-color="#00ffc2"/><stop offset="0.6495" stop-color="#00fff0"/><stop offset="0.6661" stop-color="#00ffe9"/><stop offset="0.6944" stop-color="#00ffc2"/><stop offset="0.7416" stop-color="#00ffa3"/><stop offset="0.7653" stop-color="#00ff70"/><stop offset="0.7771" stop-color="#40ff50"/><stop offset="0.7912" stop-color="#00ffa3"/><stop offset="0.8125" stop-color="#00ffdb"/><stop offset="0.8290" stop-color="#00faff"/><stop offset="0.8479" stop-color="#00c9ff"/><stop offset="0.8715" stop-color="#0090ff"/><stop offset="0.8952" stop-color="#004dff"/><stop offset="0.9188" stop-color="#000bff"/><stop offset="0.9424" stop-color="#0000e0"/><stop offset="0.9707" stop-color="#0000c0"/><stop offset="0.9981" stop-color="#0000ad"/></linearGradient>
<linearGradient id="mg75" gradientUnits="userSpaceOnUse" x1="0" y1="480.78" x2="0" y2="534.2"><stop offset="0" stop-color="#fff"/><stop offset="1" stop-color="#000"/></linearGradient>
<mask id="m74" maskUnits="userSpaceOnUse" x="-2" y="425.36" width="427.4" height="110.84"><rect x="-2" y="425.36" width="427.4" height="110.84" fill="url(#mg75)"/></mask>
<linearGradient id="mg77" gradientUnits="userSpaceOnUse" x1="0" y1="427.36" x2="0" y2="480.78"><stop offset="0" stop-color="#fff"/><stop offset="1" stop-color="#000"/></linearGradient>
<mask id="m76" maskUnits="userSpaceOnUse" x="-2" y="371.94" width="427.4" height="110.84"><rect x="-2" y="371.94" width="427.4" height="110.84" fill="url(#mg77)"/></mask>
<linearGradient id="mg79" gradientUnits="userSpaceOnUse" x1="0" y1="373.94" x2="0" y2="427.36"><stop offset="0" stop-color="#fff"/><stop offset="1" stop-color="#000"/></linearGradient>
<mask id="m78" maskUnits="userSpaceOnUse" x="-2" y="318.52" width="427.4" height="110.84"><rect x="-2" y="318.52" width="427.4" height="110.84" fill="url(#mg79)"/></mask>
<linearGradient id="mg81" gradientUnits="userSpaceOnUse" x1="0" y1="320.52" x2="0" y2="373.94"><stop offset="0" stop-color="#fff"/><stop offset="1" stop-color="#000"/></linearGradient>
<mask id="m80" maskUnits="userSpaceOnUse" x="-2" y="265.1" width="427.4" height="110.84"><rect x="-2" y="265.1" width="427.4" height="110.84" fill="url(#mg81)"/></mask>
<linearGradient id="mg83" gradientUnits="userSpaceOnUse" x1="0" y1="267.1" x2="0" y2="320.52"><stop offset="0" stop-color="#fff"/><stop offset="1" stop-color="#000"/></linearGradient>
<mask id="m82" maskUnits="userSpaceOnUse" x="-2" y="211.68" width="427.4" height="110.84"><rect x="-2" y="211.68" width="427.4" height="110.84" fill="url(#mg83)"/></mask>
<linearGradient id="mg85" gradientUnits="userSpaceOnUse" x1="0" y1="213.68" x2="0" y2="267.1"><stop offset="0" stop-color="#fff"/><stop offset="1" stop-color="#000"/></linearGradient>
<mask id="m84" maskUnits="userSpaceOnUse" x="-2" y="158.26" width="427.4" height="110.84"><rect x="-2" y="158.26" width="427.4" height="110.84" fill="url(#mg85)"/></mask>
<linearGradient id="mg87" gradientUnits="userSpaceOnUse" x1="0" y1="160.26" x2="0" y2="213.68"><stop offset="0" stop-color="#fff"/><stop offset="1" stop-color="#000"/></linearGradient>
<mask id="m86" maskUnits="userSpaceOnUse" x="-2" y="104.84" width="427.4" height="110.84"><rect x="-2" y="104.84" width="427.4" height="110.84" fill="url(#mg87)"/></mask>
<linearGradient id="mg89" gradientUnits="userSpaceOnUse" x1="0" y1="106.84" x2="0" y2="160.26"><stop offset="0" stop-color="#fff"/><stop offset="1" stop-color="#000"/></linearGradient>
<mask id="m88" maskUnits="userSpaceOnUse" x="-2" y="51.42" width="427.4" height="110.84"><rect x="-2" y="51.42" width="427.4" height="110.84" fill="url(#mg89)"/></mask>
<linearGradient id="mg91" gradientUnits="userSpaceOnUse" x1="0" y1="53.42" x2="0" y2="106.84"><stop offset="0" stop-color="#fff"/><stop offset="1" stop-color="#000"/></linearGradient>
<mask id="m90" maskUnits="userSpaceOnUse" x="-2" y="-2" width="427.4" height="110.84"><rect x="-2" y="-2" width="427.4" height="110.84" fill="url(#mg91)"/></mask>
<linearGradient id="mg93" gradientUnits="userSpaceOnUse" x1="0" y1="0" x2="0" y2="53.42"><stop offset="0" stop-color="#fff"/><stop offset="1" stop-color="#000"/></linearGradient>
<mask id="m92" maskUnits="userSpaceOnUse" x="-2" y="-2" width="427.4" height="57.42"><rect x="-2" y="-2" width="427.4" height="57.42" fill="url(#mg93)"/></mask>
<linearGradient id="g94" gradientUnits="userSpaceOnUse" x1="0" y1="0" x2="434.1" y2="0"><stop offset="0.0002" stop-color="#0000bb"/><stop offset="0.1154" stop-color="#0000c9"/><stop offset="0.1292" stop-color="#0000ff"/><stop offset="0.1453" stop-color="#0060ff"/><stop offset="0.1614" stop-color="#00a8ff"/><stop offset="0.1799" stop-color="#00f0ff"/><stop offset="0.2029" stop-color="#00ffff"/><stop offset="0.2259" stop-color="#00ffb3"/><stop offset="0.3158" stop-color="#00ffb3"/><stop offset="0.3296" stop-color="#00ffdb"/><stop offset="0.3526" stop-color="#00ff99"/><stop offset="0.4148" stop-color="#1aff5d"/><stop offset="0.5600" stop-color="#40ff50"/><stop offset="0.5830" stop-color="#b0ff00"/><stop offset="0.6521" stop-color="#c8ff00"/><stop offset="0.6705" stop-color="#ffff00"/><stop offset="0.6866" stop-color="#e8ff00"/><stop offset="0.7097" stop-color="#c8ff00"/><stop offset="0.7811" stop-color="#c8ff00"/><stop offset="0.7972" stop-color="#ffec00"/><stop offset="0.8157" stop-color="#ffa800"/><stop offset="0.8364" stop-color="#ff7200"/><stop offset="0.8594" stop-color="#ff2400"/><stop offset="0.8778" stop-color="#ff0000"/><stop offset="0.9400" stop-color="#ff0000"/><stop offset="0.9999" stop-color="#c80000"/></linearGradient>
<linearGradient id="g95" gradientUnits="userSpaceOnUse" x1="0" y1="0" x2="434.1" y2="0"><stop offset="0.0002" stop-color="#0000be"/><stop offset="0.1154" stop-color="#0000cb"/><stop offset="0.1292" stop-color="#0003ff"/><stop offset="0.1453" stop-color="#0064ff"/><stop offset="0.1614" stop-color="#00acff"/><stop offset="0.1799" stop-color="#00f2ff"/><stop offset="0.2029" stop-color="#00fff5"/><stop offset="0.2144" stop-color="#00ffcc"/><stop offset="0.2259" stop-color="#00ffb3"/><stop offset="0.3158" stop-color="#00ffb0"/><stop offset="0.3181" stop-color="#00ffb5"/><stop offset="0.3296" stop-color="#00ffcd"/><stop offset="0.3526" stop-color="#00ff97"/><stop offset="0.4148" stop-color="#15ff5f"/><stop offset="0.5254" stop-color="#43ff4e"/><stop offset="0.5600" stop-color="#54ff46"/><stop offset="0.5646" stop-color="#6bff3b"/><stop offset="0.5830" stop-color="#b1ff00"/><stop offset="0.6175" stop-color="#beff00"/><stop offset="0.6452" stop-color="#d1ff00"/><stop offset="0.6521" stop-color="#d1ff00"/><stop offset="0.6659" stop-color="#f0ff00"/><stop offset="0.6705" stop-color="#f9ff00"/><stop offset="0.6866" stop-color="#deff00"/><stop offset="0.6982" stop-color="#cbff00"/><stop offset="0.7097" stop-color="#bcff00"/><stop offset="0.7442" stop-color="#b7ff00"/><stop offset="0.7604" stop-color="#a8ff08"/><stop offset="0.7788" stop-color="#a8ff08"/><stop offset="0.7811" stop-color="#b0ff00"/><stop offset="0.7926" stop-color="#fffe00"/><stop offset="0.7972" stop-color="#ffed00"/><stop offset="0.8133" stop-color="#ffb200"/><stop offset="0.8157" stop-color="#ffaa00"/><stop offset="0.8295" stop-color="#ff7e00"/><stop offset="0.8364" stop-color="#ff6c00"/><stop offset="0.8479" stop-color="#ff4400"/><stop offset="0.8594" stop-color="#ff1b00"/><stop offset="0.8663" stop-color="#ff0000"/><stop offset="0.8778" stop-color="#ff0000"/><stop offset="0.9400" stop-color="#ff0000"/><stop offset="0.9999" stop-color="#cb0000"/></linearGradient>
<linearGradient id="g96" gradientUnits="userSpaceOnUse" x1="0" y1="0" x2="434.1" y2="0"><stop offset="0.0002" stop-color="#0000c0"/><stop offset="0.1154" stop-color="#0000cc"/><stop offset="0.1292" stop-color="#0005ff"/><stop offset="0.1453" stop-color="#0068ff"/><stop offset="0.1614" stop-color="#00b0ff"/><stop offset="0.1799" stop-color="#00f5ff"/><stop offset="0.2029" stop-color="#00ffec"/><stop offset="0.2144" stop-color="#00ffc7"/><stop offset="0.2259" stop-color="#00ffb2"/><stop offset="0.3158" stop-color="#00ffae"/><stop offset="0.3181" stop-color="#00ffb2"/><stop offset="0.3296" stop-color="#00ffc3"/><stop offset="0.3526" stop-color="#00ff95"/><stop offset="0.4148" stop-color="#11ff60"/><stop offset="0.5254" stop-color="#4fff48"/><stop offset="0.5600" stop-color="#68ff3c"/><stop offset="0.5646" stop-color="#7cff32"/><stop offset="0.5830" stop-color="#b3ff00"/><stop offset="0.6175" stop-color="#c0ff00"/><stop offset="0.6452" stop-color="#dcff00"/><stop offset="0.6521" stop-color="#daff00"/><stop offset="0.6659" stop-color="#eeff00"/><stop offset="0.6705" stop-color="#f3ff00"/><stop offset="0.6866" stop-color="#d3ff00"/><stop offset="0.6982" stop-color="#bdff00"/><stop offset="0.7097" stop-color="#afff01"/><stop offset="0.7442" stop-color="#a3ff0d"/><stop offset="0.7604" stop-color="#83ff2d"/><stop offset="0.7788" stop-color="#83ff2d"/><stop offset="0.7811" stop-color="#93ff1d"/><stop offset="0.7926" stop-color="#fffe00"/><stop offset="0.7972" stop-color="#ffee00"/><stop offset="0.8133" stop-color="#ffb500"/><stop offset="0.8157" stop-color="#ffab00"/><stop offset="0.8295" stop-color="#ff7900"/><stop offset="0.8364" stop-color="#ff6500"/><stop offset="0.8479" stop-color="#ff3900"/><stop offset="0.8594" stop-color="#ff0e00"/><stop offset="0.8663" stop-color="#ff0000"/><stop offset="0.8778" stop-color="#ff0000"/><stop offset="0.9400" stop-color="#ff0000"/><stop offset="0.9999" stop-color="#cd0000"/></linearGradient>
<linearGradient id="g97" gradientUnits="userSpaceOnUse" x1="0" y1="0" x2="434.1" y2="0"><stop offset="0.0002" stop-color="#0000c2"/><stop offset="0.1154" stop-color="#0000ce"/><stop offset="0.1292" stop-color="#0008ff"/><stop offset="0.1453" stop-color="#006cff"/><stop offset="0.1614" stop-color="#00b4ff"/><stop offset="0.1799" stop-color="#00f7ff"/><stop offset="0.2029" stop-color="#00ffe2"/><stop offset="0.2144" stop-color="#00ffc2"/><stop offset="0.2259" stop-color="#00ffb2"/><stop offset="0.3158" stop-color="#00ffab"/><stop offset="0.3181" stop-color="#00ffae"/><stop offset="0.3296" stop-color="#00ffb9"/><stop offset="0.3526" stop-color="#00ff93"/><stop offset="0.4148" stop-color="#0dff62"/><stop offset="0.5254" stop-color="#5bff42"/><stop offset="0.5600" stop-color="#7cff32"/><stop offset="0.5646" stop-color="#8aff26"/><stop offset="0.5830" stop-color="#b4ff00"/><stop offset="0.6175" stop-color="#c2ff00"/><stop offset="0.6452" stop-color="#e6ff00"/><stop offset="0.6521" stop-color="#e2ff00"/><stop offset="0.6659" stop-color="#ecff00"/><stop offset="0.6705" stop-color="#edff00"/><stop offset="0.6866" stop-color="#c9ff00"/><stop offset="0.6982" stop-color="#b0ff00"/><stop offset="0.7097" stop-color="#a0ff10"/><stop offset="0.7442" stop-color="#8eff22"/><stop offset="0.7604" stop-color="#53ff46"/><stop offset="0.7788" stop-color="#53ff46"/><stop offset="0.7811" stop-color="#73ff36"/><stop offset="0.7926" stop-color="#ffff00"/><stop offset="0.7972" stop-color="#ffef00"/><stop offset="0.8133" stop-color="#ffb800"/><stop offset="0.8157" stop-color="#ffad00"/><stop offset="0.8295" stop-color="#ff7400"/><stop offset="0.8364" stop-color="#ff5f00"/><stop offset="0.8479" stop-color="#ff2e00"/><stop offset="0.8594" stop-color="#ff0000"/><stop offset="0.8663" stop-color="#ff0000"/><stop offset="0.8778" stop-color="#ff0000"/><stop offset="0.9400" stop-color="#ff0000"/><stop offset="0.9999" stop-color="#d00000"/></linearGradient>
<linearGradient id="g98" gradientUnits="userSpaceOnUse" x1="0" y1="0" x2="434.1" y2="0"><stop offset="0.0002" stop-color="#0000c5"/><stop offset="0.1154" stop-color="#0000cf"/><stop offset="0.1292" stop-color="#000bff"/><stop offset="0.1453" stop-color="#0070ff"/><stop offset="0.1614" stop-color="#00b8ff"/><stop offset="0.1799" stop-color="#00faff"/><stop offset="0.2029" stop-color="#00ffd8"/><stop offset="0.2144" stop-color="#00ffbd"/><stop offset="0.2259" stop-color="#00ffb2"/><stop offset="0.3158" stop-color="#00ffa9"/><stop offset="0.3181" stop-color="#00ffab"/><stop offset="0.3296" stop-color="#00ffb0"/><stop offset="0.3526" stop-color="#00ff91"/><stop offset="0.4148" stop-color="#09ff63"/><stop offset="0.5254" stop-color="#68ff3c"/><stop offset="0.5600" stop-color="#8cff24"/><stop offset="0.5646" stop-color="#96ff1a"/><stop offset="0.5830" stop-color="#b6ff00"/><stop offset="0.6175" stop-color="#c4ff00"/><stop offset="0.6452" stop-color="#f1ff00"/><stop offset="0.6521" stop-color="#ebff00"/><stop offset="0.6659" stop-color="#ebff00"/><stop offset="0.6705" stop-color="#e6ff00"/><stop offset="0.6866" stop-color="#bfff00"/><stop offset="0.6982" stop-color="#a0ff10"/><stop offset="0.7097" stop-color="#92ff1e"/><stop offset="0.7442" stop-color="#77ff34"/><stop offset="0.7604" stop-color="#22ff5a"/><stop offset="0.7788" stop-color="#22ff5a"/><stop offset="0.7811" stop-color="#4dff4a"/><stop offset="0.7926" stop-color="#ffff00"/><stop offset="0.7972" stop-color="#fff000"/><stop offset="0.8133" stop-color="#ffba00"/><stop offset="0.8157" stop-color="#ffaf00"/><stop offset="0.8295" stop-color="#ff6f00"/><stop offset="0.8364" stop-color="#ff5800"/><stop offset="0.8479" stop-color="#ff2400"/><stop offset="0.8594" stop-color="#ff0000"/><stop offset="0.8663" stop-color="#ff0000"/><stop offset="0.8778" stop-color="#ff0000"/><stop offset="0.9400" stop-color="#ff0000"/><stop offset="0.9999" stop-color="#d20000"/></linearGradient>
<linearGradient id="g99" gradientUnits="userSpaceOnUse" x1="0" y1="0" x2="434.1" y2="0"><stop offset="0.0002" stop-color="#0000c7"/><stop offset="0.1154" stop-color="#0000d1"/><stop offset="0.1292" stop-color="#000dff"/><stop offset="0.1453" stop-color="#0074ff"/><stop offset="0.1614" stop-color="#00bcff"/><stop offset="0.1799" stop-color="#00fcff"/><stop offset="0.2029" stop-color="#00ffce"/><stop offset="0.2144" stop-color="#00ffb8"/><stop offset="0.2259" stop-color="#00ffb2"/><stop offset="0.3158" stop-color="#00ffa6"/><stop offset="0.3181" stop-color="#00ffa7"/><stop offset="0.3296" stop-color="#00ffa6"/><stop offset="0.3526" stop-color="#00ff8f"/><stop offset="0.4148" stop-color="#04ff65"/><stop offset="0.5254" stop-color="#74ff36"/><stop offset="0.5600" stop-color="#9bff15"/><stop offset="0.5646" stop-color="#a3ff0d"/><stop offset="0.5830" stop-color="#b7ff00"/><stop offset="0.6175" stop-color="#c6ff00"/><stop offset="0.6452" stop-color="#fcff00"/><stop offset="0.6521" stop-color="#f4ff00"/><stop offset="0.6659" stop-color="#e9ff00"/><stop offset="0.6705" stop-color="#e0ff00"/><stop offset="0.6866" stop-color="#b5ff00"/><stop offset="0.6982" stop-color="#90ff20"/><stop offset="0.7097" stop-color="#83ff2d"/><stop offset="0.7442" stop-color="#5cff42"/><stop offset="0.7604" stop-color="#00ff6c"/><stop offset="0.7788" stop-color="#00ff6c"/><stop offset="0.7811" stop-color="#26ff59"/><stop offset="0.7926" stop-color="#ffff00"/><stop offset="0.7972" stop-color="#fff000"/><stop offset="0.8133" stop-color="#ffbd00"/><stop offset="0.8157" stop-color="#ffb100"/><stop offset="0.8295" stop-color="#ff6b00"/><stop offset="0.8364" stop-color="#ff5100"/><stop offset="0.8479" stop-color="#ff1a00"/><stop offset="0.8594" stop-color="#ff0000"/><stop offset="0.8663" stop-color="#ff0000"/><stop offset="0.8778" stop-color="#ff0000"/><stop offset="0.9400" stop-color="#ff0000"/><stop offset="0.9999" stop-color="#d50000"/></linearGradient>
<linearGradient id="g100" gradientUnits="userSpaceOnUse" x1="0" y1="0" x2="434.1" y2="0"><stop offset="0.0002" stop-color="#0000c9"/><stop offset="0.1154" stop-color="#0000d2"/><stop offset="0.1292" stop-color="#0010ff"/><stop offset="0.1453" stop-color="#0078ff"/><stop offset="0.1614" stop-color="#00c0ff"/><stop offset="0.1799" stop-color="#00ffff"/><stop offset="0.2029" stop-color="#00ffc7"/><stop offset="0.2144" stop-color="#00ffb3"/><stop offset="0.2259" stop-color="#00ffb1"/><stop offset="0.3158" stop-color="#00ffa4"/><stop offset="0.3181" stop-color="#00ffa3"/><stop offset="0.3296" stop-color="#00ff9c"/><stop offset="0.3526" stop-color="#00ff8e"/><stop offset="0.4148" stop-color="#00ff66"/><stop offset="0.5254" stop-color="#80ff30"/><stop offset="0.5600" stop-color="#aaff06"/><stop offset="0.5646" stop-color="#b0ff00"/><stop offset="0.5830" stop-color="#b8ff00"/><stop offset="0.6175" stop-color="#c8ff00"/><stop offset="0.6452" stop-color="#fff900"/><stop offset="0.6521" stop-color="#fcff00"/><stop offset="0.6659" stop-color="#e8ff00"/><stop offset="0.6705" stop-color="#daff00"/><stop offset="0.6866" stop-color="#a9ff07"/><stop offset="0.6982" stop-color="#80ff30"/><stop offset="0.7097" stop-color="#70ff38"/><stop offset="0.7442" stop-color="#40ff50"/><stop offset="0.7604" stop-color="#00ff80"/><stop offset="0.7788" stop-color="#00ff80"/><stop offset="0.7811" stop-color="#00ff66"/><stop offset="0.7926" stop-color="#ffff00"/><stop offset="0.7972" stop-color="#fff100"/><stop offset="0.8133" stop-color="#ffc000"/><stop offset="0.8157" stop-color="#ffb200"/><stop offset="0.8295" stop-color="#ff6600"/><stop offset="0.8364" stop-color="#ff4800"/><stop offset="0.8479" stop-color="#ff0900"/><stop offset="0.8594" stop-color="#ff0000"/><stop offset="0.8663" stop-color="#ff0000"/><stop offset="0.8778" stop-color="#ff0000"/><stop offset="0.9400" stop-color="#ff0000"/><stop offset="0.9999" stop-color="#d70000"/></linearGradient>
<linearGradient id="g101" gradientUnits="userSpaceOnUse" x1="0" y1="0" x2="434.1" y2="0"><stop offset="0.0002" stop-color="#0000c9"/><stop offset="0.1154" stop-color="#0000d2"/><stop offset="0.1292" stop-color="#0010ff"/><stop offset="0.1453" stop-color="#0078ff"/><stop offset="0.1614" stop-color="#00c0ff"/><stop offset="0.1799" stop-color="#00ffff"/><stop offset="0.2144" stop-color="#00ffb3"/><stop offset="0.3181" stop-color="#00ffa3"/><stop offset="0.4148" stop-color="#00ff66"/><stop offset="0.5254" stop-color="#80ff30"/><stop offset="0.5646" stop-color="#b0ff00"/><stop offset="0.6175" stop-color="#c8ff00"/><stop offset="0.6452" stop-color="#fff900"/><stop offset="0.6659" stop-color="#e8ff00"/><stop offset="0.6982" stop-color="#80ff30"/><stop offset="0.7442" stop-color="#40ff50"/><stop offset="0.7604" stop-color="#00ff80"/><stop offset="0.7788" stop-color="#00ff80"/><stop offset="0.7926" stop-color="#ffff00"/><stop offset="0.8133" stop-color="#ffc000"/><stop offset="0.8295" stop-color="#ff6600"/><stop offset="0.8479" stop-color="#ff0900"/><stop offset="0.8663" stop-color="#ff0000"/><stop offset="0.9400" stop-color="#ff0000"/><stop offset="0.9999" stop-color="#d70000"/></linearGradient>
<linearGradient id="g102" gradientUnits="userSpaceOnUse" x1="0" y1="0" x2="434.1" y2="0"><stop offset="0.0002" stop-color="#0000c9"/><stop offset="0.1154" stop-color="#0000d2"/><stop offset="0.1292" stop-color="#0010ff"/><stop offset="0.1453" stop-color="#0078ff"/><stop offset="0.1614" stop-color="#00c0ff"/><stop offset="0.1799" stop-color="#00ffff"/><stop offset="0.2144" stop-color="#00ffb3"/><stop offset="0.3181" stop-color="#00ffa3"/><stop offset="0.4148" stop-color="#00ff66"/><stop offset="0.5254" stop-color="#80ff30"/><stop offset="0.5646" stop-color="#b0ff00"/><stop offset="0.6175" stop-color="#c8ff00"/><stop offset="0.6452" stop-color="#fff900"/><stop offset="0.6659" stop-color="#e8ff00"/><stop offset="0.6982" stop-color="#80ff30"/><stop offset="0.7442" stop-color="#40ff50"/><stop offset="0.7604" stop-color="#00ff80"/><stop offset="0.7788" stop-color="#00ff80"/><stop offset="0.7926" stop-color="#ffff00"/><stop offset="0.8133" stop-color="#ffc000"/><stop offset="0.8295" stop-color="#ff6600"/><stop offset="0.8479" stop-color="#ff0900"/><stop offset="0.8663" stop-color="#ff0000"/><stop offset="0.9400" stop-color="#ff0000"/><stop offset="0.9999" stop-color="#d70000"/></linearGradient>
<linearGradient id="g103" gradientUnits="userSpaceOnUse" x1="0" y1="0" x2="434.1" y2="0"><stop offset="0.0002" stop-color="#0000c9"/><stop offset="0.1154" stop-color="#0000d2"/><stop offset="0.1292" stop-color="#0010ff"/><stop offset="0.1453" stop-color="#0078ff"/><stop offset="0.1614" stop-color="#00c0ff"/><stop offset="0.1799" stop-color="#00ffff"/><stop offset="0.2144" stop-color="#00ffb3"/><stop offset="0.3181" stop-color="#00ffa3"/><stop offset="0.4148" stop-color="#00ff66"/><stop offset="0.5254" stop-color="#80ff30"/><stop offset="0.5646" stop-color="#b0ff00"/><stop offset="0.6175" stop-color="#c8ff00"/><stop offset="0.6452" stop-color="#fff900"/><stop offset="0.6659" stop-color="#e8ff00"/><stop offset="0.6982" stop-color="#80ff30"/><stop offset="0.7442" stop-color="#40ff50"/><stop offset="0.7604" stop-color="#00ff80"/><stop offset="0.7788" stop-color="#00ff80"/><stop offset="0.7926" stop-color="#ffff00"/><stop offset="0.8133" stop-color="#ffc000"/><stop offset="0.8295" stop-color="#ff6600"/><stop offset="0.8479" stop-color="#ff0900"/><stop offset="0.8663" stop-color="#ff0000"/><stop offset="0.9400" stop-color="#ff0000"/><stop offset="0.9999" stop-color="#d70000"/></linearGradient>
<linearGradient id="g104" gradientUnits="userSpaceOnUse" x1="0" y1="0" x2="434.1" y2="0"><stop offset="0.0002" stop-color="#0000c9"/><stop offset="0.1154" stop-color="#0000d2"/><stop offset="0.1292" stop-color="#0010ff"/><stop offset="0.1453" stop-color="#0078ff"/><stop offset="0.1614" stop-color="#00c0ff"/><stop offset="0.1799" stop-color="#00ffff"/><stop offset="0.2144" stop-color="#00ffb3"/><stop offset="0.3181" stop-color="#00ffa3"/><stop offset="0.4148" stop-color="#00ff66"/><stop offset="0.5254" stop-color="#80ff30"/><stop offset="0.5646" stop-color="#b0ff00"/><stop offset="0.6175" stop-color="#c8ff00"/><stop offset="0.6452" stop-color="#fff900"/><stop offset="0.6659" stop-color="#e8ff00"/><stop offset="0.6982" stop-color="#80ff30"/><stop offset="0.7442" stop-color="#40ff50"/><stop offset="0.7604" stop-color="#00ff80"/><stop offset="0.7788" stop-color="#00ff80"/><stop offset="0.7926" stop-color="#ffff00"/><stop offset="0.8133" stop-color="#ffc000"/><stop offset="0.8295" stop-color="#ff6600"/><stop offset="0.8479" stop-color="#ff0900"/><stop offset="0.8663" stop-color="#ff0000"/><stop offset="0.9400" stop-color="#ff0000"/><stop offset="0.9999" stop-color="#d70000"/></linearGradient>
<linearGradient id="mg106" gradientUnits="userSpaceOnUse" x1="0" y1="464.49" x2="0" y2="516.1"><stop offset="0" stop-color="#fff"/><stop offset="1" stop-color="#000"/></linearGradient>
<mask id="m105" maskUnits="userSpaceOnUse" x="-2" y="410.88" width="438.1" height="107.22"><rect x="-2" y="410.88" width="438.1" height="107.22" fill="url(#mg106)"/></mask>
<linearGradient id="mg108" gradientUnits="userSpaceOnUse" x1="0" y1="412.88" x2="0" y2="464.49"><stop offset="0" stop-color="#fff"/><stop offset="1" stop-color="#000"/></linearGradient>
<mask id="m107" maskUnits="userSpaceOnUse" x="-2" y="359.27" width="438.1" height="107.22"><rect x="-2" y="359.27" width="438.1" height="107.22" fill="url(#mg108)"/></mask>
<linearGradient id="mg110" gradientUnits="userSpaceOnUse" x1="0" y1="361.27" x2="0" y2="412.88"><stop offset="0" stop-color="#fff"/><stop offset="1" stop-color="#000"/></linearGradient>
<mask id="m109" maskUnits="userSpaceOnUse" x="-2" y="307.66" width="438.1" height="107.22"><rect x="-2" y="307.66" width="438.1" height="107.22" fill="url(#mg110)"/></mask>
<linearGradient id="mg112" gradientUnits="userSpaceOnUse" x1="0" y1="309.66" x2="0" y2="361.27"><stop offset="0" stop-color="#fff"/><stop offset="1" stop-color="#000"/></linearGradient>
<mask id="m111" maskUnits="userSpaceOnUse" x="-2" y="256.05" width="438.1" height="107.22"><rect x="-2" y="256.05" width="438.1" height="107.22" fill="url(#mg112)"/></mask>
<linearGradient id="mg114" gradientUnits="userSpaceOnUse" x1="0" y1="258.05" x2="0" y2="309.66"><stop offset="0" stop-color="#fff"/><stop offset="1" stop-color="#000"/></linearGradient>
<mask id="m113" maskUnits="userSpaceOnUse" x="-2" y="204.44" width="438.1" height="107.22"><rect x="-2" y="204.44" width="438.1" height="107.22" fill="url(#mg114)"/></mask>
<linearGradient id="mg116" gradientUnits="userSpaceOnUse" x1="0" y1="206.44" x2="0" y2="258.05"><stop offset="0" stop-color="#fff"/><stop offset="1" stop-color="#000"/></linearGradient>
<mask id="m115" maskUnits="userSpaceOnUse" x="-2" y="152.83" width="438.1" height="107.22"><rect x="-2" y="152.83" width="438.1" height="107.22" fill="url(#mg116)"/></mask>
<linearGradient id="mg118" gradientUnits="userSpaceOnUse" x1="0" y1="154.83" x2="0" y2="206.44"><stop offset="0" stop-color="#fff"/><stop offset="1" stop-color="#000"/></linearGradient>
<mask id="m117" maskUnits="userSpaceOnUse" x="-2" y="101.22" width="438.1" height="107.22"><rect x="-2" y="101.22" width="438.1" height="107.22" fill="url(#mg118)"/></mask>
<linearGradient id="mg120" gradientUnits="userSpaceOnUse" x1="0" y1="103.22" x2="0" y2="154.83"><stop offset="0" stop-color="#fff"/><stop offset="1" stop-color="#000"/></linearGradient>
<mask id="m119" maskUnits="userSpaceOnUse" x="-2" y="49.61" width="438.1" height="107.22"><rect x="-2" y="49.61" width="438.1" height="107.22" fill="url(#mg120)"/></mask>
<linearGradient id="mg122" gradientUnits="userSpaceOnUse" x1="0" y1="51.61" x2="0" y2="103.22"><stop offset="0" stop-color="#fff"/><stop offset="1" stop-color="#000"/></linearGradient>
<mask id="m121" maskUnits="userSpaceOnUse" x="-2" y="-2" width="438.1" height="107.22"><rect x="-2" y="-2" width="438.1" height="107.22" fill="url(#mg122)"/></mask>
<linearGradient id="mg124" gradientUnits="userSpaceOnUse" x1="0" y1="0" x2="0" y2="51.61"><stop offset="0" stop-color="#fff"/><stop offset="1" stop-color="#000"/></linearGradient>
<mask id="m123" maskUnits="userSpaceOnUse" x="-2" y="-2" width="438.1" height="55.61"><rect x="-2" y="-2" width="438.1" height="55.61" fill="url(#mg124)"/></mask>
<linearGradient id="g125" gradientUnits="userSpaceOnUse" x1="0" y1="0" x2="434.1" y2="0"><stop offset="0.0000" stop-color="#0000bb"/><stop offset="0.1241" stop-color="#0000c0"/><stop offset="0.1333" stop-color="#0000f6"/><stop offset="0.1587" stop-color="#0030ff"/><stop offset="0.1863" stop-color="#00a8ff"/><stop offset="0.2024" stop-color="#00f0ff"/><stop offset="0.2162" stop-color="#00fff0"/><stop offset="0.2669" stop-color="#00ffb3"/><stop offset="0.3130" stop-color="#40ff50"/><stop offset="0.3706" stop-color="#00ff80"/><stop offset="0.5434" stop-color="#00ffc2"/><stop offset="0.5756" stop-color="#00ffcc"/><stop offset="0.6125" stop-color="#00ff99"/><stop offset="0.6470" stop-color="#40ff50"/><stop offset="0.6931" stop-color="#93ff1d"/><stop offset="0.7392" stop-color="#d8ff00"/><stop offset="0.7737" stop-color="#ffe000"/><stop offset="0.7968" stop-color="#ff9000"/><stop offset="0.8198" stop-color="#ff3300"/><stop offset="0.8474" stop-color="#ff0000"/><stop offset="0.8705" stop-color="#d70000"/><stop offset="0.8889" stop-color="#9c0000"/><stop offset="0.9995" stop-color="#8e0000"/></linearGradient>
<linearGradient id="g126" gradientUnits="userSpaceOnUse" x1="0" y1="0" x2="434.1" y2="0"><stop offset="0.0000" stop-color="#0000bd"/><stop offset="0.1241" stop-color="#0000c2"/><stop offset="0.1333" stop-color="#0000f0"/><stop offset="0.1379" stop-color="#0000fd"/><stop offset="0.1587" stop-color="#0038ff"/><stop offset="0.1610" stop-color="#0040ff"/><stop offset="0.1863" stop-color="#00afff"/><stop offset="0.2024" stop-color="#00f4ff"/><stop offset="0.2162" stop-color="#00ffda"/><stop offset="0.2208" stop-color="#00ffcc"/><stop offset="0.2623" stop-color="#00ff9e"/><stop offset="0.2669" stop-color="#00ff96"/><stop offset="0.2900" stop-color="#17ff5e"/><stop offset="0.3130" stop-color="#74ff36"/><stop offset="0.3245" stop-color="#72ff37"/><stop offset="0.3591" stop-color="#08ff63"/><stop offset="0.3706" stop-color="#00ff6d"/><stop offset="0.4282" stop-color="#00ff93"/><stop offset="0.5434" stop-color="#00ffbb"/><stop offset="0.5710" stop-color="#00ffc0"/><stop offset="0.5756" stop-color="#00ffc0"/><stop offset="0.6125" stop-color="#00ff9c"/><stop offset="0.6263" stop-color="#00ff89"/><stop offset="0.6470" stop-color="#46ff4d"/><stop offset="0.6816" stop-color="#76ff35"/><stop offset="0.6931" stop-color="#5eff41"/><stop offset="0.7000" stop-color="#51ff48"/><stop offset="0.7392" stop-color="#80ff30"/><stop offset="0.7691" stop-color="#adff03"/><stop offset="0.7737" stop-color="#c3ff00"/><stop offset="0.7875" stop-color="#ffec00"/><stop offset="0.7968" stop-color="#ffc700"/><stop offset="0.8060" stop-color="#ffa500"/><stop offset="0.8198" stop-color="#ff8000"/><stop offset="0.8244" stop-color="#ff7800"/><stop offset="0.8428" stop-color="#ff4000"/><stop offset="0.8474" stop-color="#ff2c00"/><stop offset="0.8566" stop-color="#ff0000"/><stop offset="0.8705" stop-color="#ff0000"/><stop offset="0.8797" stop-color="#ea0000"/><stop offset="0.8889" stop-color="#d30000"/><stop offset="0.9073" stop-color="#c60000"/><stop offset="0.9304" stop-color="#ad0000"/><stop offset="0.9580" stop-color="#9b0000"/><stop offset="0.9995" stop-color="#950000"/></linearGradient>
<linearGradient id="g127" gradientUnits="userSpaceOnUse" x1="0" y1="0" x2="434.1" y2="0"><stop offset="0.0000" stop-color="#0000c0"/><stop offset="0.1241" stop-color="#0000c4"/><stop offset="0.1333" stop-color="#0000ea"/><stop offset="0.1379" stop-color="#0000fb"/><stop offset="0.1587" stop-color="#0040ff"/><stop offset="0.1610" stop-color="#0047ff"/><stop offset="0.1863" stop-color="#00b5ff"/><stop offset="0.2024" stop-color="#00f9ff"/><stop offset="0.2162" stop-color="#00ffc6"/><stop offset="0.2208" stop-color="#00ffb7"/><stop offset="0.2623" stop-color="#00ff85"/><stop offset="0.2669" stop-color="#00ff79"/><stop offset="0.2900" stop-color="#6fff39"/><stop offset="0.3130" stop-color="#9fff11"/><stop offset="0.3245" stop-color="#aeff02"/><stop offset="0.3591" stop-color="#37ff53"/><stop offset="0.3706" stop-color="#1bff5d"/><stop offset="0.4282" stop-color="#00ff90"/><stop offset="0.5434" stop-color="#00ffb4"/><stop offset="0.5710" stop-color="#00ffb5"/><stop offset="0.5756" stop-color="#00ffb3"/><stop offset="0.6125" stop-color="#00ff9f"/><stop offset="0.6263" stop-color="#00ff96"/><stop offset="0.6470" stop-color="#4cff4a"/><stop offset="0.6816" stop-color="#69ff3b"/><stop offset="0.6931" stop-color="#22ff5a"/><stop offset="0.7000" stop-color="#00ff69"/><stop offset="0.7392" stop-color="#00ff66"/><stop offset="0.7691" stop-color="#0aff63"/><stop offset="0.7737" stop-color="#3dff51"/><stop offset="0.7875" stop-color="#c1ff00"/><stop offset="0.7968" stop-color="#edff00"/><stop offset="0.8060" stop-color="#ffea00"/><stop offset="0.8198" stop-color="#ffd100"/><stop offset="0.8244" stop-color="#ffca00"/><stop offset="0.8428" stop-color="#ff8300"/><stop offset="0.8474" stop-color="#ff6f00"/><stop offset="0.8566" stop-color="#ff4300"/><stop offset="0.8705" stop-color="#ff0000"/><stop offset="0.8797" stop-color="#ff0000"/><stop offset="0.8889" stop-color="#ff0000"/><stop offset="0.9073" stop-color="#f50000"/><stop offset="0.9304" stop-color="#c40000"/><stop offset="0.9580" stop-color="#a20000"/><stop offset="0.9995" stop-color="#9b0000"/></linearGradient>
<linearGradient id="g128" gradientUnits="userSpaceOnUse" x1="0" y1="0" x2="434.1" y2="0"><stop offset="0.0000" stop-color="#0000c0"/><stop offset="0.1241" stop-color="#0000c6"/><stop offset="0.1379" stop-color="#0000f9"/><stop offset="0.1402" stop-color="#0001ff"/><stop offset="0.1610" stop-color="#004dff"/><stop offset="0.1633" stop-color="#0057ff"/><stop offset="0.1863" stop-color="#00baff"/><stop offset="0.2024" stop-color="#00fcff"/><stop offset="0.2208" stop-color="#00ffae"/><stop offset="0.2623" stop-color="#00ff81"/><stop offset="0.2669" stop-color="#00ff78"/><stop offset="0.2900" stop-color="#5dff41"/><stop offset="0.3153" stop-color="#9cff14"/><stop offset="0.3245" stop-color="#9fff11"/><stop offset="0.3591" stop-color="#2aff58"/><stop offset="0.4282" stop-color="#00ff8a"/><stop offset="0.5434" stop-color="#00ffae"/><stop offset="0.5664" stop-color="#00ffaf"/><stop offset="0.5710" stop-color="#00ffaf"/><stop offset="0.6263" stop-color="#00ff99"/><stop offset="0.6309" stop-color="#00ff8d"/><stop offset="0.6470" stop-color="#56ff45"/><stop offset="0.6816" stop-color="#6fff38"/><stop offset="0.6954" stop-color="#00ff68"/><stop offset="0.7000" stop-color="#00ff71"/><stop offset="0.7691" stop-color="#00ff72"/><stop offset="0.7737" stop-color="#05ff64"/><stop offset="0.7875" stop-color="#b0ff00"/><stop offset="0.8060" stop-color="#fff900"/><stop offset="0.8244" stop-color="#ffe000"/><stop offset="0.8428" stop-color="#ff9000"/><stop offset="0.8566" stop-color="#ff5000"/><stop offset="0.8797" stop-color="#ff0000"/><stop offset="0.9073" stop-color="#ff0000"/><stop offset="0.9119" stop-color="#f80000"/><stop offset="0.9304" stop-color="#ce0000"/><stop offset="0.9396" stop-color="#c00000"/><stop offset="0.9580" stop-color="#a80000"/><stop offset="0.9695" stop-color="#a20000"/><stop offset="0.9995" stop-color="#9c0000"/></linearGradient>
<linearGradient id="g129" gradientUnits="userSpaceOnUse" x1="0" y1="0" x2="434.1" y2="0"><stop offset="0.0000" stop-color="#0000c0"/><stop offset="0.1241" stop-color="#0000c8"/><stop offset="0.1379" stop-color="#0000f8"/><stop offset="0.1402" stop-color="#0000ff"/><stop offset="0.1610" stop-color="#0054ff"/><stop offset="0.1633" stop-color="#005dff"/><stop offset="0.1863" stop-color="#00beff"/><stop offset="0.2024" stop-color="#00feff"/><stop offset="0.2208" stop-color="#00ffa7"/><stop offset="0.2623" stop-color="#00ff83"/><stop offset="0.2669" stop-color="#00ff7d"/><stop offset="0.2900" stop-color="#31ff55"/><stop offset="0.3153" stop-color="#89ff27"/><stop offset="0.3245" stop-color="#7cff32"/><stop offset="0.3591" stop-color="#0eff61"/><stop offset="0.4282" stop-color="#00ff83"/><stop offset="0.5434" stop-color="#00ffa7"/><stop offset="0.5664" stop-color="#00ffab"/><stop offset="0.5710" stop-color="#00ffaa"/><stop offset="0.6263" stop-color="#00ff9a"/><stop offset="0.6309" stop-color="#00ff95"/><stop offset="0.6470" stop-color="#61ff40"/><stop offset="0.6816" stop-color="#7aff33"/><stop offset="0.6954" stop-color="#00ff6e"/><stop offset="0.7000" stop-color="#00ff71"/><stop offset="0.7691" stop-color="#00ff74"/><stop offset="0.7737" stop-color="#00ff70"/><stop offset="0.7875" stop-color="#b0ff00"/><stop offset="0.8060" stop-color="#fff900"/><stop offset="0.8244" stop-color="#ffe000"/><stop offset="0.8428" stop-color="#ff9000"/><stop offset="0.8566" stop-color="#ff5000"/><stop offset="0.8797" stop-color="#ff0000"/><stop offset="0.9073" stop-color="#ff0000"/><stop offset="0.9119" stop-color="#fd0000"/><stop offset="0.9304" stop-color="#d60000"/><stop offset="0.9396" stop-color="#c60000"/><stop offset="0.9580" stop-color="#ae0000"/><stop offset="0.9695" stop-color="#a30000"/><stop offset="0.9995" stop-color="#9c0000"/></linearGradient>
<linearGradient id="g130" gradientUnits="userSpaceOnUse" x1="0" y1="0" x2="434.1" y2="0"><stop offset="0.0000" stop-color="#0000c0"/><stop offset="0.1241" stop-color="#0000c9"/><stop offset="0.1402" stop-color="#0000ff"/><stop offset="0.1633" stop-color="#0060ff"/><stop offset="0.1863" stop-color="#00c0ff"/><stop offset="0.2024" stop-color="#00ffff"/><stop offset="0.2208" stop-color="#00ffa3"/><stop offset="0.2669" stop-color="#00ff80"/><stop offset="0.3153" stop-color="#71ff37"/><stop offset="0.3591" stop-color="#00ff66"/><stop offset="0.4282" stop-color="#00ff80"/><stop offset="0.5434" stop-color="#00ffa2"/><stop offset="0.5664" stop-color="#00ffa4"/><stop offset="0.5894" stop-color="#00ff9d"/><stop offset="0.6309" stop-color="#00ff90"/><stop offset="0.6401" stop-color="#07ff63"/><stop offset="0.6470" stop-color="#5bff43"/><stop offset="0.6816" stop-color="#75ff35"/><stop offset="0.6954" stop-color="#00ff6a"/><stop offset="0.7507" stop-color="#00ff6b"/><stop offset="0.7737" stop-color="#05ff64"/><stop offset="0.7852" stop-color="#a3ff0d"/><stop offset="0.7875" stop-color="#bcff00"/><stop offset="0.8060" stop-color="#ffec00"/><stop offset="0.8083" stop-color="#ffe800"/><stop offset="0.8244" stop-color="#ffc600"/><stop offset="0.8313" stop-color="#ffaa00"/><stop offset="0.8428" stop-color="#ff7e00"/><stop offset="0.8543" stop-color="#ff4b00"/><stop offset="0.8566" stop-color="#ff3d00"/><stop offset="0.8728" stop-color="#ff0000"/><stop offset="0.8797" stop-color="#ff0000"/><stop offset="0.8889" stop-color="#ff0000"/><stop offset="0.9119" stop-color="#ef0000"/><stop offset="0.9396" stop-color="#c10000"/><stop offset="0.9695" stop-color="#a30000"/><stop offset="0.9995" stop-color="#9c0000"/></linearGradient>
<linearGradient id="g131" gradientUnits="userSpaceOnUse" x1="0" y1="0" x2="434.1" y2="0"><stop offset="0.0000" stop-color="#0000c0"/><stop offset="0.1241" stop-color="#0000c9"/><stop offset="0.1402" stop-color="#0000ff"/><stop offset="0.1633" stop-color="#0060ff"/><stop offset="0.1863" stop-color="#00c0ff"/><stop offset="0.2024" stop-color="#00ffff"/><stop offset="0.2208" stop-color="#00ffa3"/><stop offset="0.2669" stop-color="#00ff80"/><stop offset="0.3153" stop-color="#53ff46"/><stop offset="0.3591" stop-color="#00ff66"/><stop offset="0.4282" stop-color="#00ff80"/><stop offset="0.5434" stop-color="#00ff9e"/><stop offset="0.5664" stop-color="#00ff9a"/><stop offset="0.5894" stop-color="#00ff91"/><stop offset="0.6309" stop-color="#00ff7e"/><stop offset="0.6401" stop-color="#0fff61"/><stop offset="0.6470" stop-color="#43ff4e"/><stop offset="0.6816" stop-color="#60ff40"/><stop offset="0.6954" stop-color="#17ff5e"/><stop offset="0.7507" stop-color="#22ff5a"/><stop offset="0.7737" stop-color="#5cff42"/><stop offset="0.7852" stop-color="#c0ff00"/><stop offset="0.7875" stop-color="#d3ff00"/><stop offset="0.8060" stop-color="#ffd300"/><stop offset="0.8083" stop-color="#ffcb00"/><stop offset="0.8244" stop-color="#ff9e00"/><stop offset="0.8313" stop-color="#ff8400"/><stop offset="0.8428" stop-color="#ff5d00"/><stop offset="0.8543" stop-color="#ff2500"/><stop offset="0.8566" stop-color="#ff1c00"/><stop offset="0.8728" stop-color="#ff0000"/><stop offset="0.8797" stop-color="#f80000"/><stop offset="0.8889" stop-color="#dd0000"/><stop offset="0.9119" stop-color="#cf0000"/><stop offset="0.9396" stop-color="#b40000"/><stop offset="0.9695" stop-color="#a10000"/><stop offset="0.9995" stop-color="#9c0000"/></linearGradient>
<linearGradient id="g132" gradientUnits="userSpaceOnUse" x1="0" y1="0" x2="434.1" y2="0"><stop offset="0.0000" stop-color="#0000c0"/><stop offset="0.1241" stop-color="#0000c9"/><stop offset="0.1402" stop-color="#0000ff"/><stop offset="0.1633" stop-color="#0060ff"/><stop offset="0.1863" stop-color="#00c0ff"/><stop offset="0.2024" stop-color="#00ffff"/><stop offset="0.2208" stop-color="#00ffa3"/><stop offset="0.2669" stop-color="#00ff80"/><stop offset="0.3153" stop-color="#35ff54"/><stop offset="0.3591" stop-color="#00ff66"/><stop offset="0.4282" stop-color="#00ff80"/><stop offset="0.5434" stop-color="#00ff9b"/><stop offset="0.5664" stop-color="#00ff91"/><stop offset="0.5894" stop-color="#00ff86"/><stop offset="0.6309" stop-color="#00ff6c"/><stop offset="0.6401" stop-color="#16ff5e"/><stop offset="0.6470" stop-color="#2cff57"/><stop offset="0.6816" stop-color="#4bff4b"/><stop offset="0.6954" stop-color="#37ff53"/><stop offset="0.7507" stop-color="#50ff48"/><stop offset="0.7737" stop-color="#a6ff0a"/><stop offset="0.7852" stop-color="#dbff00"/><stop offset="0.7875" stop-color="#eaff00"/><stop offset="0.8060" stop-color="#ffba00"/><stop offset="0.8083" stop-color="#ffb300"/><stop offset="0.8244" stop-color="#ff7a00"/><stop offset="0.8313" stop-color="#ff6200"/><stop offset="0.8428" stop-color="#ff3300"/><stop offset="0.8543" stop-color="#ff0000"/><stop offset="0.8566" stop-color="#ff0000"/><stop offset="0.8728" stop-color="#fa0000"/><stop offset="0.8797" stop-color="#d80000"/><stop offset="0.8889" stop-color="#b60000"/><stop offset="0.9119" stop-color="#b10000"/><stop offset="0.9396" stop-color="#a70000"/><stop offset="0.9695" stop-color="#9f0000"/><stop offset="0.9995" stop-color="#9c0000"/></linearGradient>
<linearGradient id="g133" gradientUnits="userSpaceOnUse" x1="0" y1="0" x2="434.1" y2="0"><stop offset="0.0000" stop-color="#0000c0"/><stop offset="0.1241" stop-color="#0000c9"/><stop offset="0.1402" stop-color="#0000ff"/><stop offset="0.1633" stop-color="#0060ff"/><stop offset="0.1863" stop-color="#00c0ff"/><stop offset="0.2024" stop-color="#00ffff"/><stop offset="0.2208" stop-color="#00ffa3"/><stop offset="0.2669" stop-color="#00ff80"/><stop offset="0.3153" stop-color="#26ff59"/><stop offset="0.3591" stop-color="#00ff66"/><stop offset="0.4282" stop-color="#00ff80"/><stop offset="0.5434" stop-color="#00ff99"/><stop offset="0.5894" stop-color="#00ff80"/><stop offset="0.6401" stop-color="#1aff5d"/><stop offset="0.6816" stop-color="#40ff50"/><stop offset="0.7507" stop-color="#66ff3d"/><stop offset="0.7852" stop-color="#e8ff00"/><stop offset="0.8083" stop-color="#ffa800"/><stop offset="0.8313" stop-color="#ff5000"/><stop offset="0.8543" stop-color="#ff0000"/><stop offset="0.8728" stop-color="#e70000"/><stop offset="0.8889" stop-color="#a40000"/><stop offset="0.9995" stop-color="#9c0000"/></linearGradient>
<linearGradient id="g134" gradientUnits="userSpaceOnUse" x1="0" y1="0" x2="434.1" y2="0"><stop offset="0.0000" stop-color="#0000c0"/><stop offset="0.1241" stop-color="#0000c9"/><stop offset="0.1402" stop-color="#0000ff"/><stop offset="0.1633" stop-color="#0060ff"/><stop offset="0.1863" stop-color="#00c0ff"/><stop offset="0.2024" stop-color="#00ffff"/><stop offset="0.2208" stop-color="#00ffa3"/><stop offset="0.2669" stop-color="#00ff80"/><stop offset="0.3153" stop-color="#26ff59"/><stop offset="0.3591" stop-color="#00ff66"/><stop offset="0.4282" stop-color="#00ff80"/><stop offset="0.5434" stop-color="#00ff99"/><stop offset="0.5894" stop-color="#00ff80"/><stop offset="0.6401" stop-color="#1aff5d"/><stop offset="0.6816" stop-color="#40ff50"/><stop offset="0.7507" stop-color="#66ff3d"/><stop offset="0.7852" stop-color="#e8ff00"/><stop offset="0.8083" stop-color="#ffa800"/><stop offset="0.8313" stop-color="#ff5000"/><stop offset="0.8543" stop-color="#ff0000"/><stop offset="0.8728" stop-color="#e70000"/><stop offset="0.8889" stop-color="#a40000"/><stop offset="0.9995" stop-color="#9c0000"/></linearGradient>
<linearGradient id="g135" gradientUnits="userSpaceOnUse" x1="0" y1="0" x2="434.1" y2="0"><stop offset="0.0000" stop-color="#0000c0"/><stop offset="0.1241" stop-color="#0000c9"/><stop offset="0.1402" stop-color="#0000ff"/><stop offset="0.1633" stop-color="#0060ff"/><stop offset="0.1863" stop-color="#00c0ff"/><stop offset="0.2024" stop-color="#00ffff"/><stop offset="0.2208" stop-color="#00ffa3"/><stop offset="0.2669" stop-color="#00ff80"/><stop offset="0.3153" stop-color="#26ff59"/><stop offset="0.3591" stop-color="#00ff66"/><stop offset="0.4282" stop-color="#00ff80"/><stop offset="0.5434" stop-color="#00ff99"/><stop offset="0.5894" stop-color="#00ff80"/><stop offset="0.6401" stop-color="#1aff5d"/><stop offset="0.6816" stop-color="#40ff50"/><stop offset="0.7507" stop-color="#66ff3d"/><stop offset="0.7852" stop-color="#e8ff00"/><stop offset="0.8083" stop-color="#ffa800"/><stop offset="0.8313" stop-color="#ff5000"/><stop offset="0.8543" stop-color="#ff0000"/><stop offset="0.8728" stop-color="#e70000"/><stop offset="0.8889" stop-color="#a40000"/><stop offset="0.9995" stop-color="#9c0000"/></linearGradient>
<linearGradient id="mg137" gradientUnits="userSpaceOnUse" x1="0" y1="464.49" x2="0" y2="516.1"><stop offset="0" stop-color="#fff"/><stop offset="1" stop-color="#000"/></linearGradient>
<mask id="m136" maskUnits="userSpaceOnUse" x="-2" y="410.88" width="438.1" height="107.22"><rect x="-2" y="410.88" width="438.1" height="107.22" fill="url(#mg137)"/></mask>
<linearGradient id="mg139" gradientUnits="userSpaceOnUse" x1="0" y1="412.88" x2="0" y2="464.49"><stop offset="0" stop-color="#fff"/><stop offset="1" stop-color="#000"/></linearGradient>
<mask id="m138" maskUnits="userSpaceOnUse" x="-2" y="359.27" width="438.1" height="107.22"><rect x="-2" y="359.27" width="438.1" height="107.22" fill="url(#mg139)"/></mask>
<linearGradient id="mg141" gradientUnits="userSpaceOnUse" x1="0" y1="361.27" x2="0" y2="412.88"><stop offset="0" stop-color="#fff"/><stop offset="1" stop-color="#000"/></linearGradient>
<mask id="m140" maskUnits="userSpaceOnUse" x="-2" y="307.66" width="438.1" height="107.22"><rect x="-2" y="307.66" width="438.1" height="107.22" fill="url(#mg141)"/></mask>
<linearGradient id="mg143" gradientUnits="userSpaceOnUse" x1="0" y1="309.66" x2="0" y2="361.27"><stop offset="0" stop-color="#fff"/><stop offset="1" stop-color="#000"/></linearGradient>
<mask id="m142" maskUnits="userSpaceOnUse" x="-2" y="256.05" width="438.1" height="107.22"><rect x="-2" y="256.05" width="438.1" height="107.22" fill="url(#mg143)"/></mask>
<linearGradient id="mg145" gradientUnits="userSpaceOnUse" x1="0" y1="258.05" x2="0" y2="309.66"><stop offset="0" stop-color="#fff"/><stop offset="1" stop-color="#000"/></linearGradient>
<mask id="m144" maskUnits="userSpaceOnUse" x="-2" y="204.44" width="438.1" height="107.22"><rect x="-2" y="204.44" width="438.1" height="107.22" fill="url(#mg145)"/></mask>
<linearGradient id="mg147" gradientUnits="userSpaceOnUse" x1="0" y1="206.44" x2="0" y2="258.05"><stop offset="0" stop-color="#fff"/><stop offset="1" stop-color="#000"/></linearGradient>
<mask id="m146" maskUnits="userSpaceOnUse" x="-2" y="152.83" width="438.1" height="107.22"><rect x="-2" y="152.83" width="438.1" height="107.22" fill="url(#mg147)"/></mask>
<linearGradient id="mg149" gradientUnits="userSpaceOnUse" x1="0" y1="154.83" x2="0" y2="206.44"><stop offset="0" stop-color="#fff"/><stop offset="1" stop-color="#000"/></linearGradient>
<mask id="m148" maskUnits="userSpaceOnUse" x="-2" y="101.22" width="438.1" height="107.22"><rect x="-2" y="101.22" width="438.1" height="107.22" fill="url(#mg149)"/></mask>
<linearGradient id="mg151" gradientUnits="userSpaceOnUse" x1="0" y1="103.22" x2="0" y2="154.83"><stop offset="0" stop-color="#fff"/><stop offset="1" stop-color="#000"/></linearGradient>
<mask id="m150" maskUnits="userSpaceOnUse" x="-2" y="49.61" width="438.1" height="107.22"><rect x="-2" y="49.61" width="438.1" height="107.22" fill="url(#mg151)"/></mask>
<linearGradient id="mg153" gradientUnits="userSpaceOnUse" x1="0" y1="51.61" x2="0" y2="103.22"><stop offset="0" stop-color="#fff"/><stop offset="1" stop-color="#000"/></linearGradient>
<mask id="m152" maskUnits="userSpaceOnUse" x="-2" y="-2" width="438.1" height="107.22"><rect x="-2" y="-2" width="438.1" height="107.22" fill="url(#mg153)"/></mask>
<linearGradient id="mg155" gradientUnits="userSpaceOnUse" x1="0" y1="0" x2="0" y2="51.61"><stop offset="0" stop-color="#fff"/><stop offset="1" stop-color="#000"/></linearGradient>
<mask id="m154" maskUnits="userSpaceOnUse" x="-2" y="-2" width="438.1" height="55.61"><rect x="-2" y="-2" width="438.1" height="55.61" fill="url(#mg155)"/></mask>
<linearGradient id="g156" gradientUnits="userSpaceOnUse" x1="0" y1="0" x2="434.1" y2="0"><stop offset="0.0000" stop-color="#0000db"/><stop offset="0.0571" stop-color="#0000e4"/><stop offset="0.1078" stop-color="#0000f6"/><stop offset="0.1262" stop-color="#0060ff"/><stop offset="0.1493" stop-color="#00c0ff"/><stop offset="0.1654" stop-color="#00ffff"/><stop offset="0.1792" stop-color="#00ffdb"/><stop offset="0.1999" stop-color="#00ffb3"/><stop offset="0.2184" stop-color="#00ff8f"/><stop offset="0.2644" stop-color="#00ff8f"/><stop offset="0.3082" stop-color="#00ffb3"/><stop offset="0.3289" stop-color="#00ffdb"/><stop offset="0.3520" stop-color="#00ffa3"/><stop offset="0.4303" stop-color="#00ff99"/><stop offset="0.5178" stop-color="#00ff8f"/><stop offset="0.5731" stop-color="#00ff66"/><stop offset="0.5985" stop-color="#80ff30"/><stop offset="0.6215" stop-color="#e8ff00"/><stop offset="0.6515" stop-color="#ffff00"/><stop offset="0.6814" stop-color="#b0ff00"/><stop offset="0.7252" stop-color="#66ff3d"/><stop offset="0.7735" stop-color="#1aff5d"/><stop offset="0.7874" stop-color="#93ff1d"/><stop offset="0.8150" stop-color="#ffff00"/><stop offset="0.8450" stop-color="#ffa800"/><stop offset="0.8749" stop-color="#ff6600"/><stop offset="0.9049" stop-color="#ff0900"/><stop offset="0.9417" stop-color="#ff0000"/><stop offset="0.9740" stop-color="#d70000"/><stop offset="0.9993" stop-color="#ab0000"/></linearGradient>
<linearGradient id="g157" gradientUnits="userSpaceOnUse" x1="0" y1="0" x2="434.1" y2="0"><stop offset="0.0000" stop-color="#0000e1"/><stop offset="0.0571" stop-color="#0000e9"/><stop offset="0.1078" stop-color="#0000f8"/><stop offset="0.1262" stop-color="#0060ff"/><stop offset="0.1493" stop-color="#00c0ff"/><stop offset="0.1654" stop-color="#00ffff"/><stop offset="0.1792" stop-color="#00ffd8"/><stop offset="0.1953" stop-color="#00ffb4"/><stop offset="0.1999" stop-color="#00ffa8"/><stop offset="0.2138" stop-color="#00ff81"/><stop offset="0.2184" stop-color="#00ff7e"/><stop offset="0.2276" stop-color="#00ff87"/><stop offset="0.2644" stop-color="#00ff8c"/><stop offset="0.2990" stop-color="#00ffa8"/><stop offset="0.3082" stop-color="#00ffaf"/><stop offset="0.3289" stop-color="#00ffcf"/><stop offset="0.3520" stop-color="#00ffa1"/><stop offset="0.4303" stop-color="#00ff99"/><stop offset="0.4948" stop-color="#00ff87"/><stop offset="0.5178" stop-color="#00ff85"/><stop offset="0.5524" stop-color="#00ff6f"/><stop offset="0.5731" stop-color="#12ff60"/><stop offset="0.5870" stop-color="#51ff47"/><stop offset="0.5985" stop-color="#88ff28"/><stop offset="0.6215" stop-color="#e8ff00"/><stop offset="0.6445" stop-color="#feff00"/><stop offset="0.6515" stop-color="#ffff00"/><stop offset="0.6676" stop-color="#d6ff00"/><stop offset="0.6814" stop-color="#b3ff00"/><stop offset="0.7160" stop-color="#7bff33"/><stop offset="0.7252" stop-color="#69ff3c"/><stop offset="0.7735" stop-color="#1cff5c"/><stop offset="0.7874" stop-color="#93ff1d"/><stop offset="0.8150" stop-color="#f4ff00"/><stop offset="0.8265" stop-color="#ffe900"/><stop offset="0.8450" stop-color="#ffb600"/><stop offset="0.8519" stop-color="#ffa600"/><stop offset="0.8749" stop-color="#ff7200"/><stop offset="0.9049" stop-color="#ff1e00"/><stop offset="0.9325" stop-color="#ff0000"/><stop offset="0.9417" stop-color="#ff0000"/><stop offset="0.9624" stop-color="#f30000"/><stop offset="0.9740" stop-color="#db0000"/><stop offset="0.9809" stop-color="#cd0000"/><stop offset="0.9993" stop-color="#ac0000"/></linearGradient>
<linearGradient id="g158" gradientUnits="userSpaceOnUse" x1="0" y1="0" x2="434.1" y2="0"><stop offset="0.0000" stop-color="#0000e6"/><stop offset="0.0571" stop-color="#0000ed"/><stop offset="0.1078" stop-color="#0000fa"/><stop offset="0.1262" stop-color="#0060ff"/><stop offset="0.1493" stop-color="#00c0ff"/><stop offset="0.1654" stop-color="#00ffff"/><stop offset="0.1792" stop-color="#00ffd5"/><stop offset="0.1953" stop-color="#00ffad"/><stop offset="0.1999" stop-color="#00ff9d"/><stop offset="0.2138" stop-color="#00ff69"/><stop offset="0.2184" stop-color="#00ff6d"/><stop offset="0.2276" stop-color="#00ff7f"/><stop offset="0.2644" stop-color="#00ff89"/><stop offset="0.2990" stop-color="#00ffa4"/><stop offset="0.3082" stop-color="#00ffab"/><stop offset="0.3289" stop-color="#00ffc6"/><stop offset="0.3520" stop-color="#00ff9f"/><stop offset="0.4303" stop-color="#00ff99"/><stop offset="0.4948" stop-color="#00ff7c"/><stop offset="0.5178" stop-color="#00ff7a"/><stop offset="0.5524" stop-color="#00ff69"/><stop offset="0.5731" stop-color="#25ff59"/><stop offset="0.5870" stop-color="#5dff41"/><stop offset="0.5985" stop-color="#8fff21"/><stop offset="0.6215" stop-color="#e8ff00"/><stop offset="0.6445" stop-color="#fffd00"/><stop offset="0.6515" stop-color="#ffff00"/><stop offset="0.6676" stop-color="#d6ff00"/><stop offset="0.6814" stop-color="#b7ff00"/><stop offset="0.7160" stop-color="#7cff32"/><stop offset="0.7252" stop-color="#6bff3b"/><stop offset="0.7735" stop-color="#1fff5b"/><stop offset="0.7874" stop-color="#93ff1d"/><stop offset="0.8150" stop-color="#e8ff00"/><stop offset="0.8265" stop-color="#fff600"/><stop offset="0.8450" stop-color="#ffc400"/><stop offset="0.8519" stop-color="#ffb500"/><stop offset="0.8749" stop-color="#ff7e00"/><stop offset="0.9049" stop-color="#ff2c00"/><stop offset="0.9325" stop-color="#ff0000"/><stop offset="0.9417" stop-color="#ff0000"/><stop offset="0.9624" stop-color="#f80000"/><stop offset="0.9740" stop-color="#de0000"/><stop offset="0.9809" stop-color="#d00000"/><stop offset="0.9993" stop-color="#ae0000"/></linearGradient>
<linearGradient id="g159" gradientUnits="userSpaceOnUse" x1="0" y1="0" x2="434.1" y2="0"><stop offset="0.0000" stop-color="#0000ec"/><stop offset="0.0571" stop-color="#0000f2"/><stop offset="0.1078" stop-color="#0000fb"/><stop offset="0.1262" stop-color="#0060ff"/><stop offset="0.1493" stop-color="#00c0ff"/><stop offset="0.1654" stop-color="#00ffff"/><stop offset="0.1792" stop-color="#00ffd2"/><stop offset="0.1953" stop-color="#00ffa7"/><stop offset="0.1999" stop-color="#00ff92"/><stop offset="0.2138" stop-color="#32ff55"/><stop offset="0.2184" stop-color="#1aff5d"/><stop offset="0.2276" stop-color="#00ff77"/><stop offset="0.2644" stop-color="#00ff86"/><stop offset="0.2990" stop-color="#00ffa0"/><stop offset="0.3082" stop-color="#00ffa7"/><stop offset="0.3289" stop-color="#00ffbe"/><stop offset="0.3520" stop-color="#00ff9d"/><stop offset="0.4303" stop-color="#00ff99"/><stop offset="0.4948" stop-color="#00ff71"/><stop offset="0.5178" stop-color="#00ff6f"/><stop offset="0.5524" stop-color="#08ff63"/><stop offset="0.5731" stop-color="#37ff53"/><stop offset="0.5870" stop-color="#69ff3c"/><stop offset="0.5985" stop-color="#97ff19"/><stop offset="0.6215" stop-color="#e8ff00"/><stop offset="0.6445" stop-color="#fff900"/><stop offset="0.6515" stop-color="#ffff00"/><stop offset="0.6676" stop-color="#d7ff00"/><stop offset="0.6814" stop-color="#baff00"/><stop offset="0.7160" stop-color="#7dff31"/><stop offset="0.7252" stop-color="#6dff39"/><stop offset="0.7735" stop-color="#21ff5b"/><stop offset="0.7874" stop-color="#93ff1d"/><stop offset="0.8150" stop-color="#ddff00"/><stop offset="0.8265" stop-color="#faff00"/><stop offset="0.8450" stop-color="#ffd600"/><stop offset="0.8519" stop-color="#ffc500"/><stop offset="0.8749" stop-color="#ff8c00"/><stop offset="0.9049" stop-color="#ff3b00"/><stop offset="0.9325" stop-color="#ff0000"/><stop offset="0.9417" stop-color="#ff0000"/><stop offset="0.9624" stop-color="#fd0000"/><stop offset="0.9740" stop-color="#e20000"/><stop offset="0.9809" stop-color="#d20000"/><stop offset="0.9993" stop-color="#af0000"/></linearGradient>
<linearGradient id="g160" gradientUnits="userSpaceOnUse" x1="0" y1="0" x2="434.1" y2="0"><stop offset="0.0000" stop-color="#0000f1"/><stop offset="0.0571" stop-color="#0000f6"/><stop offset="0.1078" stop-color="#0000fd"/><stop offset="0.1262" stop-color="#0060ff"/><stop offset="0.1493" stop-color="#00c0ff"/><stop offset="0.1654" stop-color="#00ffff"/><stop offset="0.1792" stop-color="#00ffcf"/><stop offset="0.1953" stop-color="#00ffa0"/><stop offset="0.1999" stop-color="#00ff87"/><stop offset="0.2138" stop-color="#6cff3a"/><stop offset="0.2184" stop-color="#44ff4e"/><stop offset="0.2276" stop-color="#00ff6e"/><stop offset="0.2644" stop-color="#00ff83"/><stop offset="0.2990" stop-color="#00ff9d"/><stop offset="0.3082" stop-color="#00ffa3"/><stop offset="0.3289" stop-color="#00ffb6"/><stop offset="0.3520" stop-color="#00ff9b"/><stop offset="0.4303" stop-color="#00ff99"/><stop offset="0.4948" stop-color="#00ff67"/><stop offset="0.5178" stop-color="#04ff65"/><stop offset="0.5524" stop-color="#17ff5e"/><stop offset="0.5731" stop-color="#4aff4b"/><stop offset="0.5870" stop-color="#74ff36"/><stop offset="0.5985" stop-color="#9fff11"/><stop offset="0.6215" stop-color="#e8ff00"/><stop offset="0.6445" stop-color="#fff600"/><stop offset="0.6515" stop-color="#feff00"/><stop offset="0.6676" stop-color="#d7ff00"/><stop offset="0.6814" stop-color="#beff00"/><stop offset="0.7160" stop-color="#7fff31"/><stop offset="0.7252" stop-color="#6fff38"/><stop offset="0.7735" stop-color="#24ff5a"/><stop offset="0.7874" stop-color="#93ff1d"/><stop offset="0.8150" stop-color="#d1ff00"/><stop offset="0.8265" stop-color="#e9ff00"/><stop offset="0.8450" stop-color="#ffe800"/><stop offset="0.8519" stop-color="#ffd900"/><stop offset="0.8749" stop-color="#ff9a00"/><stop offset="0.9049" stop-color="#ff4b00"/><stop offset="0.9325" stop-color="#ff0000"/><stop offset="0.9417" stop-color="#ff0000"/><stop offset="0.9624" stop-color="#ff0000"/><stop offset="0.9740" stop-color="#e50000"/><stop offset="0.9809" stop-color="#d50000"/><stop offset="0.9993" stop-color="#b10000"/></linearGradient>
<linearGradient id="g161" gradientUnits="userSpaceOnUse" x1="0" y1="0" x2="434.1" y2="0"><stop offset="0.0000" stop-color="#0000f6"/><stop offset="0.0571" stop-color="#0000fb"/><stop offset="0.1078" stop-color="#0000ff"/><stop offset="0.1262" stop-color="#0060ff"/><stop offset="0.1493" stop-color="#00c0ff"/><stop offset="0.1654" stop-color="#00ffff"/><stop offset="0.1792" stop-color="#00ffcc"/><stop offset="0.1953" stop-color="#00ff99"/><stop offset="0.1999" stop-color="#00ff7c"/><stop offset="0.2138" stop-color="#9dff13"/><stop offset="0.2184" stop-color="#6fff39"/><stop offset="0.2276" stop-color="#00ff66"/><stop offset="0.2644" stop-color="#00ff80"/><stop offset="0.2990" stop-color="#00ff99"/><stop offset="0.3082" stop-color="#00ff9f"/><stop offset="0.3289" stop-color="#00ffae"/><stop offset="0.3520" stop-color="#00ff99"/><stop offset="0.4303" stop-color="#00ff99"/><stop offset="0.4948" stop-color="#1aff5d"/><stop offset="0.5178" stop-color="#1fff5b"/><stop offset="0.5524" stop-color="#26ff59"/><stop offset="0.5731" stop-color="#5cff42"/><stop offset="0.5870" stop-color="#80ff30"/><stop offset="0.5985" stop-color="#a6ff0a"/><stop offset="0.6215" stop-color="#e8ff00"/><stop offset="0.6445" stop-color="#fff300"/><stop offset="0.6515" stop-color="#feff00"/><stop offset="0.6676" stop-color="#d8ff00"/><stop offset="0.6814" stop-color="#c1ff00"/><stop offset="0.7160" stop-color="#80ff30"/><stop offset="0.7252" stop-color="#72ff37"/><stop offset="0.7735" stop-color="#26ff59"/><stop offset="0.7874" stop-color="#93ff1d"/><stop offset="0.8150" stop-color="#c5ff00"/><stop offset="0.8265" stop-color="#d8ff00"/><stop offset="0.8450" stop-color="#fffa00"/><stop offset="0.8519" stop-color="#ffec00"/><stop offset="0.8749" stop-color="#ffa800"/><stop offset="0.9049" stop-color="#ff5900"/><stop offset="0.9325" stop-color="#ff0000"/><stop offset="0.9417" stop-color="#ff0000"/><stop offset="0.9624" stop-color="#ff0000"/><stop offset="0.9740" stop-color="#e90000"/><stop offset="0.9809" stop-color="#d70000"/><stop offset="0.9993" stop-color="#b20000"/></linearGradient>
<linearGradient id="g162" gradientUnits="userSpaceOnUse" x1="0" y1="0" x2="434.1" y2="0"><stop offset="0.0000" stop-color="#0000f8"/><stop offset="0.1078" stop-color="#0000ff"/><stop offset="0.1262" stop-color="#0060ff"/><stop offset="0.1493" stop-color="#00c0ff"/><stop offset="0.1654" stop-color="#00ffff"/><stop offset="0.1792" stop-color="#00ffcc"/><stop offset="0.1953" stop-color="#00ff9b"/><stop offset="0.2138" stop-color="#97ff19"/><stop offset="0.2276" stop-color="#00ff69"/><stop offset="0.2644" stop-color="#00ff82"/><stop offset="0.2990" stop-color="#00ffa1"/><stop offset="0.3082" stop-color="#00ffa9"/><stop offset="0.3289" stop-color="#00ffbb"/><stop offset="0.3520" stop-color="#00ff9b"/><stop offset="0.4303" stop-color="#00ff97"/><stop offset="0.4948" stop-color="#14ff5f"/><stop offset="0.5524" stop-color="#26ff59"/><stop offset="0.5870" stop-color="#80ff30"/><stop offset="0.6215" stop-color="#e8ff00"/><stop offset="0.6445" stop-color="#fff100"/><stop offset="0.6676" stop-color="#d5ff00"/><stop offset="0.7160" stop-color="#80ff30"/><stop offset="0.7735" stop-color="#29ff58"/><stop offset="0.7874" stop-color="#9fff11"/><stop offset="0.8219" stop-color="#dfff00"/><stop offset="0.8265" stop-color="#e7ff00"/><stop offset="0.8519" stop-color="#ffdf00"/><stop offset="0.8542" stop-color="#ffd700"/><stop offset="0.8749" stop-color="#ff9f00"/><stop offset="0.8864" stop-color="#ff8000"/><stop offset="0.9049" stop-color="#ff5300"/><stop offset="0.9325" stop-color="#ff0000"/><stop offset="0.9624" stop-color="#ff0000"/><stop offset="0.9670" stop-color="#fd0000"/><stop offset="0.9809" stop-color="#db0000"/><stop offset="0.9993" stop-color="#b60000"/></linearGradient>
<linearGradient id="g163" gradientUnits="userSpaceOnUse" x1="0" y1="0" x2="434.1" y2="0"><stop offset="0.0000" stop-color="#0000fa"/><stop offset="0.1078" stop-color="#0000ff"/><stop offset="0.1262" stop-color="#0060ff"/><stop offset="0.1493" stop-color="#00c0ff"/><stop offset="0.1654" stop-color="#00ffff"/><stop offset="0.1792" stop-color="#00ffcc"/><stop offset="0.1953" stop-color="#00ff9d"/><stop offset="0.2138" stop-color="#91ff1f"/><stop offset="0.2276" stop-color="#00ff6c"/><stop offset="0.2644" stop-color="#00ff84"/><stop offset="0.2990" stop-color="#00ffa8"/><stop offset="0.3082" stop-color="#00ffb2"/><stop offset="0.3289" stop-color="#00ffc8"/><stop offset="0.3520" stop-color="#00ff9d"/><stop offset="0.4303" stop-color="#00ff95"/><stop offset="0.4948" stop-color="#0fff61"/><stop offset="0.5524" stop-color="#26ff59"/><stop offset="0.5870" stop-color="#80ff30"/><stop offset="0.6215" stop-color="#e8ff00"/><stop offset="0.6445" stop-color="#fff000"/><stop offset="0.6676" stop-color="#d2ff00"/><stop offset="0.7160" stop-color="#80ff30"/><stop offset="0.7735" stop-color="#2cff57"/><stop offset="0.7874" stop-color="#aaff06"/><stop offset="0.8219" stop-color="#edff00"/><stop offset="0.8265" stop-color="#f6ff00"/><stop offset="0.8519" stop-color="#ffd000"/><stop offset="0.8542" stop-color="#ffc900"/><stop offset="0.8749" stop-color="#ff9500"/><stop offset="0.8864" stop-color="#ff7900"/><stop offset="0.9049" stop-color="#ff4d00"/><stop offset="0.9325" stop-color="#ff0000"/><stop offset="0.9624" stop-color="#ff0000"/><stop offset="0.9670" stop-color="#ff0000"/><stop offset="0.9809" stop-color="#df0000"/><stop offset="0.9993" stop-color="#bb0000"/></linearGradient>
<linearGradient id="g164" gradientUnits="userSpaceOnUse" x1="0" y1="0" x2="434.1" y2="0"><stop offset="0.0000" stop-color="#0000fb"/><stop offset="0.1078" stop-color="#0000ff"/><stop offset="0.1262" stop-color="#0060ff"/><stop offset="0.1493" stop-color="#00c0ff"/><stop offset="0.1654" stop-color="#00ffff"/><stop offset="0.1792" stop-color="#00ffcc"/><stop offset="0.1953" stop-color="#00ff9f"/><stop offset="0.2138" stop-color="#8cff24"/><stop offset="0.2276" stop-color="#00ff6f"/><stop offset="0.2644" stop-color="#00ff86"/><stop offset="0.2990" stop-color="#00ffb0"/><stop offset="0.3082" stop-color="#00ffba"/><stop offset="0.3289" stop-color="#00ffd9"/><stop offset="0.3520" stop-color="#00ff9f"/><stop offset="0.4303" stop-color="#00ff93"/><stop offset="0.4948" stop-color="#0aff62"/><stop offset="0.5524" stop-color="#26ff59"/><stop offset="0.5870" stop-color="#80ff30"/><stop offset="0.6215" stop-color="#e8ff00"/><stop offset="0.6445" stop-color="#ffef00"/><stop offset="0.6676" stop-color="#ceff00"/><stop offset="0.7160" stop-color="#80ff30"/><stop offset="0.7735" stop-color="#2eff56"/><stop offset="0.7874" stop-color="#b5ff00"/><stop offset="0.8219" stop-color="#fbff00"/><stop offset="0.8265" stop-color="#fffa00"/><stop offset="0.8519" stop-color="#ffc200"/><stop offset="0.8542" stop-color="#ffbd00"/><stop offset="0.8749" stop-color="#ff8d00"/><stop offset="0.8864" stop-color="#ff7300"/><stop offset="0.9049" stop-color="#ff4600"/><stop offset="0.9325" stop-color="#ff0000"/><stop offset="0.9624" stop-color="#ff0000"/><stop offset="0.9670" stop-color="#ff0000"/><stop offset="0.9809" stop-color="#e30000"/><stop offset="0.9993" stop-color="#bf0000"/></linearGradient>
<linearGradient id="g165" gradientUnits="userSpaceOnUse" x1="0" y1="0" x2="434.1" y2="0"><stop offset="0.0000" stop-color="#0000fd"/><stop offset="0.1078" stop-color="#0000ff"/><stop offset="0.1262" stop-color="#0060ff"/><stop offset="0.1493" stop-color="#00c0ff"/><stop offset="0.1654" stop-color="#00ffff"/><stop offset="0.1792" stop-color="#00ffcc"/><stop offset="0.1953" stop-color="#00ffa1"/><stop offset="0.2138" stop-color="#86ff2a"/><stop offset="0.2276" stop-color="#00ff72"/><stop offset="0.2644" stop-color="#00ff88"/><stop offset="0.2990" stop-color="#00ffb7"/><stop offset="0.3082" stop-color="#00ffc3"/><stop offset="0.3289" stop-color="#00ffec"/><stop offset="0.3520" stop-color="#00ffa1"/><stop offset="0.4303" stop-color="#00ff91"/><stop offset="0.4948" stop-color="#05ff64"/><stop offset="0.5524" stop-color="#26ff59"/><stop offset="0.5870" stop-color="#80ff30"/><stop offset="0.6215" stop-color="#e8ff00"/><stop offset="0.6445" stop-color="#ffee00"/><stop offset="0.6676" stop-color="#cbff00"/><stop offset="0.7160" stop-color="#80ff30"/><stop offset="0.7735" stop-color="#31ff55"/><stop offset="0.7874" stop-color="#beff00"/><stop offset="0.8219" stop-color="#fff700"/><stop offset="0.8265" stop-color="#ffee00"/><stop offset="0.8519" stop-color="#ffb700"/><stop offset="0.8542" stop-color="#ffb200"/><stop offset="0.8749" stop-color="#ff8400"/><stop offset="0.8864" stop-color="#ff6c00"/><stop offset="0.9049" stop-color="#ff3f00"/><stop offset="0.9325" stop-color="#ff0000"/><stop offset="0.9624" stop-color="#ff0000"/><stop offset="0.9670" stop-color="#ff0000"/><stop offset="0.9809" stop-color="#e70000"/><stop offset="0.9993" stop-color="#c40000"/></linearGradient>
<linearGradient id="g166" gradientUnits="userSpaceOnUse" x1="0" y1="0" x2="434.1" y2="0"><stop offset="0.0000" stop-color="#0000ff"/><stop offset="0.1078" stop-color="#0000ff"/><stop offset="0.1262" stop-color="#0060ff"/><stop offset="0.1493" stop-color="#00c0ff"/><stop offset="0.1654" stop-color="#00ffff"/><stop offset="0.1792" stop-color="#00ffcc"/><stop offset="0.1953" stop-color="#00ffa3"/><stop offset="0.2138" stop-color="#80ff30"/><stop offset="0.2276" stop-color="#00ff76"/><stop offset="0.2644" stop-color="#00ff8a"/><stop offset="0.3082" stop-color="#00ffcc"/><stop offset="0.3289" stop-color="#00ffff"/><stop offset="0.3520" stop-color="#00ffa3"/><stop offset="0.4303" stop-color="#00ff8f"/><stop offset="0.4948" stop-color="#00ff66"/><stop offset="0.5524" stop-color="#26ff59"/><stop offset="0.5870" stop-color="#80ff30"/><stop offset="0.6215" stop-color="#e8ff00"/><stop offset="0.6445" stop-color="#ffec00"/><stop offset="0.6676" stop-color="#c8ff00"/><stop offset="0.7160" stop-color="#80ff30"/><stop offset="0.7735" stop-color="#33ff54"/><stop offset="0.7874" stop-color="#c8ff00"/><stop offset="0.8219" stop-color="#ffec00"/><stop offset="0.8542" stop-color="#ffa800"/><stop offset="0.8864" stop-color="#ff6600"/><stop offset="0.9325" stop-color="#ff0000"/><stop offset="0.9670" stop-color="#ff0000"/><stop offset="0.9993" stop-color="#c80000"/></linearGradient>
<linearGradient id="mg168" gradientUnits="userSpaceOnUse" x1="0" y1="464.49" x2="0" y2="516.1"><stop offset="0" stop-color="#fff"/><stop offset="1" stop-color="#000"/></linearGradient>
<mask id="m167" maskUnits="userSpaceOnUse" x="-2" y="410.88" width="438.1" height="107.22"><rect x="-2" y="410.88" width="438.1" height="107.22" fill="url(#mg168)"/></mask>
<linearGradient id="mg170" gradientUnits="userSpaceOnUse" x1="0" y1="412.88" x2="0" y2="464.49"><stop offset="0" stop-color="#fff"/><stop offset="1" stop-color="#000"/></linearGradient>
<mask id="m169" maskUnits="userSpaceOnUse" x="-2" y="359.27" width="438.1" height="107.22"><rect x="-2" y="359.27" width="438.1" height="107.22" fill="url(#mg170)"/></mask>
<linearGradient id="mg172" gradientUnits="userSpaceOnUse" x1="0" y1="361.27" x2="0" y2="412.88"><stop offset="0" stop-color="#fff"/><stop offset="1" stop-color="#000"/></linearGradient>
<mask id="m171" maskUnits="userSpaceOnUse" x="-2" y="307.66" width="438.1" height="107.22"><rect x="-2" y="307.66" width="438.1" height="107.22" fill="url(#mg172)"/></mask>
<linearGradient id="mg174" gradientUnits="userSpaceOnUse" x1="0" y1="309.66" x2="0" y2="361.27"><stop offset="0" stop-color="#fff"/><stop offset="1" stop-color="#000"/></linearGradient>
<mask id="m173" maskUnits="userSpaceOnUse" x="-2" y="256.05" width="438.1" height="107.22"><rect x="-2" y="256.05" width="438.1" height="107.22" fill="url(#mg174)"/></mask>
<linearGradient id="mg176" gradientUnits="userSpaceOnUse" x1="0" y1="258.05" x2="0" y2="309.66"><stop offset="0" stop-color="#fff"/><stop offset="1" stop-color="#000"/></linearGradient>
<mask id="m175" maskUnits="userSpaceOnUse" x="-2" y="204.44" width="438.1" height="107.22"><rect x="-2" y="204.44" width="438.1" height="107.22" fill="url(#mg176)"/></mask>
<linearGradient id="mg178" gradientUnits="userSpaceOnUse" x1="0" y1="206.44" x2="0" y2="258.05"><stop offset="0" stop-color="#fff"/><stop offset="1" stop-color="#000"/></linearGradient>
<mask id="m177" maskUnits="userSpaceOnUse" x="-2" y="152.83" width="438.1" height="107.22"><rect x="-2" y="152.83" width="438.1" height="107.22" fill="url(#mg178)"/></mask>
<linearGradient id="mg180" gradientUnits="userSpaceOnUse" x1="0" y1="154.83" x2="0" y2="206.44"><stop offset="0" stop-color="#fff"/><stop offset="1" stop-color="#000"/></linearGradient>
<mask id="m179" maskUnits="userSpaceOnUse" x="-2" y="101.22" width="438.1" height="107.22"><rect x="-2" y="101.22" width="438.1" height="107.22" fill="url(#mg180)"/></mask>
<linearGradient id="mg182" gradientUnits="userSpaceOnUse" x1="0" y1="103.22" x2="0" y2="154.83"><stop offset="0" stop-color="#fff"/><stop offset="1" stop-color="#000"/></linearGradient>
<mask id="m181" maskUnits="userSpaceOnUse" x="-2" y="49.61" width="438.1" height="107.22"><rect x="-2" y="49.61" width="438.1" height="107.22" fill="url(#mg182)"/></mask>
<linearGradient id="mg184" gradientUnits="userSpaceOnUse" x1="0" y1="51.61" x2="0" y2="103.22"><stop offset="0" stop-color="#fff"/><stop offset="1" stop-color="#000"/></linearGradient>
<mask id="m183" maskUnits="userSpaceOnUse" x="-2" y="-2" width="438.1" height="107.22"><rect x="-2" y="-2" width="438.1" height="107.22" fill="url(#mg184)"/></mask>
<linearGradient id="mg186" gradientUnits="userSpaceOnUse" x1="0" y1="0" x2="0" y2="51.61"><stop offset="0" stop-color="#fff"/><stop offset="1" stop-color="#000"/></linearGradient>
<mask id="m185" maskUnits="userSpaceOnUse" x="-2" y="-2" width="438.1" height="55.61"><rect x="-2" y="-2" width="438.1" height="55.61" fill="url(#mg186)"/></mask>
</defs>
<line x1="188.7" y1="695.36" x2="739.7" y2="508.86" stroke="#dedede" stroke-width="1.5"/>
<line x1="739.7" y1="508.86" x2="1163.1" y2="751.66" stroke="#dedede" stroke-width="1.5"/>
<line x1="188.7" y1="588.52" x2="739.7" y2="402.02" stroke="#dedede" stroke-width="1.5"/>
<line x1="739.7" y1="402.02" x2="1163.1" y2="644.82" stroke="#dedede" stroke-width="1.5"/>
<line x1="188.7" y1="481.68" x2="739.7" y2="295.18" stroke="#dedede" stroke-width="1.5"/>
<line x1="739.7" y1="295.18" x2="1163.1" y2="537.98" stroke="#dedede" stroke-width="1.5"/>
<line x1="188.7" y1="374.84" x2="739.7" y2="188.34" stroke="#dedede" stroke-width="1.5"/>
<line x1="739.7" y1="188.34" x2="1163.1" y2="431.14" stroke="#dedede" stroke-width="1.5"/>
<line x1="464.2" y1="708.95" x2="464.2" y2="174.75" stroke="#dedede" stroke-width="1.5"/>
<line x1="951.4" y1="737.1" x2="951.4" y2="202.9" stroke="#dedede" stroke-width="1.5"/>
<line x1="887.6" y1="951.75" x2="464.2" y2="708.95" stroke="#dedede" stroke-width="1.5"/>
<line x1="400.4" y1="923.6" x2="951.4" y2="737.1" stroke="#dedede" stroke-width="1.5"/>
<line x1="739.7" y1="615.7" x2="739.7" y2="81.5" stroke="#000" stroke-width="4.8" stroke-linecap="round"/>
<line x1="188.7" y1="802.2" x2="739.7" y2="615.7" stroke="#000" stroke-width="4.8" stroke-linecap="round"/>
<line x1="739.7" y1="615.7" x2="1163.1" y2="858.5" stroke="#000" stroke-width="4.8" stroke-linecap="round"/>
<g opacity="0.88" transform="matrix(1,0.57345,0,1,648.51,112.37)">
<rect x="0" y="480.78" width="423.4" height="53.42" fill="url(#g11)"/>
<rect x="0" y="427.36" width="423.4" height="106.84" fill="url(#g10)" mask="url(#m12)"/>
<rect x="0" y="373.94" width="423.4" height="106.84" fill="url(#g9)" mask="url(#m14)"/>
<rect x="0" y="320.52" width="423.4" height="106.84" fill="url(#g8)" mask="url(#m16)"/>
<rect x="0" y="267.1" width="423.4" height="106.84" fill="url(#g7)" mask="url(#m18)"/>
<rect x="0" y="213.68" width="423.4" height="106.84" fill="url(#g6)" mask="url(#m20)"/>
<rect x="0" y="160.26" width="423.4" height="106.84" fill="url(#g5)" mask="url(#m22)"/>
<rect x="0" y="106.84" width="423.4" height="106.84" fill="url(#g4)" mask="url(#m24)"/>
<rect x="0" y="53.42" width="423.4" height="106.84" fill="url(#g3)" mask="url(#m26)"/>
<rect x="0" y="0" width="423.4" height="106.84" fill="url(#g2)" mask="url(#m28)"/>
<rect x="0" y="0" width="423.4" height="53.42" fill="url(#g1)" mask="url(#m30)"/>
</g>
<g opacity="0.88" transform="matrix(1,0.57345,0,1,465.3,174.38)">
<rect x="0" y="480.78" width="423.4" height="53.42" fill="url(#g42)"/>
<rect x="0" y="427.36" width="423.4" height="106.84" fill="url(#g41)" mask="url(#m43)"/>
<rect x="0" y="373.94" width="423.4" height="106.84" fill="url(#g40)" mask="url(#m45)"/>
<rect x="0" y="320.52" width="423.4" height="106.84" fill="url(#g39)" mask="url(#m47)"/>
<rect x="0" y="267.1" width="423.4" height="106.84" fill="url(#g38)" mask="url(#m49)"/>
<rect x="0" y="213.68" width="423.4" height="106.84" fill="url(#g37)" mask="url(#m51)"/>
<rect x="0" y="160.26" width="423.4" height="106.84" fill="url(#g36)" mask="url(#m53)"/>
<rect x="0" y="106.84" width="423.4" height="106.84" fill="url(#g35)" mask="url(#m55)"/>
<rect x="0" y="53.42" width="423.4" height="106.84" fill="url(#g34)" mask="url(#m57)"/>
<rect x="0" y="0" width="423.4" height="106.84" fill="url(#g33)" mask="url(#m59)"/>
<rect x="0" y="0" width="423.4" height="53.42" fill="url(#g32)" mask="url(#m61)"/>
</g>
<g opacity="0.88" transform="matrix(1,0.57345,0,1,280.99,236.76)">
<rect x="0" y="480.78" width="423.4" height="53.42" fill="url(#g73)"/>
<rect x="0" y="427.36" width="423.4" height="106.84" fill="url(#g72)" mask="url(#m74)"/>
<rect x="0" y="373.94" width="423.4" height="106.84" fill="url(#g71)" mask="url(#m76)"/>
<rect x="0" y="320.52" width="423.4" height="106.84" fill="url(#g70)" mask="url(#m78)"/>
<rect x="0" y="267.1" width="423.4" height="106.84" fill="url(#g69)" mask="url(#m80)"/>
<rect x="0" y="213.68" width="423.4" height="106.84" fill="url(#g68)" mask="url(#m82)"/>
<rect x="0" y="160.26" width="423.4" height="106.84" fill="url(#g67)" mask="url(#m84)"/>
<rect x="0" y="106.84" width="423.4" height="106.84" fill="url(#g66)" mask="url(#m86)"/>
<rect x="0" y="53.42" width="423.4" height="106.84" fill="url(#g65)" mask="url(#m88)"/>
<rect x="0" y="0" width="423.4" height="106.84" fill="url(#g64)" mask="url(#m90)"/>
<rect x="0" y="0" width="423.4" height="53.42" fill="url(#g63)" mask="url(#m92)"/>
</g>
<line x1="563.2" y1="399.5" x2="563.2" y2="765.5" stroke="#20c070" stroke-width="1.2" opacity="0.45"/>
<line x1="563.2" y1="765.5" x2="563.2" y2="932.5" stroke="#ffffff" stroke-width="1.2" opacity="0.6"/>
<path d="M250.6,542.1 L238.8,545.2 L233.5,545.2 L229.0,547.1 L230.6,552.5 L235.4,551.5 L239.8,548.5 L251.4,544.5Z" fill="#0b6fbe" stroke="#0b6fbe" stroke-width="1.2" stroke-linejoin="round"/>
<path d="M296.6,570.5 L293.9,575.8 L291.5,577.5 L291.0,579.9 L296.2,582.1 L297.6,580.1 L297.1,577.2 L299.0,571.5Z" fill="#0b6fbe" stroke="#0b6fbe" stroke-width="1.2" stroke-linejoin="round"/>
<path d="M236.2,592.6 L244.5,598.8 L247.2,602.6 L250.9,604.5 L254.1,599.9 L250.9,597.1 L246.4,596.0 L237.6,590.4Z" fill="#0b6fbe" stroke="#0b6fbe" stroke-width="1.2" stroke-linejoin="round"/>
<path d="M344.0,599.1 L351.9,604.1 L354.5,607.5 L358.0,608.9 L360.8,604.1 L357.8,601.8 L353.6,601.2 L345.2,596.9Z" fill="#0b6fbe" stroke="#0b6fbe" stroke-width="1.2" stroke-linejoin="round"/>
<path d="M283.1,619.8 L290.6,624.4 L293.1,627.6 L296.5,628.9 L299.1,623.9 L296.3,621.8 L292.3,621.4 L284.3,617.6Z" fill="#0b6fbe" stroke="#0b6fbe" stroke-width="1.2" stroke-linejoin="round"/>
<path d="M390.5,625.9 L396.5,632.4 L398.0,636.2 L400.8,638.3 L404.8,634.3 L402.6,631.5 L398.9,630.0 L392.3,624.1Z" fill="#0b6fbe" stroke="#0b6fbe" stroke-width="1.2" stroke-linejoin="round"/>
<path d="M329.9,647.3 L338.7,652.8 L341.7,656.4 L345.5,658.0 L348.3,653.2 L344.9,650.7 L340.4,649.9 L331.1,645.1Z" fill="#0b6fbe" stroke="#0b6fbe" stroke-width="1.2" stroke-linejoin="round"/>
<path d="M437.6,653.1 L446.8,658.1 L450.0,661.5 L453.9,662.9 L456.5,657.9 L452.9,655.6 L448.3,655.1 L438.8,650.7Z" fill="#0b6fbe" stroke="#0b6fbe" stroke-width="1.2" stroke-linejoin="round"/>
<path d="M376.7,674.3 L385.9,679.3 L389.1,682.8 L393.0,684.2 L395.6,679.2 L392.0,676.9 L387.4,676.3 L377.9,671.9Z" fill="#0b6fbe" stroke="#0b6fbe" stroke-width="1.2" stroke-linejoin="round"/>
<path d="M484.4,680.5 L492.8,685.6 L495.6,688.9 L499.3,690.4 L501.9,685.4 L498.7,683.1 L494.4,682.6 L485.6,678.3Z" fill="#0b6fbe" stroke="#0b6fbe" stroke-width="1.2" stroke-linejoin="round"/>
<path d="M423.4,701.3 L432.6,706.3 L435.9,709.7 L439.9,711.1 L442.3,706.1 L438.8,703.8 L434.2,703.3 L424.6,698.9Z" fill="#0b6fbe" stroke="#0b6fbe" stroke-width="1.2" stroke-linejoin="round"/>
<path d="M532.8,707.8 L543.6,711.7 L547.7,714.7 L552.3,715.6 L553.9,710.2 L549.7,708.4 L544.7,708.4 L533.6,705.4Z" fill="#0b6fbe" stroke="#0b6fbe" stroke-width="1.2" stroke-linejoin="round"/>
<path d="M470.2,728.1 L479.4,733.5 L482.6,737.0 L486.6,738.6 L489.2,733.6 L485.7,731.2 L481.0,730.5 L471.4,725.9Z" fill="#0b6fbe" stroke="#0b6fbe" stroke-width="1.2" stroke-linejoin="round"/>
<path d="M579.5,735.3 L589.5,740.3 L593.1,743.7 L597.3,745.1 L599.7,740.1 L595.8,737.7 L590.9,737.2 L580.5,732.9Z" fill="#0b6fbe" stroke="#0b6fbe" stroke-width="1.2" stroke-linejoin="round"/>
<path d="M516.9,755.1 L523.8,759.6 L525.9,762.8 L529.0,764.0 L531.8,759.2 L529.3,757.1 L525.5,756.7 L518.3,752.9Z" fill="#0b6fbe" stroke="#0b6fbe" stroke-width="1.2" stroke-linejoin="round"/>
<path d="M565.3,782.0 L573.6,787.1 L576.4,790.4 L580.1,791.9 L582.7,786.9 L579.6,784.6 L575.2,784.1 L566.5,779.8Z" fill="#0b6fbe" stroke="#0b6fbe" stroke-width="1.2" stroke-linejoin="round"/>
<path d="M293.9,528.4 L304.1,526.4 L308.7,527.0 L312.6,525.5 L311.4,520.1 L307.2,520.5 L303.3,523.1 L293.3,525.8Z" fill="#0a2a50" stroke="#0a2a50" stroke-width="1" stroke-linejoin="round" opacity="0.16"/>
<path d="M403.4,539.6 L412.9,535.2 L417.5,534.7 L421.1,532.4 L418.5,527.4 L414.6,528.8 L411.4,532.2 L402.2,537.2Z" fill="#0a2a50" stroke="#0a2a50" stroke-width="1" stroke-linejoin="round" opacity="0.16"/>
<path d="M340.9,558.1 L351.1,554.6 L355.9,554.4 L359.8,552.4 L357.8,547.2 L353.6,548.3 L349.9,551.4 L339.9,555.7Z" fill="#0a2a50" stroke="#0a2a50" stroke-width="1" stroke-linejoin="round" opacity="0.16"/>
<path d="M520.9,538.3 L526.4,537.1 L529.1,538.0 L531.2,536.9 L529.6,531.5 L527.3,531.6 L525.5,533.8 L520.1,535.7Z" fill="#0a2a50" stroke="#0a2a50" stroke-width="1" stroke-linejoin="round" opacity="0.16"/>
<path d="M461.4,559.5 L466.2,558.4 L468.7,559.3 L470.4,558.2 L468.6,552.8 L466.6,553.0 L465.1,555.1 L460.6,557.1Z" fill="#0a2a50" stroke="#0a2a50" stroke-width="1" stroke-linejoin="round" opacity="0.16"/>
<path d="M403.4,581.2 L407.9,580.4 L406.1,575.6 L402.2,577.8Z" fill="#0a2a50" stroke="#0a2a50" stroke-width="1" stroke-linejoin="round" opacity="0.16"/>
<path d="M450.0,605.2 L453.5,608.6 L456.5,604.4 L452.0,602.2Z" fill="#0a2a50" stroke="#0a2a50" stroke-width="1" stroke-linejoin="round" opacity="0.16"/>
<path d="M513.3,588.3 L516.8,585.8 L513.2,582.2 L510.7,585.7Z" fill="#0a2a50" stroke="#0a2a50" stroke-width="1" stroke-linejoin="round" opacity="0.16"/>
<path d="M501.1,635.1 L505.8,634.5 L504.2,629.5 L500.1,631.7Z" fill="#0a2a50" stroke="#0a2a50" stroke-width="1" stroke-linejoin="round" opacity="0.16"/>
<path d="M569.2,565.7 L575.1,565.0 L573.7,560.0 L568.2,562.3Z" fill="#0a2a50" stroke="#0a2a50" stroke-width="1" stroke-linejoin="round" opacity="0.16"/>
<path d="M545.5,660.2 L549.2,662.2 L550.2,664.4 L551.9,664.6 L554.1,659.4 L552.8,658.3 L550.5,659.1 L546.5,657.8Z" fill="#0a2a50" stroke="#0a2a50" stroke-width="1" stroke-linejoin="round" opacity="0.16"/>
<path d="M593.6,687.2 L596.8,688.7 L597.6,690.7 L599.1,690.7 L600.9,685.3 L599.7,684.4 L597.8,685.5 L594.4,684.8Z" fill="#0a2a50" stroke="#0a2a50" stroke-width="1" stroke-linejoin="round" opacity="0.16"/>
<path d="M625.3,761.6 L640.5,764.2 L646.7,766.7 L652.9,767.1 L653.7,761.5 L647.7,760.2 L641.0,760.8 L625.7,759.0Z" fill="#0b6fbe" stroke="#0b6fbe" stroke-width="1.2" stroke-linejoin="round"/>
<path d="M673.6,789.1 L685.7,785.6 L691.2,785.5 L695.9,783.5 L694.1,778.1 L689.2,779.2 L684.7,782.4 L672.8,786.7Z" fill="#0b6fbe" stroke="#0b6fbe" stroke-width="1.2" stroke-linejoin="round"/>
<path d="M688.2,739.5 L701.5,737.1 L707.4,737.5 L712.6,735.8 L711.4,730.4 L706.0,731.0 L700.8,733.7 L687.6,736.9Z" fill="#0a1430" stroke="#0a1430" stroke-width="1" stroke-linejoin="round" opacity="0.38"/>
<path d="M697.9,694.1 L707.3,693.7 L711.4,695.0 L715.1,694.2 L714.7,688.6 L710.9,688.4 L707.1,690.3 L697.7,691.5Z" fill="#0a1430" stroke="#0a1430" stroke-width="1" stroke-linejoin="round" opacity="0.38"/>
<path d="M735.2,767.8 L745.5,763.5 L750.4,763.0 L754.3,760.6 L751.9,755.6 L747.7,757.0 L744.1,760.4 L734.2,765.4Z" fill="#0b6fbe" stroke="#0b6fbe" stroke-width="1.2" stroke-linejoin="round"/>
<path d="M749.3,719.6 L762.6,716.1 L768.6,716.0 L773.8,714.0 L772.2,708.6 L766.8,709.7 L761.7,712.9 L748.5,717.2Z" fill="#0b6fbe" stroke="#0b6fbe" stroke-width="1.2" stroke-linejoin="round"/>
<path d="M760.5,672.9 L770.8,670.9 L775.4,671.5 L779.3,670.0 L778.1,664.6 L773.9,665.0 L770.0,667.6 L759.9,670.3Z" fill="#0b6fbe" stroke="#0b6fbe" stroke-width="1.2" stroke-linejoin="round"/>
<path d="M714.6,645.0 L720.1,646.7 L720.9,641.5 L715.2,641.4Z" fill="#0b6fbe" stroke="#0b6fbe" stroke-width="1.2" stroke-linejoin="round"/>
<path d="M796.1,746.5 L808.7,743.0 L814.4,742.9 L819.2,740.9 L817.6,735.5 L812.4,736.6 L807.7,739.8 L795.3,744.1Z" fill="#0b6fbe" stroke="#0b6fbe" stroke-width="1.2" stroke-linejoin="round"/>
<path d="M810.3,699.2 L822.9,695.5 L828.6,695.4 L833.5,693.3 L831.7,687.9 L826.6,689.1 L821.9,692.3 L809.5,696.8Z" fill="#0b6fbe" stroke="#0b6fbe" stroke-width="1.2" stroke-linejoin="round"/>
<path d="M820.1,651.6 L828.7,650.1 L832.7,650.9 L836.0,649.6 L834.8,644.2 L831.3,644.4 L828.0,646.8 L819.5,649.0Z" fill="#0a2a50" stroke="#0a2a50" stroke-width="1" stroke-linejoin="round" opacity="0.16"/>
<path d="M857.1,726.7 L869.7,723.2 L875.4,723.1 L880.2,721.1 L878.6,715.7 L873.4,716.8 L868.7,720.0 L856.3,724.3Z" fill="#0b6fbe" stroke="#0b6fbe" stroke-width="1.2" stroke-linejoin="round"/>
<path d="M871.2,678.5 L883.8,675.0 L889.5,674.9 L894.3,672.9 L892.7,667.5 L887.5,668.6 L882.8,671.8 L870.4,676.1Z" fill="#0b6fbe" stroke="#0b6fbe" stroke-width="1.2" stroke-linejoin="round"/>
<path d="M885.6,631.7 L894.4,627.6 L898.7,627.2 L901.9,625.0 L899.3,620.0 L895.7,621.3 L892.8,624.6 L884.4,629.3Z" fill="#0b6fbe" stroke="#0b6fbe" stroke-width="1.2" stroke-linejoin="round"/>
<path d="M844.9,552.2 L850.2,554.5 L851.9,556.8 L854.3,557.1 L856.1,551.9 L854.1,550.6 L851.3,551.3 L845.7,549.8Z" fill="#0a1430" stroke="#0a1430" stroke-width="1" stroke-linejoin="round" opacity="0.38"/>
<path d="M834.5,600.0 L837.1,602.7 L839.9,598.3 L836.5,597.0Z" fill="#0a1430" stroke="#0a1430" stroke-width="1" stroke-linejoin="round" opacity="0.38"/>
<path d="M889.9,576.2 L894.3,580.4 L895.2,583.2 L897.4,584.4 L901.0,580.0 L899.4,578.1 L896.5,577.7 L891.5,574.2Z" fill="#0b6fbe" stroke="#0b6fbe" stroke-width="1.2" stroke-linejoin="round"/>
<path d="M917.9,704.1 L930.5,701.3 L936.1,701.6 L941.0,699.8 L939.6,694.4 L934.5,695.2 L929.7,698.0 L917.3,701.5Z" fill="#0b6fbe" stroke="#0b6fbe" stroke-width="1.2" stroke-linejoin="round"/>
<path d="M933.8,657.2 L944.1,652.5 L949.1,651.9 L952.9,649.4 L950.5,644.4 L946.2,645.9 L942.6,649.5 L932.6,654.8Z" fill="#0b6fbe" stroke="#0b6fbe" stroke-width="1.2" stroke-linejoin="round"/>
<path d="M945.6,610.0 L949.8,605.6 L952.7,604.7 L953.8,602.5 L949.6,598.9 L947.6,600.5 L947.2,603.4 L943.6,608.4Z" fill="#0b6fbe" stroke="#0b6fbe" stroke-width="1.2" stroke-linejoin="round"/>
<path d="M979.0,684.1 L991.6,681.0 L997.2,681.0 L1002.1,679.1 L1000.5,673.7 L995.4,674.7 L990.6,677.7 L978.2,681.7Z" fill="#0b6fbe" stroke="#0b6fbe" stroke-width="1.2" stroke-linejoin="round"/>
<path d="M994.8,636.8 L1005.1,631.9 L1010.1,631.2 L1013.9,628.7 L1011.3,623.7 L1007.1,625.3 L1003.5,628.9 L993.6,634.4Z" fill="#0b6fbe" stroke="#0b6fbe" stroke-width="1.2" stroke-linejoin="round"/>
<path d="M897.2,525.2 L905.6,530.3 L908.4,533.6 L912.1,535.1 L914.7,530.1 L911.5,527.8 L907.2,527.3 L898.4,523.0Z" fill="#0a2a50" stroke="#0a2a50" stroke-width="1" stroke-linejoin="round" opacity="0.16"/>
<path d="M948.1,550.7 L954.9,555.7 L957.0,559.0 L960.1,560.4 L963.1,555.8 L960.6,553.5 L956.8,552.9 L949.5,548.5Z" fill="#0a2a50" stroke="#0a2a50" stroke-width="1" stroke-linejoin="round" opacity="0.16"/>
<path d="M990.6,576.3 L999.0,582.8 L1001.6,586.7 L1005.4,588.8 L1008.6,584.2 L1005.5,581.3 L1001.0,580.0 L992.2,574.1Z" fill="#0a2a50" stroke="#0a2a50" stroke-width="1" stroke-linejoin="round" opacity="0.16"/>
<path d="M958.2,503.9 L966.6,509.0 L969.4,512.3 L973.1,513.8 L975.7,508.8 L972.5,506.5 L968.2,506.0 L959.4,501.7Z" fill="#0a2a50" stroke="#0a2a50" stroke-width="1" stroke-linejoin="round" opacity="0.16"/>
<path d="M639.6,714.0 L647.3,715.2 L650.5,717.1 L653.6,716.9 L654.2,711.3 L651.1,710.5 L647.7,711.8 L639.8,711.4Z" fill="#0a2a50" stroke="#0a2a50" stroke-width="1" stroke-linejoin="round" opacity="0.16"/>
<path d="M656.4,665.8 L661.8,667.4 L663.7,669.5 L666.0,669.5 L667.2,664.1 L665.2,663.1 L662.5,664.1 L657.0,663.2Z" fill="#0a2a50" stroke="#0a2a50" stroke-width="1" stroke-linejoin="round" opacity="0.16"/>
<path d="M796.8,525.4 L803.0,527.3 L805.2,529.5 L807.8,529.6 L809.2,524.2 L806.8,523.1 L803.8,524.0 L797.4,522.8Z" fill="#0a2a50" stroke="#0a2a50" stroke-width="1" stroke-linejoin="round" opacity="0.16"/>
<path d="M1004.9,530.3 L1014.0,536.0 L1017.1,539.6 L1021.1,541.3 L1023.9,536.5 L1020.4,533.9 L1015.7,533.1 L1006.1,528.1Z" fill="#0a2a50" stroke="#0a2a50" stroke-width="1" stroke-linejoin="round" opacity="0.16"/>
<path d="M1116.7,592.5 L1109.5,588.1 L1107.2,585.0 L1104.0,583.8 L1101.4,588.8 L1104.1,590.8 L1107.9,591.1 L1115.5,594.7Z" fill="#0b6fbe" stroke="#0b6fbe" stroke-width="1.2" stroke-linejoin="round"/>
<path d="M1102.5,642.8 L1114.3,639.5 L1119.7,639.5 L1124.2,637.6 L1122.6,632.2 L1117.7,633.2 L1113.3,636.3 L1101.7,640.4Z" fill="#0b6fbe" stroke="#0b6fbe" stroke-width="1.2" stroke-linejoin="round"/>
<path d="M1070.7,565.8 L1062.9,559.4 L1060.6,555.7 L1057.1,553.7 L1053.7,558.1 L1056.6,560.9 L1060.9,562.2 L1069.1,567.8Z" fill="#0a1430" stroke="#0a1430" stroke-width="1" stroke-linejoin="round" opacity="0.38"/>
<path d="M1061.4,613.7 L1059.1,607.2 L1059.5,604.0 L1058.0,601.6 L1052.8,603.8 L1053.4,606.5 L1056.0,608.5 L1059.0,614.7Z" fill="#0a1430" stroke="#0a1430" stroke-width="1" stroke-linejoin="round" opacity="0.38"/>
<path d="M1041.3,664.1 L1051.1,660.8 L1055.7,660.8 L1059.4,658.8 L1057.4,653.6 L1053.4,654.6 L1049.9,657.6 L1040.3,661.7Z" fill="#0b6fbe" stroke="#0b6fbe" stroke-width="1.2" stroke-linejoin="round"/>
<line x1="612.1" y1="1045" x2="612.1" y2="510.8" stroke="#000" stroke-width="4.8" stroke-linecap="round"/>
<line x1="612.1" y1="510.8" x2="188.7" y2="268" stroke="#000" stroke-width="4.8" stroke-linecap="round"/>
<line x1="612.1" y1="510.8" x2="1163.1" y2="324.3" stroke="#000" stroke-width="4.8" stroke-linecap="round"/>
<line x1="612.1" y1="1045" x2="188.7" y2="802.2" stroke="#000" stroke-width="4.8" stroke-linecap="round"/>
<line x1="612.1" y1="1045" x2="1163.1" y2="858.5" stroke="#000" stroke-width="4.8" stroke-linecap="round"/>
<line x1="188.7" y1="802.2" x2="188.7" y2="268" stroke="#000" stroke-width="7" stroke-linecap="round"/>
<line x1="1163.1" y1="858.5" x2="1163.1" y2="324.3" stroke="#000" stroke-width="4.8" stroke-linecap="round"/>
<line x1="188.7" y1="268" x2="739.7" y2="81.5" stroke="#000" stroke-width="4.8" stroke-linecap="round"/>
<line x1="739.7" y1="81.5" x2="1163.1" y2="324.3" stroke="#000" stroke-width="4.8" stroke-linecap="round"/>
<line x1="188.7" y1="802.2" x2="173.95" y2="793.74" stroke="#262626" stroke-width="1.8"/>
<line x1="188.7" y1="695.36" x2="173.95" y2="686.9" stroke="#262626" stroke-width="1.8"/>
<line x1="188.7" y1="588.52" x2="173.95" y2="580.06" stroke="#262626" stroke-width="1.8"/>
<line x1="188.7" y1="481.68" x2="173.95" y2="473.22" stroke="#262626" stroke-width="1.8"/>
<line x1="188.7" y1="374.84" x2="173.95" y2="366.38" stroke="#262626" stroke-width="1.8"/>
<line x1="188.7" y1="268" x2="173.95" y2="259.54" stroke="#262626" stroke-width="1.8"/>
<line x1="612.1" y1="1045" x2="597.89" y2="1049.81" stroke="#262626" stroke-width="1.8"/>
<line x1="400.4" y1="923.6" x2="386.19" y2="928.41" stroke="#262626" stroke-width="1.8"/>
<line x1="188.7" y1="802.2" x2="174.49" y2="807.01" stroke="#262626" stroke-width="1.8"/>
<line x1="612.1" y1="1045" x2="626.85" y2="1053.46" stroke="#262626" stroke-width="1.8"/>
<line x1="887.6" y1="951.75" x2="902.35" y2="960.21" stroke="#262626" stroke-width="1.8"/>
<line x1="1163.1" y1="858.5" x2="1177.85" y2="866.96" stroke="#262626" stroke-width="1.8"/>
<text transform="translate(127.73,801.2) scale(1.0800,1)" font-family="Liberation Sans" font-size="44" fill="#262626" stroke="#262626" stroke-width="0.8">0</text>
<text transform="translate(128.26,694.36) scale(1.0800,1)" font-family="Liberation Sans" font-size="44" fill="#262626" stroke="#262626" stroke-width="0.8">2</text>
<text transform="translate(127.26,587.52) scale(1.0800,1)" font-family="Liberation Sans" font-size="44" fill="#262626" stroke="#262626" stroke-width="0.8">4</text>
<text transform="translate(127.96,480.68) scale(1.0800,1)" font-family="Liberation Sans" font-size="44" fill="#262626" stroke="#262626" stroke-width="0.8">6</text>
<text transform="translate(127.94,373.84) scale(1.0800,1)" font-family="Liberation Sans" font-size="44" fill="#262626" stroke="#262626" stroke-width="0.8">8</text>
<text transform="translate(97.5,267) scale(1.0800,1)" font-family="Liberation Sans" font-size="44" fill="#262626" stroke="#262626" stroke-width="0.8">10</text>
<text transform="translate(548.41,1101.1) scale(1.1000,1)" font-family="Liberation Sans" font-size="42" fill="#262626">0</text>
<text transform="translate(336.85,979.7) scale(1.1000,1)" font-family="Liberation Sans" font-size="42" fill="#262626">5</text>
<polygon points="112.02,858.30 116.50,858.30 116.50,828.23 113.64,828.23 112.02,830.08 109.71,832.18 107.17,833.81 104.35,835.12 104.35,838.69 106.48,837.93 109.25,836.54 110.96,835.41 112.02,834.53" fill="#262626"/><text transform="translate(125.01,858.3) scale(1.1000,1)" font-family="Liberation Sans" font-size="42" fill="#262626">0</text>
<text transform="translate(641.9,1106.5) scale(1.1000,1)" font-family="Liberation Sans" font-size="42" fill="#262626">0</text>
<text transform="translate(917.35,1013.25) scale(1.1000,1)" font-family="Liberation Sans" font-size="42" fill="#262626">5</text>
<polygon points="1202.37,920.00 1206.85,920.00 1206.85,889.93 1203.99,889.93 1202.37,891.78 1200.06,893.88 1197.52,895.51 1194.70,896.82 1194.70,900.39 1196.83,899.63 1199.60,898.24 1201.31,897.11 1202.37,896.23" fill="#262626"/><text transform="translate(1215.36,920) scale(1.1000,1)" font-family="Liberation Sans" font-size="42" fill="#262626">0</text>
<text x="882.23" y="1088.3" font-family="Liberation Serif" font-size="52" fill="#000" font-style="italic">x</text>
<text transform="translate(916.95,1088.3) scale(1.0716,1)" font-family="Liberation Serif" font-size="52" fill="#000">(mm)</text>
<text x="203.74" y="1038" font-family="Liberation Serif" font-size="52" fill="#000" font-style="italic">y</text>
<text transform="translate(235.88,1038) scale(1.0590,1)" font-family="Liberation Serif" font-size="52" fill="#000">(mm)</text>
<g transform="translate(64.6,593.4) rotate(-90)">
<text x="0.58" y="0" font-family="Liberation Serif" font-size="52" fill="#000" font-style="italic">z</text>
<text transform="translate(34.6,0) scale(1.0491,1)" font-family="Liberation Serif" font-size="52" fill="#000">(mm)</text>
</g>
<text transform="translate(507.97,57.8) scale(1.0418,1)" font-family="Liberation Serif" font-size="51" fill="#000">(a)</text>
<text x="597.96" y="57.8" font-family="Liberation Serif" font-size="51" fill="#000" font-style="italic">t</text>
<text x="610.66" y="57.8" font-family="Liberation Serif" font-size="51" fill="#000">=</text>
<text x="638.98" y="57.8" font-family="Liberation Serif" font-size="51" fill="#000">T</text>
<text x="669.9" y="57.8" font-family="Liberation Serif" font-size="51" fill="#000">/</text>
<text transform="translate(689.15,57.8) scale(0.8500,1)" font-family="Liberation Serif" font-size="51" fill="#000">4</text>
<rect x="1297.5" y="148" width="58" height="13.08" fill="#850000"/>
<rect x="1297.5" y="160.48" width="58" height="13.08" fill="#8e0000"/>
<rect x="1297.5" y="172.96" width="58" height="13.08" fill="#a50000"/>
<rect x="1297.5" y="185.43" width="58" height="13.08" fill="#bd0000"/>
<rect x="1297.5" y="197.91" width="58" height="13.08" fill="#d50000"/>
<rect x="1297.5" y="210.39" width="58" height="13.08" fill="#ef0000"/>
<rect x="1297.5" y="222.87" width="58" height="13.08" fill="#ff0000"/>
<rect x="1297.5" y="235.35" width="58" height="13.08" fill="#ff0000"/>
<rect x="1297.5" y="247.82" width="58" height="13.08" fill="#ff0000"/>
<rect x="1297.5" y="260.3" width="58" height="13.08" fill="#ff0000"/>
<rect x="1297.5" y="272.78" width="58" height="13.08" fill="#ff1500"/>
<rect x="1297.5" y="285.26" width="58" height="13.08" fill="#ff2800"/>
<rect x="1297.5" y="297.74" width="58" height="13.08" fill="#ff3900"/>
<rect x="1297.5" y="310.22" width="58" height="13.08" fill="#ff4c00"/>
<rect x="1297.5" y="322.69" width="58" height="13.08" fill="#ff5b00"/>
<rect x="1297.5" y="335.17" width="58" height="13.08" fill="#ff6900"/>
<rect x="1297.5" y="347.65" width="58" height="13.08" fill="#ff7700"/>
<rect x="1297.5" y="360.13" width="58" height="13.08" fill="#ff8500"/>
<rect x="1297.5" y="372.61" width="58" height="13.08" fill="#ff9300"/>
<rect x="1297.5" y="385.08" width="58" height="13.08" fill="#ffa300"/>
<rect x="1297.5" y="397.56" width="58" height="13.08" fill="#ffb300"/>
<rect x="1297.5" y="410.04" width="58" height="13.08" fill="#ffc300"/>
<rect x="1297.5" y="422.52" width="58" height="13.08" fill="#ffd800"/>
<rect x="1297.5" y="435" width="58" height="13.08" fill="#ffed00"/>
<rect x="1297.5" y="447.48" width="58" height="13.08" fill="#fcff00"/>
<rect x="1297.5" y="459.95" width="58" height="13.08" fill="#e2ff00"/>
<rect x="1297.5" y="472.43" width="58" height="13.08" fill="#c8ff00"/>
<rect x="1297.5" y="484.91" width="58" height="13.08" fill="#aeff02"/>
<rect x="1297.5" y="497.39" width="58" height="13.08" fill="#8eff22"/>
<rect x="1297.5" y="509.87" width="58" height="13.08" fill="#69ff3c"/>
<rect x="1297.5" y="522.34" width="58" height="13.08" fill="#3fff50"/>
<rect x="1297.5" y="534.82" width="58" height="13.08" fill="#15ff5f"/>
<rect x="1297.5" y="547.3" width="58" height="13.08" fill="#00ff6f"/>
<rect x="1297.5" y="559.78" width="58" height="13.08" fill="#00ff80"/>
<rect x="1297.5" y="572.26" width="58" height="13.08" fill="#00ff90"/>
<rect x="1297.5" y="584.73" width="58" height="13.08" fill="#00ffa1"/>
<rect x="1297.5" y="597.21" width="58" height="13.08" fill="#00ffb2"/>
<rect x="1297.5" y="609.69" width="58" height="13.08" fill="#00ffc2"/>
<rect x="1297.5" y="622.17" width="58" height="13.08" fill="#00ffd6"/>
<rect x="1297.5" y="634.65" width="58" height="13.08" fill="#00ffee"/>
<rect x="1297.5" y="647.12" width="58" height="13.08" fill="#00faff"/>
<rect x="1297.5" y="659.6" width="58" height="13.08" fill="#00e9ff"/>
<rect x="1297.5" y="672.08" width="58" height="13.08" fill="#00d9ff"/>
<rect x="1297.5" y="684.56" width="58" height="13.08" fill="#00caff"/>
<rect x="1297.5" y="697.04" width="58" height="13.08" fill="#00bbff"/>
<rect x="1297.5" y="709.52" width="58" height="13.08" fill="#00abff"/>
<rect x="1297.5" y="721.99" width="58" height="13.08" fill="#009cff"/>
<rect x="1297.5" y="734.47" width="58" height="13.08" fill="#008cff"/>
<rect x="1297.5" y="746.95" width="58" height="13.08" fill="#007cff"/>
<rect x="1297.5" y="759.43" width="58" height="13.08" fill="#006cff"/>
<rect x="1297.5" y="771.91" width="58" height="13.08" fill="#005dff"/>
<rect x="1297.5" y="784.38" width="58" height="13.08" fill="#004dff"/>
<rect x="1297.5" y="796.86" width="58" height="13.08" fill="#003dff"/>
<rect x="1297.5" y="809.34" width="58" height="13.08" fill="#002cff"/>
<rect x="1297.5" y="821.82" width="58" height="13.08" fill="#0017ff"/>
<rect x="1297.5" y="834.3" width="58" height="13.08" fill="#0005ff"/>
<rect x="1297.5" y="846.77" width="58" height="13.08" fill="#0000f4"/>
<rect x="1297.5" y="859.25" width="58" height="13.08" fill="#0000e6"/>
<rect x="1297.5" y="871.73" width="58" height="13.08" fill="#0000d7"/>
<rect x="1297.5" y="884.21" width="58" height="13.08" fill="#0000c8"/>
<rect x="1297.5" y="896.69" width="58" height="13.08" fill="#0000b9"/>
<rect x="1297.5" y="909.17" width="58" height="13.08" fill="#0000a9"/>
<rect x="1297.5" y="921.64" width="58" height="13.08" fill="#00009a"/>
<rect x="1297.5" y="934.12" width="58" height="13.08" fill="#000089"/>
<rect x="1297.5" y="148" width="58" height="798.6" fill="none" stroke="#262626" stroke-width="2.4"/>
<line x1="1344.5" y1="166.3" x2="1355.5" y2="166.3" stroke="#262626" stroke-width="1.8"/>
<polygon points="1385.40,182.10 1389.54,182.10 1389.54,155.25 1386.89,155.25 1385.40,156.90 1383.26,158.78 1380.91,160.24 1378.30,161.40 1378.30,164.59 1380.27,163.91 1382.83,162.68 1384.41,161.66 1385.40,160.88" fill="#262626"/>
<line x1="1344.5" y1="357.2" x2="1355.5" y2="357.2" stroke="#262626" stroke-width="1.8"/>
<text transform="translate(1373.33,373) scale(1.1400,1)" font-family="Liberation Sans" font-size="37.5" fill="#262626">0</text><text transform="translate(1397.11,373) scale(1.1400,1)" font-family="Liberation Sans" font-size="37.5" fill="#262626">.</text><text transform="translate(1408.98,373) scale(1.1400,1)" font-family="Liberation Sans" font-size="37.5" fill="#262626">5</text>
<line x1="1344.5" y1="548" x2="1355.5" y2="548" stroke="#262626" stroke-width="1.8"/>
<text transform="translate(1373.73,563.8) scale(1.1400,1)" font-family="Liberation Sans" font-size="37.5" fill="#262626">0</text>
<line x1="1344.5" y1="738.8" x2="1355.5" y2="738.8" stroke="#262626" stroke-width="1.8"/>
<text transform="translate(1393.83,754.6) scale(1.1400,1)" font-family="Liberation Sans" font-size="37.5" fill="#262626">0</text><text transform="translate(1417.61,754.6) scale(1.1400,1)" font-family="Liberation Sans" font-size="37.5" fill="#262626">.</text><text transform="translate(1429.48,754.6) scale(1.1400,1)" font-family="Liberation Sans" font-size="37.5" fill="#262626">5</text>
<line x1="1344.5" y1="929.6" x2="1355.5" y2="929.6" stroke="#262626" stroke-width="1.8"/>
<polygon points="1409.30,945.40 1413.44,945.40 1413.44,918.55 1410.79,918.55 1409.30,920.20 1407.16,922.07 1404.81,923.54 1402.20,924.70 1402.20,927.89 1404.17,927.21 1406.73,925.98 1408.31,924.96 1409.30,924.17" fill="#262626"/>
<rect x="1367.4" y="740.6" width="19.5" height="2.8" fill="#262626"/>
<rect x="1376.4" y="937.2" width="20.1" height="2.8" fill="#262626"/>
<line x1="180.6" y1="1823.08" x2="745.4" y2="1641.48" stroke="#dedede" stroke-width="1.5"/>
<line x1="745.4" y1="1641.48" x2="1179.5" y2="1877.18" stroke="#dedede" stroke-width="1.5"/>
<line x1="180.6" y1="1719.86" x2="745.4" y2="1538.26" stroke="#dedede" stroke-width="1.5"/>
<line x1="745.4" y1="1538.26" x2="1179.5" y2="1773.96" stroke="#dedede" stroke-width="1.5"/>
<line x1="180.6" y1="1616.64" x2="745.4" y2="1435.04" stroke="#dedede" stroke-width="1.5"/>
<line x1="745.4" y1="1435.04" x2="1179.5" y2="1670.74" stroke="#dedede" stroke-width="1.5"/>
<line x1="180.6" y1="1513.42" x2="745.4" y2="1331.82" stroke="#dedede" stroke-width="1.5"/>
<line x1="745.4" y1="1331.82" x2="1179.5" y2="1567.52" stroke="#dedede" stroke-width="1.5"/>
<line x1="463" y1="1835.5" x2="463" y2="1319.4" stroke="#dedede" stroke-width="1.5"/>
<line x1="962.45" y1="1862.55" x2="962.45" y2="1346.45" stroke="#dedede" stroke-width="1.5"/>
<line x1="897.1" y1="2071.2" x2="463" y2="1835.5" stroke="#dedede" stroke-width="1.5"/>
<line x1="397.65" y1="2044.15" x2="962.45" y2="1862.55" stroke="#dedede" stroke-width="1.5"/>
<line x1="745.4" y1="1744.7" x2="745.4" y2="1228.6" stroke="#000" stroke-width="4.8" stroke-linecap="round"/>
<line x1="180.6" y1="1926.3" x2="745.4" y2="1744.7" stroke="#000" stroke-width="4.8" stroke-linecap="round"/>
<line x1="745.4" y1="1744.7" x2="1179.5" y2="1980.4" stroke="#000" stroke-width="4.8" stroke-linecap="round"/>
<g opacity="0.88" transform="matrix(1,0.54296,0,1,651.93,1258.65)">
<rect x="0" y="464.49" width="434.1" height="51.61" fill="url(#g104)"/>
<rect x="0" y="412.88" width="434.1" height="103.22" fill="url(#g103)" mask="url(#m105)"/>
<rect x="0" y="361.27" width="434.1" height="103.22" fill="url(#g102)" mask="url(#m107)"/>
<rect x="0" y="309.66" width="434.1" height="103.22" fill="url(#g101)" mask="url(#m109)"/>
<rect x="0" y="258.05" width="434.1" height="103.22" fill="url(#g100)" mask="url(#m111)"/>
<rect x="0" y="206.44" width="434.1" height="103.22" fill="url(#g99)" mask="url(#m113)"/>
<rect x="0" y="154.83" width="434.1" height="103.22" fill="url(#g98)" mask="url(#m115)"/>
<rect x="0" y="103.22" width="434.1" height="103.22" fill="url(#g97)" mask="url(#m117)"/>
<rect x="0" y="51.61" width="434.1" height="103.22" fill="url(#g96)" mask="url(#m119)"/>
<rect x="0" y="0" width="434.1" height="103.22" fill="url(#g95)" mask="url(#m121)"/>
<rect x="0" y="0" width="434.1" height="51.61" fill="url(#g94)" mask="url(#m123)"/>
</g>
<g opacity="0.88" transform="matrix(1,0.54296,0,1,464.13,1319.04)">
<rect x="0" y="464.49" width="434.1" height="51.61" fill="url(#g135)"/>
<rect x="0" y="412.88" width="434.1" height="103.22" fill="url(#g134)" mask="url(#m136)"/>
<rect x="0" y="361.27" width="434.1" height="103.22" fill="url(#g133)" mask="url(#m138)"/>
<rect x="0" y="309.66" width="434.1" height="103.22" fill="url(#g132)" mask="url(#m140)"/>
<rect x="0" y="258.05" width="434.1" height="103.22" fill="url(#g131)" mask="url(#m142)"/>
<rect x="0" y="206.44" width="434.1" height="103.22" fill="url(#g130)" mask="url(#m144)"/>
<rect x="0" y="154.83" width="434.1" height="103.22" fill="url(#g129)" mask="url(#m146)"/>
<rect x="0" y="103.22" width="434.1" height="103.22" fill="url(#g128)" mask="url(#m148)"/>
<rect x="0" y="51.61" width="434.1" height="103.22" fill="url(#g127)" mask="url(#m150)"/>
<rect x="0" y="0" width="434.1" height="103.22" fill="url(#g126)" mask="url(#m152)"/>
<rect x="0" y="0" width="434.1" height="51.61" fill="url(#g125)" mask="url(#m154)"/>
</g>
<g opacity="0.88" transform="matrix(1,0.54296,0,1,275.2,1379.78)">
<rect x="0" y="464.49" width="434.1" height="51.61" fill="url(#g166)"/>
<rect x="0" y="412.88" width="434.1" height="103.22" fill="url(#g165)" mask="url(#m167)"/>
<rect x="0" y="361.27" width="434.1" height="103.22" fill="url(#g164)" mask="url(#m169)"/>
<rect x="0" y="309.66" width="434.1" height="103.22" fill="url(#g163)" mask="url(#m171)"/>
<rect x="0" y="258.05" width="434.1" height="103.22" fill="url(#g162)" mask="url(#m173)"/>
<rect x="0" y="206.44" width="434.1" height="103.22" fill="url(#g161)" mask="url(#m175)"/>
<rect x="0" y="154.83" width="434.1" height="103.22" fill="url(#g160)" mask="url(#m177)"/>
<rect x="0" y="103.22" width="434.1" height="103.22" fill="url(#g159)" mask="url(#m179)"/>
<rect x="0" y="51.61" width="434.1" height="103.22" fill="url(#g158)" mask="url(#m181)"/>
<rect x="0" y="0" width="434.1" height="103.22" fill="url(#g157)" mask="url(#m183)"/>
<rect x="0" y="0" width="434.1" height="51.61" fill="url(#g156)" mask="url(#m185)"/>
</g>
<path d="M243.6,1675.8 L231.8,1678.9 L226.4,1678.9 L221.9,1680.8 L223.5,1686.2 L228.3,1685.2 L232.8,1682.2 L244.4,1678.2Z" fill="#0b6fbe" stroke="#0b6fbe" stroke-width="1.2" stroke-linejoin="round"/>
<path d="M291.0,1703.5 L289.0,1708.9 L286.8,1710.7 L286.6,1713.0 L292.0,1714.6 L293.1,1712.5 L292.2,1709.8 L293.4,1704.3Z" fill="#0a1430" stroke="#0a1430" stroke-width="1" stroke-linejoin="round" opacity="0.38"/>
<path d="M229.1,1724.8 L237.5,1730.2 L240.3,1733.6 L244.0,1735.2 L246.8,1730.4 L243.6,1727.9 L239.2,1727.2 L230.5,1722.6Z" fill="#0b6fbe" stroke="#0b6fbe" stroke-width="1.2" stroke-linejoin="round"/>
<path d="M288.2,1662.6 L298.5,1660.6 L303.1,1661.2 L307.0,1659.8 L305.8,1654.4 L301.6,1654.8 L297.7,1657.3 L287.6,1660.0Z" fill="#0a1430" stroke="#0a1430" stroke-width="1" stroke-linejoin="round" opacity="0.38"/>
<path d="M339.8,1731.2 L348.2,1735.9 L351.1,1739.1 L354.7,1740.4 L357.3,1735.4 L354.1,1733.2 L349.7,1732.8 L341.0,1728.8Z" fill="#0b6fbe" stroke="#0b6fbe" stroke-width="1.2" stroke-linejoin="round"/>
<path d="M276.5,1750.5 L284.1,1754.7 L286.7,1757.8 L290.0,1758.9 L292.6,1753.9 L289.7,1751.9 L285.7,1751.7 L277.7,1748.1Z" fill="#0a1430" stroke="#0a1430" stroke-width="1" stroke-linejoin="round" opacity="0.38"/>
<path d="M386.9,1756.5 L394.2,1762.5 L396.4,1766.1 L399.7,1767.9 L403.1,1763.5 L400.4,1760.8 L396.3,1759.7 L388.5,1754.5Z" fill="#0b6fbe" stroke="#0b6fbe" stroke-width="1.2" stroke-linejoin="round"/>
<path d="M325.6,1777.3 L334.0,1782.4 L336.8,1785.7 L340.5,1787.2 L343.1,1782.2 L339.9,1779.9 L335.6,1779.4 L326.8,1775.1Z" fill="#0a1430" stroke="#0a1430" stroke-width="1" stroke-linejoin="round" opacity="0.38"/>
<path d="M436.2,1783.0 L444.9,1788.5 L447.8,1792.0 L451.6,1793.6 L454.4,1788.8 L451.1,1786.3 L446.6,1785.5 L437.4,1780.8Z" fill="#0b6fbe" stroke="#0b6fbe" stroke-width="1.2" stroke-linejoin="round"/>
<path d="M373.0,1802.8 L382.1,1808.4 L385.3,1811.9 L389.2,1813.6 L392.0,1808.6 L388.5,1806.1 L383.8,1805.4 L374.2,1800.6Z" fill="#0b6fbe" stroke="#0b6fbe" stroke-width="1.2" stroke-linejoin="round"/>
<path d="M484.4,1809.4 L492.7,1814.7 L495.5,1818.2 L499.2,1819.7 L502.0,1814.9 L498.8,1812.5 L494.4,1811.8 L485.6,1807.2Z" fill="#0b6fbe" stroke="#0b6fbe" stroke-width="1.2" stroke-linejoin="round"/>
<path d="M421.2,1829.2 L430.0,1834.6 L433.0,1838.1 L436.8,1839.6 L439.6,1834.8 L436.2,1832.3 L431.6,1831.6 L422.4,1827.0Z" fill="#0b6fbe" stroke="#0b6fbe" stroke-width="1.2" stroke-linejoin="round"/>
<path d="M532.8,1835.5 L544.7,1839.8 L549.3,1843.0 L554.2,1844.1 L556.0,1838.7 L551.3,1836.7 L545.8,1836.6 L533.6,1833.1Z" fill="#0b6fbe" stroke="#0b6fbe" stroke-width="1.2" stroke-linejoin="round"/>
<path d="M469.4,1854.7 L479.0,1860.4 L482.4,1864.1 L486.6,1865.8 L489.2,1860.8 L485.5,1858.3 L480.7,1857.4 L470.6,1852.5Z" fill="#0b6fbe" stroke="#0b6fbe" stroke-width="1.2" stroke-linejoin="round"/>
<path d="M580.9,1861.6 L590.8,1867.1 L594.4,1870.7 L598.6,1872.3 L601.2,1867.3 L597.4,1864.8 L592.4,1864.1 L582.1,1859.2Z" fill="#0b6fbe" stroke="#0b6fbe" stroke-width="1.2" stroke-linejoin="round"/>
<path d="M517.5,1881.4 L524.8,1886.1 L527.2,1889.3 L530.4,1890.6 L533.2,1885.8 L530.5,1883.6 L526.5,1883.2 L518.9,1879.2Z" fill="#0b6fbe" stroke="#0b6fbe" stroke-width="1.2" stroke-linejoin="round"/>
<path d="M565.7,1907.8 L574.9,1913.9 L577.9,1917.7 L581.9,1919.6 L584.9,1914.8 L581.4,1912.1 L576.6,1911.0 L567.1,1905.6Z" fill="#0b6fbe" stroke="#0b6fbe" stroke-width="1.2" stroke-linejoin="round"/>
<path d="M399.0,1672.5 L409.4,1668.2 L414.3,1667.7 L418.2,1665.3 L415.8,1660.3 L411.6,1661.7 L408.0,1665.1 L398.0,1670.1Z" fill="#0a2a50" stroke="#0a2a50" stroke-width="1" stroke-linejoin="round" opacity="0.16"/>
<path d="M335.1,1690.9 L346.2,1687.4 L351.3,1687.3 L355.5,1685.2 L353.7,1680.0 L349.1,1681.1 L345.1,1684.2 L334.3,1688.5Z" fill="#0a2a50" stroke="#0a2a50" stroke-width="1" stroke-linejoin="round" opacity="0.16"/>
<path d="M572.1,1696.6 L575.4,1695.3 L577.4,1696.1 L578.4,1695.0 L575.8,1690.0 L574.4,1690.2 L573.8,1692.3 L570.9,1694.2Z" fill="#0a2a50" stroke="#0a2a50" stroke-width="1" stroke-linejoin="round" opacity="0.16"/>
<path d="M561.3,1742.2 L562.8,1744.5 L566.2,1740.5 L563.7,1739.4Z" fill="#0a2a50" stroke="#0a2a50" stroke-width="1" stroke-linejoin="round" opacity="0.16"/>
<path d="M448.5,1739.4 L450.0,1741.6 L453.2,1737.4 L450.7,1736.6Z" fill="#0a2a50" stroke="#0a2a50" stroke-width="1" stroke-linejoin="round" opacity="0.16"/>
<path d="M548.4,1790.7 L553.9,1792.9 L555.1,1787.9 L549.2,1787.3Z" fill="#0a2a50" stroke="#0a2a50" stroke-width="1" stroke-linejoin="round" opacity="0.16"/>
<path d="M593.8,1815.2 L596.8,1816.7 L597.6,1818.7 L599.0,1818.6 L600.8,1813.4 L599.7,1812.4 L597.9,1813.5 L594.6,1812.8Z" fill="#0a2a50" stroke="#0a2a50" stroke-width="1" stroke-linejoin="round" opacity="0.16"/>
<path d="M399.7,1711.8 L401.2,1714.3 L404.8,1710.7 L402.3,1709.2Z" fill="#0a2a50" stroke="#0a2a50" stroke-width="1" stroke-linejoin="round" opacity="0.16"/>
<path d="M628.2,1887.9 L643.7,1890.6 L650.0,1893.1 L656.3,1893.6 L657.1,1888.0 L651.0,1886.6 L644.2,1887.2 L628.6,1885.3Z" fill="#0b6fbe" stroke="#0b6fbe" stroke-width="1.2" stroke-linejoin="round"/>
<path d="M677.4,1914.0 L689.7,1911.2 L695.2,1911.5 L700.0,1909.7 L698.6,1904.3 L693.6,1905.1 L688.9,1907.9 L676.8,1911.4Z" fill="#0b6fbe" stroke="#0b6fbe" stroke-width="1.2" stroke-linejoin="round"/>
<path d="M692.5,1867.5 L705.8,1865.1 L711.7,1865.5 L716.9,1863.8 L715.7,1858.4 L710.3,1859.0 L705.1,1861.7 L691.9,1864.9Z" fill="#0a1430" stroke="#0a1430" stroke-width="1" stroke-linejoin="round" opacity="0.38"/>
<path d="M701.6,1822.1 L709.4,1822.1 L712.8,1823.5 L715.9,1822.8 L715.5,1817.2 L712.4,1816.9 L709.2,1818.7 L701.4,1819.5Z" fill="#0a1430" stroke="#0a1430" stroke-width="1" stroke-linejoin="round" opacity="0.38"/>
<path d="M740.9,1893.5 L751.1,1890.0 L755.9,1889.8 L759.8,1887.8 L757.8,1882.6 L753.6,1883.7 L749.9,1886.8 L739.9,1891.1Z" fill="#0b6fbe" stroke="#0b6fbe" stroke-width="1.2" stroke-linejoin="round"/>
<path d="M754.9,1847.6 L768.3,1844.4 L774.3,1844.4 L779.4,1842.5 L778.0,1837.1 L772.5,1838.0 L767.4,1841.1 L754.3,1845.0Z" fill="#0b6fbe" stroke="#0b6fbe" stroke-width="1.2" stroke-linejoin="round"/>
<path d="M767.6,1802.8 L774.7,1801.6 L778.0,1802.5 L780.7,1801.4 L779.5,1796.0 L776.6,1796.1 L774.0,1798.3 L767.0,1800.2Z" fill="#0b6fbe" stroke="#0b6fbe" stroke-width="1.2" stroke-linejoin="round"/>
<path d="M719.5,1773.2 L723.3,1776.8 L726.3,1772.4 L721.5,1770.2Z" fill="#0b6fbe" stroke="#0b6fbe" stroke-width="1.2" stroke-linejoin="round"/>
<path d="M803.1,1873.7 L815.7,1870.6 L821.4,1870.7 L826.2,1868.9 L824.8,1863.5 L819.6,1864.4 L814.8,1867.4 L802.5,1871.1Z" fill="#0b6fbe" stroke="#0b6fbe" stroke-width="1.2" stroke-linejoin="round"/>
<path d="M818.2,1827.7 L830.3,1824.0 L835.9,1823.9 L840.5,1821.8 L838.7,1816.4 L833.7,1817.6 L829.2,1820.8 L817.4,1825.3Z" fill="#0b6fbe" stroke="#0b6fbe" stroke-width="1.2" stroke-linejoin="round"/>
<path d="M881.2,1807.0 L893.0,1803.8 L898.3,1803.8 L902.8,1801.9 L901.2,1796.5 L896.4,1797.5 L892.0,1800.5 L880.4,1804.6Z" fill="#0a1430" stroke="#0a1430" stroke-width="1" stroke-linejoin="round" opacity="0.38"/>
<path d="M867.0,1854.3 L878.8,1851.0 L884.2,1850.9 L888.8,1849.0 L887.0,1843.6 L882.2,1844.7 L877.8,1847.7 L866.2,1851.9Z" fill="#0b6fbe" stroke="#0b6fbe" stroke-width="1.2" stroke-linejoin="round"/>
<path d="M895.6,1762.9 L901.7,1760.2 L904.9,1760.3 L907.0,1758.6 L904.4,1753.6 L901.8,1754.4 L900.1,1757.2 L894.4,1760.7Z" fill="#0b6fbe" stroke="#0b6fbe" stroke-width="1.2" stroke-linejoin="round"/>
<path d="M899.9,1709.6 L905.1,1713.5 L906.5,1716.3 L909.0,1717.3 L912.0,1712.7 L910.1,1710.8 L907.0,1710.7 L901.3,1707.4Z" fill="#0b6fbe" stroke="#0b6fbe" stroke-width="1.2" stroke-linejoin="round"/>
<path d="M928.8,1833.9 L941.0,1830.4 L946.5,1830.3 L951.2,1828.3 L949.4,1822.9 L944.5,1824.0 L939.9,1827.2 L928.0,1831.5Z" fill="#0b6fbe" stroke="#0b6fbe" stroke-width="1.2" stroke-linejoin="round"/>
<path d="M943.7,1787.1 L954.0,1782.8 L958.9,1782.3 L962.8,1779.9 L960.4,1774.9 L956.2,1776.3 L952.6,1779.7 L942.7,1784.7Z" fill="#0b6fbe" stroke="#0b6fbe" stroke-width="1.2" stroke-linejoin="round"/>
<path d="M959.1,1739.6 L961.0,1735.8 L963.2,1734.8 L963.3,1733.0 L958.1,1731.0 L957.0,1732.4 L957.9,1734.6 L956.7,1738.6Z" fill="#0b6fbe" stroke="#0b6fbe" stroke-width="1.2" stroke-linejoin="round"/>
<path d="M991.8,1814.1 L1003.6,1810.6 L1009.0,1810.5 L1013.5,1808.5 L1011.7,1803.1 L1006.9,1804.2 L1002.5,1807.4 L991.0,1811.7Z" fill="#0b6fbe" stroke="#0b6fbe" stroke-width="1.2" stroke-linejoin="round"/>
<path d="M1006.5,1768.2 L1019.0,1764.3 L1024.7,1764.0 L1029.5,1761.7 L1027.7,1756.5 L1022.6,1757.7 L1017.9,1761.1 L1005.7,1765.8Z" fill="#0b6fbe" stroke="#0b6fbe" stroke-width="1.2" stroke-linejoin="round"/>
<path d="M856.1,1685.8 L860.5,1688.8 L861.7,1691.3 L863.8,1691.9 L866.6,1687.1 L865.0,1685.6 L862.2,1685.9 L857.3,1683.6Z" fill="#0a1430" stroke="#0a1430" stroke-width="1" stroke-linejoin="round" opacity="0.38"/>
<path d="M907.2,1660.9 L915.6,1664.7 L918.6,1667.7 L922.3,1668.6 L924.3,1663.4 L921.1,1661.6 L916.9,1661.6 L908.2,1658.5Z" fill="#0a2a50" stroke="#0a2a50" stroke-width="1" stroke-linejoin="round" opacity="0.16"/>
<path d="M959.5,1684.9 L965.5,1689.1 L967.3,1692.1 L970.0,1693.3 L973.0,1688.5 L970.8,1686.5 L967.3,1686.3 L960.9,1682.7Z" fill="#0a2a50" stroke="#0a2a50" stroke-width="1" stroke-linejoin="round" opacity="0.16"/>
<path d="M970.9,1639.6 L978.5,1643.8 L981.1,1646.9 L984.4,1648.0 L987.0,1643.0 L984.1,1641.0 L980.1,1640.8 L972.1,1637.2Z" fill="#0a2a50" stroke="#0a2a50" stroke-width="1" stroke-linejoin="round" opacity="0.16"/>
<path d="M1002.2,1712.0 L1011.6,1716.3 L1014.9,1719.4 L1018.9,1720.5 L1021.1,1715.3 L1017.4,1713.3 L1012.9,1713.1 L1003.2,1709.6Z" fill="#0a2a50" stroke="#0a2a50" stroke-width="1" stroke-linejoin="round" opacity="0.16"/>
<path d="M827.3,1783.0 L835.1,1781.8 L838.7,1782.7 L841.7,1781.5 L840.5,1776.1 L837.3,1776.2 L834.4,1778.4 L826.7,1780.4Z" fill="#0a2a50" stroke="#0a2a50" stroke-width="1" stroke-linejoin="round" opacity="0.16"/>
<path d="M656.6,1795.7 L662.0,1796.6 L664.1,1798.4 L666.3,1798.1 L666.9,1792.5 L664.7,1791.8 L662.3,1793.2 L656.8,1793.1Z" fill="#0a2a50" stroke="#0a2a50" stroke-width="1" stroke-linejoin="round" opacity="0.16"/>
<path d="M643.8,1842.5 L650.0,1843.7 L652.4,1845.6 L655.0,1845.4 L655.6,1839.8 L653.2,1839.0 L650.4,1840.3 L644.2,1839.9Z" fill="#0a2a50" stroke="#0a2a50" stroke-width="1" stroke-linejoin="round" opacity="0.16"/>
<path d="M760.0,1634.1 L765.4,1635.3 L767.5,1637.2 L769.7,1637.0 L770.5,1631.4 L768.4,1630.6 L765.9,1631.9 L760.4,1631.5Z" fill="#0a2a50" stroke="#0a2a50" stroke-width="1" stroke-linejoin="round" opacity="0.16"/>
<path d="M805.2,1659.6 L810.6,1661.5 L812.4,1663.7 L814.7,1663.8 L816.3,1658.4 L814.2,1657.3 L811.5,1658.2 L806.0,1657.0Z" fill="#0a2a50" stroke="#0a2a50" stroke-width="1" stroke-linejoin="round" opacity="0.16"/>
<path d="M1131.9,1725.2 L1123.8,1720.1 L1121.1,1716.8 L1117.5,1715.4 L1114.7,1720.2 L1117.8,1722.6 L1122.1,1723.1 L1130.7,1727.4Z" fill="#0b6fbe" stroke="#0b6fbe" stroke-width="1.2" stroke-linejoin="round"/>
<path d="M1117.7,1773.7 L1129.2,1770.4 L1134.5,1770.4 L1138.9,1768.5 L1137.1,1763.1 L1132.4,1764.1 L1128.2,1767.2 L1116.9,1771.3Z" fill="#0b6fbe" stroke="#0b6fbe" stroke-width="1.2" stroke-linejoin="round"/>
<path d="M1054.5,1793.8 L1064.0,1791.5 L1068.3,1791.9 L1072.0,1790.4 L1070.4,1785.0 L1066.5,1785.6 L1063.0,1788.2 L1053.7,1791.2Z" fill="#0b6fbe" stroke="#0b6fbe" stroke-width="1.2" stroke-linejoin="round"/>
<path d="M1069.9,1746.2 L1072.6,1740.7 L1075.1,1738.9 L1075.6,1736.5 L1070.4,1734.3 L1069.0,1736.4 L1069.5,1739.4 L1067.5,1745.2Z" fill="#0a1430" stroke="#0a1430" stroke-width="1" stroke-linejoin="round" opacity="0.38"/>
<path d="M1084.1,1698.5 L1077.6,1693.5 L1075.8,1690.2 L1072.8,1688.7 L1069.6,1693.3 L1072.0,1695.6 L1075.7,1696.3 L1082.5,1700.7Z" fill="#0a1430" stroke="#0a1430" stroke-width="1" stroke-linejoin="round" opacity="0.38"/>
<path d="M1035.3,1671.7 L1026.8,1666.6 L1023.9,1663.3 L1020.2,1661.8 L1017.6,1666.8 L1020.8,1669.1 L1025.2,1669.6 L1034.1,1673.9Z" fill="#0a2a50" stroke="#0a2a50" stroke-width="1" stroke-linejoin="round" opacity="0.16"/>
<path d="M1020.7,1717.9 L1012.2,1712.8 L1009.3,1709.5 L1005.6,1708.0 L1003.0,1713.0 L1006.2,1715.3 L1010.6,1715.8 L1019.5,1720.1Z" fill="#0a2a50" stroke="#0a2a50" stroke-width="1" stroke-linejoin="round" opacity="0.16"/>
<line x1="614.7" y1="2162" x2="614.7" y2="1645.9" stroke="#000" stroke-width="4.8" stroke-linecap="round"/>
<line x1="614.7" y1="1645.9" x2="180.6" y2="1410.2" stroke="#000" stroke-width="4.8" stroke-linecap="round"/>
<line x1="614.7" y1="1645.9" x2="1179.5" y2="1464.3" stroke="#000" stroke-width="4.8" stroke-linecap="round"/>
<line x1="614.7" y1="2162" x2="180.6" y2="1926.3" stroke="#000" stroke-width="4.8" stroke-linecap="round"/>
<line x1="614.7" y1="2162" x2="1179.5" y2="1980.4" stroke="#000" stroke-width="4.8" stroke-linecap="round"/>
<line x1="180.6" y1="1926.3" x2="180.6" y2="1410.2" stroke="#000" stroke-width="7" stroke-linecap="round"/>
<line x1="1179.5" y1="1980.4" x2="1179.5" y2="1464.3" stroke="#000" stroke-width="4.8" stroke-linecap="round"/>
<line x1="180.6" y1="1410.2" x2="745.4" y2="1228.6" stroke="#000" stroke-width="4.8" stroke-linecap="round"/>
<line x1="745.4" y1="1228.6" x2="1179.5" y2="1464.3" stroke="#000" stroke-width="4.8" stroke-linecap="round"/>
<line x1="180.6" y1="1926.3" x2="165.66" y2="1918.19" stroke="#262626" stroke-width="1.8"/>
<line x1="180.6" y1="1823.08" x2="165.66" y2="1814.97" stroke="#262626" stroke-width="1.8"/>
<line x1="180.6" y1="1719.86" x2="165.66" y2="1711.75" stroke="#262626" stroke-width="1.8"/>
<line x1="180.6" y1="1616.64" x2="165.66" y2="1608.53" stroke="#262626" stroke-width="1.8"/>
<line x1="180.6" y1="1513.42" x2="165.66" y2="1505.31" stroke="#262626" stroke-width="1.8"/>
<line x1="180.6" y1="1410.2" x2="165.66" y2="1402.09" stroke="#262626" stroke-width="1.8"/>
<line x1="614.7" y1="2162" x2="600.42" y2="2166.59" stroke="#262626" stroke-width="1.8"/>
<line x1="397.65" y1="2044.15" x2="383.37" y2="2048.74" stroke="#262626" stroke-width="1.8"/>
<line x1="180.6" y1="1926.3" x2="166.32" y2="1930.89" stroke="#262626" stroke-width="1.8"/>
<line x1="614.7" y1="2162" x2="629.64" y2="2170.11" stroke="#262626" stroke-width="1.8"/>
<line x1="897.1" y1="2071.2" x2="912.04" y2="2079.31" stroke="#262626" stroke-width="1.8"/>
<line x1="1179.5" y1="1980.4" x2="1194.44" y2="1988.51" stroke="#262626" stroke-width="1.8"/>
<text transform="translate(119.79,1926.3) scale(1.0800,1)" font-family="Liberation Sans" font-size="43" fill="#262626" stroke="#262626" stroke-width="0.8">0</text>
<text transform="translate(120.31,1823.08) scale(1.0800,1)" font-family="Liberation Sans" font-size="43" fill="#262626" stroke="#262626" stroke-width="0.8">2</text>
<text transform="translate(119.33,1719.86) scale(1.0800,1)" font-family="Liberation Sans" font-size="43" fill="#262626" stroke="#262626" stroke-width="0.8">4</text>
<text transform="translate(120.01,1616.64) scale(1.0800,1)" font-family="Liberation Sans" font-size="43" fill="#262626" stroke="#262626" stroke-width="0.8">6</text>
<text transform="translate(119.99,1513.42) scale(1.0800,1)" font-family="Liberation Sans" font-size="43" fill="#262626" stroke="#262626" stroke-width="0.8">8</text>
<text transform="translate(92.56,1410.2) scale(1.0800,1)" font-family="Liberation Sans" font-size="43" fill="#262626" stroke="#262626" stroke-width="0.8">10</text>
<text transform="translate(552.11,2213.8) scale(1.1700,1)" font-family="Liberation Sans" font-size="39" fill="#262626">0</text>
<text transform="translate(335.19,2095.95) scale(1.1700,1)" font-family="Liberation Sans" font-size="39" fill="#262626">5</text>
<polygon points="105.18,1978.10 109.60,1978.10 109.60,1950.18 106.77,1950.18 105.18,1951.89 102.89,1953.84 100.39,1955.36 97.60,1956.57 97.60,1959.89 99.70,1959.18 102.44,1957.90 104.13,1956.84 105.18,1956.03" fill="#262626"/><text transform="translate(118.01,1978.1) scale(1.1700,1)" font-family="Liberation Sans" font-size="39" fill="#262626">0</text>
<text transform="translate(644.32,2219.5) scale(1.1700,1)" font-family="Liberation Sans" font-size="39" fill="#262626">0</text>
<text transform="translate(926.67,2128.7) scale(1.1700,1)" font-family="Liberation Sans" font-size="39" fill="#262626">5</text>
<polygon points="1218.47,2037.90 1222.90,2037.90 1222.90,2009.98 1220.07,2009.98 1218.47,2011.69 1216.19,2013.64 1213.68,2015.16 1210.90,2016.37 1210.90,2019.69 1213.00,2018.99 1215.74,2017.70 1217.43,2016.64 1218.47,2015.83" fill="#262626"/><text transform="translate(1231.3,2037.9) scale(1.1700,1)" font-family="Liberation Sans" font-size="39" fill="#262626">0</text>
<text x="889.83" y="2194" font-family="Liberation Serif" font-size="52" fill="#000" font-style="italic">x</text>
<text transform="translate(923.85,2194) scale(1.0292,1)" font-family="Liberation Serif" font-size="52" fill="#000">(mm)</text>
<text x="224.04" y="2156.9" font-family="Liberation Serif" font-size="52" fill="#000" font-style="italic">y</text>
<text transform="translate(256.25,2156.9) scale(1.0292,1)" font-family="Liberation Serif" font-size="52" fill="#000">(mm)</text>
<g transform="translate(59.2,1733.8) rotate(-90)">
<text x="0.58" y="0" font-family="Liberation Serif" font-size="52" fill="#000" font-style="italic">z</text>
<text transform="translate(34.19,0) scale(1.0121,1)" font-family="Liberation Serif" font-size="52" fill="#000">(mm)</text>
</g>
<text transform="translate(507.15,1213.2) scale(1.0021,1)" font-family="Liberation Serif" font-size="51" fill="#000">(b)</text>
<text x="596.36" y="1213.2" font-family="Liberation Serif" font-size="51" fill="#000" font-style="italic">t</text>
<text x="610.66" y="1213.2" font-family="Liberation Serif" font-size="51" fill="#000">=</text>
<text x="637.38" y="1213.2" font-family="Liberation Serif" font-size="51" fill="#000">T</text>
<text x="667.5" y="1213.2" font-family="Liberation Serif" font-size="51" fill="#000">/</text>
<text x="680.66" y="1213.2" font-family="Liberation Serif" font-size="51" fill="#000">2</text>
<rect x="1303.5" y="1313.5" width="57" height="12.71" fill="#850000"/>
<rect x="1303.5" y="1325.61" width="57" height="12.71" fill="#8e0000"/>
<rect x="1303.5" y="1337.72" width="57" height="12.71" fill="#a50000"/>
<rect x="1303.5" y="1349.83" width="57" height="12.71" fill="#bd0000"/>
<rect x="1303.5" y="1361.94" width="57" height="12.71" fill="#d50000"/>
<rect x="1303.5" y="1374.05" width="57" height="12.71" fill="#ef0000"/>
<rect x="1303.5" y="1386.16" width="57" height="12.71" fill="#ff0000"/>
<rect x="1303.5" y="1398.27" width="57" height="12.71" fill="#ff0000"/>
<rect x="1303.5" y="1410.38" width="57" height="12.71" fill="#ff0000"/>
<rect x="1303.5" y="1422.48" width="57" height="12.71" fill="#ff0000"/>
<rect x="1303.5" y="1434.59" width="57" height="12.71" fill="#ff1500"/>
<rect x="1303.5" y="1446.7" width="57" height="12.71" fill="#ff2800"/>
<rect x="1303.5" y="1458.81" width="57" height="12.71" fill="#ff3900"/>
<rect x="1303.5" y="1470.92" width="57" height="12.71" fill="#ff4c00"/>
<rect x="1303.5" y="1483.03" width="57" height="12.71" fill="#ff5b00"/>
<rect x="1303.5" y="1495.14" width="57" height="12.71" fill="#ff6900"/>
<rect x="1303.5" y="1507.25" width="57" height="12.71" fill="#ff7700"/>
<rect x="1303.5" y="1519.36" width="57" height="12.71" fill="#ff8500"/>
<rect x="1303.5" y="1531.47" width="57" height="12.71" fill="#ff9300"/>
<rect x="1303.5" y="1543.58" width="57" height="12.71" fill="#ffa300"/>
<rect x="1303.5" y="1555.69" width="57" height="12.71" fill="#ffb300"/>
<rect x="1303.5" y="1567.8" width="57" height="12.71" fill="#ffc300"/>
<rect x="1303.5" y="1579.91" width="57" height="12.71" fill="#ffd800"/>
<rect x="1303.5" y="1592.02" width="57" height="12.71" fill="#ffed00"/>
<rect x="1303.5" y="1604.12" width="57" height="12.71" fill="#fcff00"/>
<rect x="1303.5" y="1616.23" width="57" height="12.71" fill="#e2ff00"/>
<rect x="1303.5" y="1628.34" width="57" height="12.71" fill="#c8ff00"/>
<rect x="1303.5" y="1640.45" width="57" height="12.71" fill="#aeff02"/>
<rect x="1303.5" y="1652.56" width="57" height="12.71" fill="#8eff22"/>
<rect x="1303.5" y="1664.67" width="57" height="12.71" fill="#69ff3c"/>
<rect x="1303.5" y="1676.78" width="57" height="12.71" fill="#3fff50"/>
<rect x="1303.5" y="1688.89" width="57" height="12.71" fill="#15ff5f"/>
<rect x="1303.5" y="1701" width="57" height="12.71" fill="#00ff6f"/>
<rect x="1303.5" y="1713.11" width="57" height="12.71" fill="#00ff80"/>
<rect x="1303.5" y="1725.22" width="57" height="12.71" fill="#00ff90"/>
<rect x="1303.5" y="1737.33" width="57" height="12.71" fill="#00ffa1"/>
<rect x="1303.5" y="1749.44" width="57" height="12.71" fill="#00ffb2"/>
<rect x="1303.5" y="1761.55" width="57" height="12.71" fill="#00ffc2"/>
<rect x="1303.5" y="1773.66" width="57" height="12.71" fill="#00ffd6"/>
<rect x="1303.5" y="1785.77" width="57" height="12.71" fill="#00ffee"/>
<rect x="1303.5" y="1797.88" width="57" height="12.71" fill="#00faff"/>
<rect x="1303.5" y="1809.98" width="57" height="12.71" fill="#00e9ff"/>
<rect x="1303.5" y="1822.09" width="57" height="12.71" fill="#00d9ff"/>
<rect x="1303.5" y="1834.2" width="57" height="12.71" fill="#00caff"/>
<rect x="1303.5" y="1846.31" width="57" height="12.71" fill="#00bbff"/>
<rect x="1303.5" y="1858.42" width="57" height="12.71" fill="#00abff"/>
<rect x="1303.5" y="1870.53" width="57" height="12.71" fill="#009cff"/>
<rect x="1303.5" y="1882.64" width="57" height="12.71" fill="#008cff"/>
<rect x="1303.5" y="1894.75" width="57" height="12.71" fill="#007cff"/>
<rect x="1303.5" y="1906.86" width="57" height="12.71" fill="#006cff"/>
<rect x="1303.5" y="1918.97" width="57" height="12.71" fill="#005dff"/>
<rect x="1303.5" y="1931.08" width="57" height="12.71" fill="#004dff"/>
<rect x="1303.5" y="1943.19" width="57" height="12.71" fill="#003dff"/>
<rect x="1303.5" y="1955.3" width="57" height="12.71" fill="#002cff"/>
<rect x="1303.5" y="1967.41" width="57" height="12.71" fill="#0017ff"/>
<rect x="1303.5" y="1979.52" width="57" height="12.71" fill="#0005ff"/>
<rect x="1303.5" y="1991.62" width="57" height="12.71" fill="#0000f4"/>
<rect x="1303.5" y="2003.73" width="57" height="12.71" fill="#0000e6"/>
<rect x="1303.5" y="2015.84" width="57" height="12.71" fill="#0000d7"/>
<rect x="1303.5" y="2027.95" width="57" height="12.71" fill="#0000c8"/>
<rect x="1303.5" y="2040.06" width="57" height="12.71" fill="#0000b9"/>
<rect x="1303.5" y="2052.17" width="57" height="12.71" fill="#0000a9"/>
<rect x="1303.5" y="2064.28" width="57" height="12.71" fill="#00009a"/>
<rect x="1303.5" y="2076.39" width="57" height="12.71" fill="#000089"/>
<rect x="1303.5" y="1313.5" width="57" height="775" fill="none" stroke="#262626" stroke-width="2.4"/>
<line x1="1349.5" y1="1331.4" x2="1360.5" y2="1331.4" stroke="#262626" stroke-width="1.8"/>
<polygon points="1388.00,1346.90 1392.09,1346.90 1392.09,1320.41 1389.48,1320.41 1388.00,1322.04 1385.89,1323.89 1383.57,1325.33 1381.00,1326.48 1381.00,1329.62 1382.94,1328.96 1385.47,1327.73 1387.03,1326.74 1388.00,1325.96" fill="#262626"/>
<line x1="1349.5" y1="1516.3" x2="1360.5" y2="1516.3" stroke="#262626" stroke-width="1.8"/>
<text transform="translate(1377.35,1531.8) scale(1.1400,1)" font-family="Liberation Sans" font-size="37" fill="#262626">0</text><text transform="translate(1400.81,1531.8) scale(1.1400,1)" font-family="Liberation Sans" font-size="37" fill="#262626">.</text><text transform="translate(1412.53,1531.8) scale(1.1400,1)" font-family="Liberation Sans" font-size="37" fill="#262626">5</text>
<line x1="1349.5" y1="1701.2" x2="1360.5" y2="1701.2" stroke="#262626" stroke-width="1.8"/>
<text transform="translate(1377.35,1716.7) scale(1.1400,1)" font-family="Liberation Sans" font-size="37" fill="#262626">0</text>
<line x1="1349.5" y1="1886.5" x2="1360.5" y2="1886.5" stroke="#262626" stroke-width="1.8"/>
<text transform="translate(1397.15,1902) scale(1.1400,1)" font-family="Liberation Sans" font-size="37" fill="#262626">0</text><text transform="translate(1420.61,1902) scale(1.1400,1)" font-family="Liberation Sans" font-size="37" fill="#262626">.</text><text transform="translate(1432.33,1902) scale(1.1400,1)" font-family="Liberation Sans" font-size="37" fill="#262626">5</text>
<line x1="1349.5" y1="2072" x2="1360.5" y2="2072" stroke="#262626" stroke-width="1.8"/>
<polygon points="1411.90,2087.50 1415.99,2087.50 1415.99,2061.01 1413.38,2061.01 1411.90,2062.64 1409.79,2064.49 1407.47,2065.93 1404.90,2067.08 1404.90,2070.22 1406.84,2069.55 1409.37,2068.33 1410.93,2067.34 1411.90,2066.56" fill="#262626"/>
<rect x="1370.9" y="1888" width="19.7" height="2.8" fill="#262626"/>
<rect x="1379.8" y="2077.3" width="19.6" height="2.8" fill="#262626"/>
</svg>
</body></html>
